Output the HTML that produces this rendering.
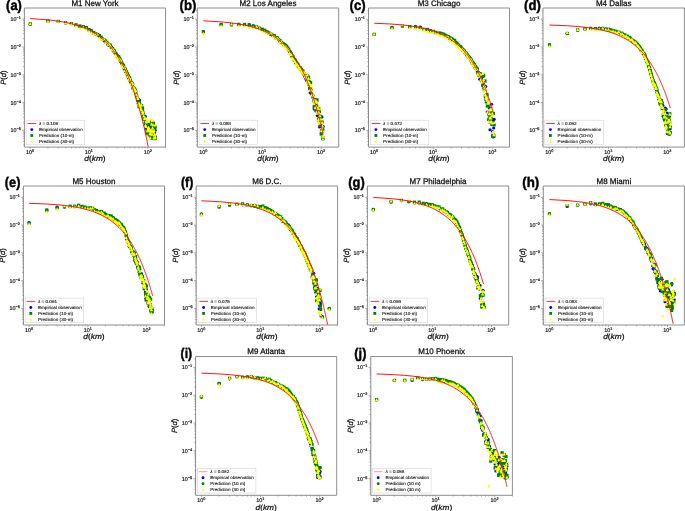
<!DOCTYPE html><html><head><meta charset="utf-8"><style>html,body{margin:0;padding:0;background:#fff}svg{display:block}text{text-rendering:geometricPrecision}</style></head><body>
<svg width="685" height="511" viewBox="0 0 685 511" font-family="&quot;Liberation Sans&quot;, sans-serif">
<rect x="0" y="0" width="685" height="511" fill="#fff"/>
<defs>
<filter id="gs" x="0" y="0" width="100%" height="100%"><feComponentTransfer><feFuncA type="linear" slope="1"/></feComponentTransfer></filter>
<path id="tri" d="M0,-1.6 L1.65,1.6 L-1.65,1.6 Z"/>
</defs>
<clipPath id="ca"><rect x="24.4" y="8" width="141.15" height="139.1"/></clipPath>
<g clip-path="url(#ca)">
<circle cx="30.2" cy="24.52" r="1.6" fill="#0000ff"/>
<circle cx="47.92" cy="21.1" r="1.6" fill="#0000ff"/>
<circle cx="58.28" cy="21.49" r="1.6" fill="#0000ff"/>
<circle cx="65.63" cy="22.79" r="1.6" fill="#0000ff"/>
<circle cx="71.33" cy="23.52" r="1.6" fill="#0000ff"/>
<circle cx="75.99" cy="25.27" r="1.6" fill="#0000ff"/>
<circle cx="79.93" cy="26.69" r="1.6" fill="#0000ff"/>
<circle cx="83.35" cy="26.73" r="1.6" fill="#0000ff"/>
<circle cx="86.36" cy="28.24" r="1.6" fill="#0000ff"/>
<circle cx="89.05" cy="29.45" r="1.6" fill="#0000ff"/>
<circle cx="91.49" cy="30.94" r="1.6" fill="#0000ff"/>
<circle cx="93.71" cy="33.44" r="1.6" fill="#0000ff"/>
<circle cx="95.76" cy="34.01" r="1.6" fill="#0000ff"/>
<circle cx="97.65" cy="34.99" r="1.6" fill="#0000ff"/>
<circle cx="99.41" cy="35.96" r="1.6" fill="#0000ff"/>
<circle cx="101.06" cy="37.62" r="1.6" fill="#0000ff"/>
<circle cx="102.61" cy="39.23" r="1.6" fill="#0000ff"/>
<circle cx="104.07" cy="40.56" r="1.6" fill="#0000ff"/>
<circle cx="105.45" cy="42.15" r="1.6" fill="#0000ff"/>
<circle cx="106.77" cy="42.71" r="1.6" fill="#0000ff"/>
<circle cx="108.01" cy="44.67" r="1.6" fill="#0000ff"/>
<circle cx="109.2" cy="45.14" r="1.6" fill="#0000ff"/>
<circle cx="110.34" cy="46.07" r="1.6" fill="#0000ff"/>
<circle cx="111.43" cy="47.58" r="1.6" fill="#0000ff"/>
<circle cx="112.47" cy="48.88" r="1.6" fill="#0000ff"/>
<circle cx="113.47" cy="51.07" r="1.6" fill="#0000ff"/>
<circle cx="114.44" cy="51.64" r="1.6" fill="#0000ff"/>
<circle cx="115.37" cy="53.39" r="1.6" fill="#0000ff"/>
<circle cx="116.26" cy="54.2" r="1.6" fill="#0000ff"/>
<circle cx="117.13" cy="55.9" r="1.6" fill="#0000ff"/>
<circle cx="117.97" cy="57.13" r="1.6" fill="#0000ff"/>
<circle cx="118.78" cy="57.41" r="1.6" fill="#0000ff"/>
<circle cx="119.56" cy="59.48" r="1.6" fill="#0000ff"/>
<circle cx="120.33" cy="60.3" r="1.6" fill="#0000ff"/>
<circle cx="121.07" cy="62.16" r="1.6" fill="#0000ff"/>
<circle cx="121.79" cy="63.39" r="1.6" fill="#0000ff"/>
<circle cx="122.49" cy="64.88" r="1.6" fill="#0000ff"/>
<circle cx="123.17" cy="64.79" r="1.6" fill="#0000ff"/>
<circle cx="123.83" cy="67.99" r="1.6" fill="#0000ff"/>
<circle cx="124.48" cy="68.37" r="1.6" fill="#0000ff"/>
<circle cx="125.11" cy="69.61" r="1.6" fill="#0000ff"/>
<circle cx="125.73" cy="70.77" r="1.6" fill="#0000ff"/>
<circle cx="126.33" cy="72.56" r="1.6" fill="#0000ff"/>
<circle cx="126.92" cy="72.97" r="1.6" fill="#0000ff"/>
<circle cx="127.49" cy="75.57" r="1.6" fill="#0000ff"/>
<circle cx="128.05" cy="75.42" r="1.6" fill="#0000ff"/>
<circle cx="128.6" cy="77.64" r="1.6" fill="#0000ff"/>
<circle cx="129.14" cy="78.4" r="1.6" fill="#0000ff"/>
<circle cx="129.67" cy="78.72" r="1.6" fill="#0000ff"/>
<circle cx="130.18" cy="80.42" r="1.6" fill="#0000ff"/>
<circle cx="130.69" cy="81.7" r="1.6" fill="#0000ff"/>
<circle cx="131.19" cy="82.73" r="1.6" fill="#0000ff"/>
<circle cx="131.67" cy="83.42" r="1.6" fill="#0000ff"/>
<circle cx="132.15" cy="84.51" r="1.6" fill="#0000ff"/>
<circle cx="132.62" cy="83.98" r="1.6" fill="#0000ff"/>
<circle cx="133.08" cy="88.41" r="1.6" fill="#0000ff"/>
<circle cx="134.41" cy="90.73" r="1.6" fill="#0000ff"/>
<circle cx="134.84" cy="89.47" r="1.6" fill="#0000ff"/>
<circle cx="135.27" cy="90.41" r="1.6" fill="#0000ff"/>
<circle cx="135.68" cy="91.65" r="1.6" fill="#0000ff"/>
<circle cx="136.49" cy="96.69" r="1.6" fill="#0000ff"/>
<circle cx="136.89" cy="98.31" r="1.6" fill="#0000ff"/>
<circle cx="137.66" cy="100.5" r="1.6" fill="#0000ff"/>
<circle cx="138.04" cy="99.01" r="1.6" fill="#0000ff"/>
<circle cx="138.42" cy="103.37" r="1.6" fill="#0000ff"/>
<circle cx="138.78" cy="103.92" r="1.6" fill="#0000ff"/>
<circle cx="139.15" cy="100.99" r="1.6" fill="#0000ff"/>
<circle cx="139.5" cy="100.08" r="1.6" fill="#0000ff"/>
<circle cx="139.86" cy="104.52" r="1.6" fill="#0000ff"/>
<circle cx="140.2" cy="105.24" r="1.6" fill="#0000ff"/>
<circle cx="141.22" cy="108.61" r="1.6" fill="#0000ff"/>
<circle cx="142.2" cy="108.55" r="1.6" fill="#0000ff"/>
<circle cx="142.51" cy="107.89" r="1.6" fill="#0000ff"/>
<circle cx="143.14" cy="116.22" r="1.6" fill="#0000ff"/>
<circle cx="143.44" cy="113.88" r="1.6" fill="#0000ff"/>
<circle cx="143.75" cy="118.23" r="1.6" fill="#0000ff"/>
<circle cx="144.05" cy="117.28" r="1.6" fill="#0000ff"/>
<circle cx="144.34" cy="117.47" r="1.6" fill="#0000ff"/>
<circle cx="144.63" cy="116.29" r="1.6" fill="#0000ff"/>
<circle cx="145.21" cy="116.43" r="1.6" fill="#0000ff"/>
<circle cx="145.77" cy="127.8" r="1.6" fill="#0000ff"/>
<circle cx="146.05" cy="123.45" r="1.6" fill="#0000ff"/>
<circle cx="146.32" cy="124.33" r="1.6" fill="#0000ff"/>
<circle cx="146.86" cy="132.92" r="1.6" fill="#0000ff"/>
<circle cx="147.38" cy="132.1" r="1.6" fill="#0000ff"/>
<circle cx="147.64" cy="126.65" r="1.6" fill="#0000ff"/>
<circle cx="147.9" cy="131.54" r="1.6" fill="#0000ff"/>
<circle cx="148.15" cy="129.14" r="1.6" fill="#0000ff"/>
<circle cx="148.66" cy="123.15" r="1.6" fill="#0000ff"/>
<circle cx="148.9" cy="134.96" r="1.6" fill="#0000ff"/>
<circle cx="149.15" cy="131.82" r="1.6" fill="#0000ff"/>
<circle cx="149.39" cy="128.62" r="1.6" fill="#0000ff"/>
<circle cx="149.63" cy="130.85" r="1.6" fill="#0000ff"/>
<circle cx="149.87" cy="125.6" r="1.6" fill="#0000ff"/>
<circle cx="150.34" cy="128.48" r="1.6" fill="#0000ff"/>
<circle cx="150.8" cy="124.57" r="1.6" fill="#0000ff"/>
<circle cx="151.02" cy="133.85" r="1.6" fill="#0000ff"/>
<circle cx="151.25" cy="136.84" r="1.6" fill="#0000ff"/>
<circle cx="151.47" cy="125.23" r="1.6" fill="#0000ff"/>
<circle cx="151.69" cy="122.6" r="1.6" fill="#0000ff"/>
<circle cx="151.91" cy="134.36" r="1.6" fill="#0000ff"/>
<circle cx="152.13" cy="134.93" r="1.6" fill="#0000ff"/>
<circle cx="152.35" cy="126.04" r="1.6" fill="#0000ff"/>
<circle cx="152.56" cy="126.61" r="1.6" fill="#0000ff"/>
<circle cx="152.77" cy="138.39" r="1.6" fill="#0000ff"/>
<circle cx="152.98" cy="127.72" r="1.6" fill="#0000ff"/>
<circle cx="153.19" cy="125.4" r="1.6" fill="#0000ff"/>
<circle cx="153.4" cy="123.31" r="1.6" fill="#0000ff"/>
<circle cx="153.6" cy="137.51" r="1.6" fill="#0000ff"/>
<circle cx="153.81" cy="131.75" r="1.6" fill="#0000ff"/>
<circle cx="154.01" cy="126.6" r="1.6" fill="#0000ff"/>
<circle cx="154.21" cy="138.37" r="1.6" fill="#0000ff"/>
<circle cx="154.61" cy="132.61" r="1.6" fill="#0000ff"/>
<circle cx="155" cy="137.26" r="1.6" fill="#0000ff"/>
<circle cx="155.19" cy="130.24" r="1.6" fill="#0000ff"/>
<circle cx="155.38" cy="136.64" r="1.6" fill="#0000ff"/>
<rect x="28.6" y="22.2" width="3.2" height="3.2" fill="#008000"/>
<rect x="46.32" y="19.43" width="3.2" height="3.2" fill="#008000"/>
<rect x="56.68" y="19.81" width="3.2" height="3.2" fill="#008000"/>
<rect x="64.03" y="21.07" width="3.2" height="3.2" fill="#008000"/>
<rect x="69.73" y="22.04" width="3.2" height="3.2" fill="#008000"/>
<rect x="74.39" y="23.18" width="3.2" height="3.2" fill="#008000"/>
<rect x="78.33" y="24.33" width="3.2" height="3.2" fill="#008000"/>
<rect x="81.75" y="25.18" width="3.2" height="3.2" fill="#008000"/>
<rect x="84.76" y="25.93" width="3.2" height="3.2" fill="#008000"/>
<rect x="87.45" y="28.32" width="3.2" height="3.2" fill="#008000"/>
<rect x="89.89" y="29.46" width="3.2" height="3.2" fill="#008000"/>
<rect x="92.11" y="30.91" width="3.2" height="3.2" fill="#008000"/>
<rect x="94.16" y="32.28" width="3.2" height="3.2" fill="#008000"/>
<rect x="96.05" y="32.84" width="3.2" height="3.2" fill="#008000"/>
<rect x="97.81" y="34.03" width="3.2" height="3.2" fill="#008000"/>
<rect x="99.46" y="35.6" width="3.2" height="3.2" fill="#008000"/>
<rect x="101.01" y="37.49" width="3.2" height="3.2" fill="#008000"/>
<rect x="102.47" y="38.12" width="3.2" height="3.2" fill="#008000"/>
<rect x="103.85" y="39.4" width="3.2" height="3.2" fill="#008000"/>
<rect x="105.17" y="40.71" width="3.2" height="3.2" fill="#008000"/>
<rect x="106.41" y="42.45" width="3.2" height="3.2" fill="#008000"/>
<rect x="107.6" y="43.68" width="3.2" height="3.2" fill="#008000"/>
<rect x="108.74" y="43.56" width="3.2" height="3.2" fill="#008000"/>
<rect x="109.83" y="45.89" width="3.2" height="3.2" fill="#008000"/>
<rect x="110.87" y="47.13" width="3.2" height="3.2" fill="#008000"/>
<rect x="111.87" y="48.45" width="3.2" height="3.2" fill="#008000"/>
<rect x="112.84" y="49.38" width="3.2" height="3.2" fill="#008000"/>
<rect x="113.77" y="51.6" width="3.2" height="3.2" fill="#008000"/>
<rect x="114.66" y="52.46" width="3.2" height="3.2" fill="#008000"/>
<rect x="115.53" y="54.04" width="3.2" height="3.2" fill="#008000"/>
<rect x="116.37" y="54.97" width="3.2" height="3.2" fill="#008000"/>
<rect x="117.18" y="55.31" width="3.2" height="3.2" fill="#008000"/>
<rect x="117.96" y="56.86" width="3.2" height="3.2" fill="#008000"/>
<rect x="118.73" y="58.36" width="3.2" height="3.2" fill="#008000"/>
<rect x="119.47" y="59.72" width="3.2" height="3.2" fill="#008000"/>
<rect x="120.19" y="61.19" width="3.2" height="3.2" fill="#008000"/>
<rect x="120.89" y="63.42" width="3.2" height="3.2" fill="#008000"/>
<rect x="121.57" y="63.93" width="3.2" height="3.2" fill="#008000"/>
<rect x="122.23" y="65.45" width="3.2" height="3.2" fill="#008000"/>
<rect x="122.88" y="66.91" width="3.2" height="3.2" fill="#008000"/>
<rect x="123.51" y="67.73" width="3.2" height="3.2" fill="#008000"/>
<rect x="124.13" y="69.47" width="3.2" height="3.2" fill="#008000"/>
<rect x="124.73" y="70.51" width="3.2" height="3.2" fill="#008000"/>
<rect x="125.32" y="71.72" width="3.2" height="3.2" fill="#008000"/>
<rect x="125.89" y="72.77" width="3.2" height="3.2" fill="#008000"/>
<rect x="126.45" y="74.18" width="3.2" height="3.2" fill="#008000"/>
<rect x="127" y="75.47" width="3.2" height="3.2" fill="#008000"/>
<rect x="127.54" y="76.49" width="3.2" height="3.2" fill="#008000"/>
<rect x="128.07" y="76.36" width="3.2" height="3.2" fill="#008000"/>
<rect x="128.58" y="78.88" width="3.2" height="3.2" fill="#008000"/>
<rect x="129.09" y="79.69" width="3.2" height="3.2" fill="#008000"/>
<rect x="129.59" y="81.27" width="3.2" height="3.2" fill="#008000"/>
<rect x="130.07" y="81.25" width="3.2" height="3.2" fill="#008000"/>
<rect x="130.55" y="82.57" width="3.2" height="3.2" fill="#008000"/>
<rect x="131.02" y="82.4" width="3.2" height="3.2" fill="#008000"/>
<rect x="131.48" y="86.89" width="3.2" height="3.2" fill="#008000"/>
<rect x="131.93" y="86.7" width="3.2" height="3.2" fill="#008000"/>
<rect x="132.38" y="86.59" width="3.2" height="3.2" fill="#008000"/>
<rect x="132.81" y="88.13" width="3.2" height="3.2" fill="#008000"/>
<rect x="133.24" y="87.75" width="3.2" height="3.2" fill="#008000"/>
<rect x="134.08" y="90.22" width="3.2" height="3.2" fill="#008000"/>
<rect x="134.49" y="93.16" width="3.2" height="3.2" fill="#008000"/>
<rect x="134.89" y="94.34" width="3.2" height="3.2" fill="#008000"/>
<rect x="135.29" y="95.42" width="3.2" height="3.2" fill="#008000"/>
<rect x="135.68" y="97.19" width="3.2" height="3.2" fill="#008000"/>
<rect x="136.06" y="98.11" width="3.2" height="3.2" fill="#008000"/>
<rect x="136.44" y="98.16" width="3.2" height="3.2" fill="#008000"/>
<rect x="136.82" y="101.47" width="3.2" height="3.2" fill="#008000"/>
<rect x="137.18" y="104.87" width="3.2" height="3.2" fill="#008000"/>
<rect x="137.55" y="101.75" width="3.2" height="3.2" fill="#008000"/>
<rect x="137.9" y="101.76" width="3.2" height="3.2" fill="#008000"/>
<rect x="138.26" y="103.59" width="3.2" height="3.2" fill="#008000"/>
<rect x="138.6" y="105.15" width="3.2" height="3.2" fill="#008000"/>
<rect x="139.95" y="103.89" width="3.2" height="3.2" fill="#008000"/>
<rect x="140.28" y="106.13" width="3.2" height="3.2" fill="#008000"/>
<rect x="140.6" y="110.54" width="3.2" height="3.2" fill="#008000"/>
<rect x="140.91" y="107.64" width="3.2" height="3.2" fill="#008000"/>
<rect x="141.23" y="110.84" width="3.2" height="3.2" fill="#008000"/>
<rect x="141.54" y="113.51" width="3.2" height="3.2" fill="#008000"/>
<rect x="141.84" y="115.04" width="3.2" height="3.2" fill="#008000"/>
<rect x="142.15" y="117.36" width="3.2" height="3.2" fill="#008000"/>
<rect x="142.45" y="115.75" width="3.2" height="3.2" fill="#008000"/>
<rect x="142.74" y="117.31" width="3.2" height="3.2" fill="#008000"/>
<rect x="143.61" y="122.04" width="3.2" height="3.2" fill="#008000"/>
<rect x="143.89" y="121.29" width="3.2" height="3.2" fill="#008000"/>
<rect x="144.45" y="122.85" width="3.2" height="3.2" fill="#008000"/>
<rect x="144.72" y="119.8" width="3.2" height="3.2" fill="#008000"/>
<rect x="144.99" y="122.68" width="3.2" height="3.2" fill="#008000"/>
<rect x="145.26" y="128.71" width="3.2" height="3.2" fill="#008000"/>
<rect x="145.52" y="120.72" width="3.2" height="3.2" fill="#008000"/>
<rect x="145.78" y="131.04" width="3.2" height="3.2" fill="#008000"/>
<rect x="146.3" y="128.78" width="3.2" height="3.2" fill="#008000"/>
<rect x="146.55" y="127.16" width="3.2" height="3.2" fill="#008000"/>
<rect x="146.81" y="126.25" width="3.2" height="3.2" fill="#008000"/>
<rect x="147.06" y="126.34" width="3.2" height="3.2" fill="#008000"/>
<rect x="147.3" y="131.32" width="3.2" height="3.2" fill="#008000"/>
<rect x="147.55" y="127.22" width="3.2" height="3.2" fill="#008000"/>
<rect x="147.79" y="129.51" width="3.2" height="3.2" fill="#008000"/>
<rect x="148.27" y="127.76" width="3.2" height="3.2" fill="#008000"/>
<rect x="148.5" y="133.01" width="3.2" height="3.2" fill="#008000"/>
<rect x="148.74" y="122.41" width="3.2" height="3.2" fill="#008000"/>
<rect x="148.97" y="134.85" width="3.2" height="3.2" fill="#008000"/>
<rect x="149.2" y="131.71" width="3.2" height="3.2" fill="#008000"/>
<rect x="149.42" y="127.31" width="3.2" height="3.2" fill="#008000"/>
<rect x="149.65" y="136.31" width="3.2" height="3.2" fill="#008000"/>
<rect x="149.87" y="121.37" width="3.2" height="3.2" fill="#008000"/>
<rect x="150.09" y="119.9" width="3.2" height="3.2" fill="#008000"/>
<rect x="150.31" y="132.46" width="3.2" height="3.2" fill="#008000"/>
<rect x="150.75" y="124.13" width="3.2" height="3.2" fill="#008000"/>
<rect x="150.96" y="126.3" width="3.2" height="3.2" fill="#008000"/>
<rect x="151.38" y="123.56" width="3.2" height="3.2" fill="#008000"/>
<rect x="151.59" y="121.41" width="3.2" height="3.2" fill="#008000"/>
<rect x="151.8" y="131.84" width="3.2" height="3.2" fill="#008000"/>
<rect x="152" y="136.53" width="3.2" height="3.2" fill="#008000"/>
<rect x="152.21" y="131.92" width="3.2" height="3.2" fill="#008000"/>
<rect x="152.61" y="135.78" width="3.2" height="3.2" fill="#008000"/>
<rect x="152.81" y="136.61" width="3.2" height="3.2" fill="#008000"/>
<rect x="153.01" y="127.8" width="3.2" height="3.2" fill="#008000"/>
<rect x="153.2" y="135.12" width="3.2" height="3.2" fill="#008000"/>
<rect x="153.4" y="137.02" width="3.2" height="3.2" fill="#008000"/>
<rect x="153.59" y="125.36" width="3.2" height="3.2" fill="#008000"/>
<rect x="153.78" y="136.71" width="3.2" height="3.2" fill="#008000"/>
<use href="#tri" x="30.2" y="23.59" fill="#ffff00"/>
<use href="#tri" x="47.92" y="21.24" fill="#ffff00"/>
<use href="#tri" x="58.28" y="21.17" fill="#ffff00"/>
<use href="#tri" x="65.63" y="22.52" fill="#ffff00"/>
<use href="#tri" x="71.33" y="23.57" fill="#ffff00"/>
<use href="#tri" x="75.99" y="25.82" fill="#ffff00"/>
<use href="#tri" x="79.93" y="28" fill="#ffff00"/>
<use href="#tri" x="83.35" y="27.31" fill="#ffff00"/>
<use href="#tri" x="86.36" y="28.65" fill="#ffff00"/>
<use href="#tri" x="89.05" y="30.58" fill="#ffff00"/>
<use href="#tri" x="91.49" y="32.12" fill="#ffff00"/>
<use href="#tri" x="93.71" y="33.87" fill="#ffff00"/>
<use href="#tri" x="95.76" y="33.83" fill="#ffff00"/>
<use href="#tri" x="97.65" y="34.49" fill="#ffff00"/>
<use href="#tri" x="99.41" y="38.1" fill="#ffff00"/>
<use href="#tri" x="101.06" y="38.98" fill="#ffff00"/>
<use href="#tri" x="102.61" y="39.09" fill="#ffff00"/>
<use href="#tri" x="104.07" y="39.05" fill="#ffff00"/>
<use href="#tri" x="105.45" y="42.15" fill="#ffff00"/>
<use href="#tri" x="106.77" y="42.41" fill="#ffff00"/>
<use href="#tri" x="108.01" y="44.12" fill="#ffff00"/>
<use href="#tri" x="109.2" y="44.36" fill="#ffff00"/>
<use href="#tri" x="110.34" y="45.95" fill="#ffff00"/>
<use href="#tri" x="111.43" y="48.53" fill="#ffff00"/>
<use href="#tri" x="112.47" y="48.78" fill="#ffff00"/>
<use href="#tri" x="113.47" y="49.88" fill="#ffff00"/>
<use href="#tri" x="114.44" y="51.04" fill="#ffff00"/>
<use href="#tri" x="115.37" y="54.3" fill="#ffff00"/>
<use href="#tri" x="116.26" y="55.78" fill="#ffff00"/>
<use href="#tri" x="117.13" y="57.95" fill="#ffff00"/>
<use href="#tri" x="117.97" y="57.84" fill="#ffff00"/>
<use href="#tri" x="118.78" y="58.04" fill="#ffff00"/>
<use href="#tri" x="119.56" y="59.06" fill="#ffff00"/>
<use href="#tri" x="120.33" y="59.9" fill="#ffff00"/>
<use href="#tri" x="121.07" y="60.69" fill="#ffff00"/>
<use href="#tri" x="121.79" y="64.27" fill="#ffff00"/>
<use href="#tri" x="122.49" y="65.62" fill="#ffff00"/>
<use href="#tri" x="123.17" y="66.75" fill="#ffff00"/>
<use href="#tri" x="123.83" y="66.85" fill="#ffff00"/>
<use href="#tri" x="124.48" y="67.35" fill="#ffff00"/>
<use href="#tri" x="125.11" y="70.23" fill="#ffff00"/>
<use href="#tri" x="125.73" y="70.32" fill="#ffff00"/>
<use href="#tri" x="126.33" y="72.38" fill="#ffff00"/>
<use href="#tri" x="126.92" y="73.69" fill="#ffff00"/>
<use href="#tri" x="127.49" y="76.44" fill="#ffff00"/>
<use href="#tri" x="128.05" y="75.78" fill="#ffff00"/>
<use href="#tri" x="128.6" y="79.17" fill="#ffff00"/>
<use href="#tri" x="129.14" y="77.59" fill="#ffff00"/>
<use href="#tri" x="129.67" y="78.41" fill="#ffff00"/>
<use href="#tri" x="130.18" y="79.82" fill="#ffff00"/>
<use href="#tri" x="130.69" y="83.06" fill="#ffff00"/>
<use href="#tri" x="131.19" y="83.22" fill="#ffff00"/>
<use href="#tri" x="131.67" y="84.82" fill="#ffff00"/>
<use href="#tri" x="132.15" y="83.47" fill="#ffff00"/>
<use href="#tri" x="132.62" y="83.04" fill="#ffff00"/>
<use href="#tri" x="133.08" y="88.18" fill="#ffff00"/>
<use href="#tri" x="133.53" y="89.11" fill="#ffff00"/>
<use href="#tri" x="133.98" y="87.69" fill="#ffff00"/>
<use href="#tri" x="134.41" y="91.44" fill="#ffff00"/>
<use href="#tri" x="134.84" y="89.59" fill="#ffff00"/>
<use href="#tri" x="135.27" y="90.41" fill="#ffff00"/>
<use href="#tri" x="135.68" y="90.34" fill="#ffff00"/>
<use href="#tri" x="136.09" y="94.41" fill="#ffff00"/>
<use href="#tri" x="136.49" y="98.17" fill="#ffff00"/>
<use href="#tri" x="137.28" y="96.8" fill="#ffff00"/>
<use href="#tri" x="138.04" y="98.49" fill="#ffff00"/>
<use href="#tri" x="138.42" y="103.89" fill="#ffff00"/>
<use href="#tri" x="138.78" y="105.57" fill="#ffff00"/>
<use href="#tri" x="139.15" y="103.16" fill="#ffff00"/>
<use href="#tri" x="139.5" y="104.41" fill="#ffff00"/>
<use href="#tri" x="140.2" y="106.4" fill="#ffff00"/>
<use href="#tri" x="140.55" y="109.19" fill="#ffff00"/>
<use href="#tri" x="140.89" y="109.54" fill="#ffff00"/>
<use href="#tri" x="141.22" y="108.94" fill="#ffff00"/>
<use href="#tri" x="141.55" y="105.02" fill="#ffff00"/>
<use href="#tri" x="142.51" y="111.53" fill="#ffff00"/>
<use href="#tri" x="142.83" y="111.92" fill="#ffff00"/>
<use href="#tri" x="143.14" y="113.21" fill="#ffff00"/>
<use href="#tri" x="143.75" y="115.93" fill="#ffff00"/>
<use href="#tri" x="144.63" y="118.44" fill="#ffff00"/>
<use href="#tri" x="144.92" y="117.54" fill="#ffff00"/>
<use href="#tri" x="145.49" y="125.29" fill="#ffff00"/>
<use href="#tri" x="146.05" y="126.28" fill="#ffff00"/>
<use href="#tri" x="146.32" y="121.86" fill="#ffff00"/>
<use href="#tri" x="146.59" y="120.87" fill="#ffff00"/>
<use href="#tri" x="147.12" y="119.77" fill="#ffff00"/>
<use href="#tri" x="147.38" y="136.57" fill="#ffff00"/>
<use href="#tri" x="147.64" y="130.53" fill="#ffff00"/>
<use href="#tri" x="147.9" y="129.56" fill="#ffff00"/>
<use href="#tri" x="148.15" y="130.22" fill="#ffff00"/>
<use href="#tri" x="148.41" y="127.32" fill="#ffff00"/>
<use href="#tri" x="148.66" y="121.51" fill="#ffff00"/>
<use href="#tri" x="148.9" y="130.63" fill="#ffff00"/>
<use href="#tri" x="149.15" y="128.44" fill="#ffff00"/>
<use href="#tri" x="149.39" y="129.33" fill="#ffff00"/>
<use href="#tri" x="149.63" y="130.01" fill="#ffff00"/>
<use href="#tri" x="149.87" y="133.53" fill="#ffff00"/>
<use href="#tri" x="150.1" y="137.66" fill="#ffff00"/>
<use href="#tri" x="150.34" y="133.64" fill="#ffff00"/>
<use href="#tri" x="151.02" y="130.1" fill="#ffff00"/>
<use href="#tri" x="151.25" y="131.14" fill="#ffff00"/>
<use href="#tri" x="151.47" y="123.82" fill="#ffff00"/>
<use href="#tri" x="151.69" y="119.46" fill="#ffff00"/>
<use href="#tri" x="151.91" y="134.19" fill="#ffff00"/>
<use href="#tri" x="152.13" y="130.82" fill="#ffff00"/>
<use href="#tri" x="152.35" y="120.28" fill="#ffff00"/>
<use href="#tri" x="152.56" y="127.89" fill="#ffff00"/>
<use href="#tri" x="152.98" y="124.69" fill="#ffff00"/>
<use href="#tri" x="153.6" y="131.97" fill="#ffff00"/>
<use href="#tri" x="153.81" y="137.95" fill="#ffff00"/>
<use href="#tri" x="154.01" y="130.33" fill="#ffff00"/>
<use href="#tri" x="154.41" y="134.94" fill="#ffff00"/>
<use href="#tri" x="154.8" y="134.37" fill="#ffff00"/>
<use href="#tri" x="155" y="137.74" fill="#ffff00"/>
<use href="#tri" x="155.19" y="124.78" fill="#ffff00"/>
<use href="#tri" x="155.38" y="136.95" fill="#ffff00"/>
<polyline points="30.2,18.55 47.92,19.83 58.28,21.11 65.63,22.39 71.33,23.67 75.99,24.95 79.93,26.23 83.35,27.5 86.36,28.78 89.05,30.06 91.49,31.34 93.71,32.62 95.76,33.9 97.65,35.18 99.41,36.46 101.06,37.74 102.61,39.02 104.07,40.3 105.45,41.58 106.77,42.86 108.01,44.14 109.2,45.42 110.34,46.7 111.43,47.98 112.47,49.26 113.47,50.54 114.44,51.82 115.37,53.1 116.26,54.38 117.13,55.66 117.97,56.94 118.78,58.22 119.56,59.5 120.33,60.78 121.07,62.06 121.79,63.34 122.49,64.62 123.17,65.9 123.83,67.18 124.48,68.46 125.11,69.74 125.73,71.02 126.33,72.3 126.92,73.58 127.49,74.86 128.05,76.14 128.6,77.42 129.14,78.7 129.67,79.98 130.18,81.26 130.69,82.54 131.19,83.82 131.67,85.1 132.15,86.37 132.62,87.65 133.08,88.93 133.53,90.21 133.98,91.49 134.41,92.77 134.84,94.05 135.27,95.33 135.68,96.61 136.09,97.89 136.49,99.17 136.89,100.45 137.28,101.73 137.66,103.01 138.04,104.29 138.42,105.57 138.78,106.85 139.15,108.13 139.5,109.41 139.86,110.69 140.2,111.97 140.55,113.25 140.89,114.53 141.22,115.81 141.55,117.09 141.88,118.37 142.2,119.65 142.51,120.93 142.83,122.21 143.14,123.49 143.44,124.77 143.75,126.05 144.05,127.33 144.34,128.61 144.63,129.89 144.92,131.17 145.21,132.45 145.49,133.73 145.77,135.01 146.05,136.29 146.32,137.57 146.59,138.85 146.86,140.13 147.12,141.41 147.38,142.69 147.64,143.96 147.9,145.24 148.15,146.52 148.41,147.8" fill="none" stroke="#ff1414" stroke-width="1.0" stroke-linejoin="round"/>
</g>
<rect x="26.15" y="120.2" width="58.55" height="24.6" fill="#fff" fill-opacity="0.85" stroke="#d4d4d4" stroke-width="0.6"/>
<line x1="27.6" y1="123.5" x2="36.2" y2="123.5" stroke="#ff2020" stroke-width="0.9"/>
<circle cx="31.8" cy="129.6" r="1.45" fill="#0000ff"/>
<rect x="30.4" y="134.1" width="2.8" height="2.8" fill="#008000"/>
<path d="M31.8,139.85 L33.25,142.65 L30.35,142.65 Z" fill="#ffff00"/>
<path d="M24.4,8H165.55V147.1H24.4Z" fill="none" stroke="#8e8e8e" stroke-width="1"/>
<path d="M30.2,147.1v2.2M47.92,147.1v1.3M58.28,147.1v1.3M65.63,147.1v1.3M71.33,147.1v1.3M75.99,147.1v1.3M79.93,147.1v1.3M83.35,147.1v1.3M86.36,147.1v1.3M89.05,147.1v2.2M106.77,147.1v1.3M117.13,147.1v1.3M124.48,147.1v1.3M130.18,147.1v1.3M134.84,147.1v1.3M138.78,147.1v1.3M142.2,147.1v1.3M145.21,147.1v1.3M147.9,147.1v2.2M165.62,147.1v1.3M24.4,144.99h-1.3M24.4,141.51h-1.3M24.4,138.82h-1.3M24.4,136.62h-1.3M24.4,134.76h-1.3M24.4,133.14h-1.3M24.4,131.72h-1.3M24.4,130.45h-2.2M24.4,122.08h-1.3M24.4,117.19h-1.3M24.4,113.71h-1.3M24.4,111.02h-1.3M24.4,108.82h-1.3M24.4,106.96h-1.3M24.4,105.34h-1.3M24.4,103.92h-1.3M24.4,102.65h-2.2M24.4,94.28h-1.3M24.4,89.39h-1.3M24.4,85.91h-1.3M24.4,83.22h-1.3M24.4,81.02h-1.3M24.4,79.16h-1.3M24.4,77.54h-1.3M24.4,76.12h-1.3M24.4,74.85h-2.2M24.4,66.48h-1.3M24.4,61.59h-1.3M24.4,58.11h-1.3M24.4,55.42h-1.3M24.4,53.22h-1.3M24.4,51.36h-1.3M24.4,49.74h-1.3M24.4,48.32h-1.3M24.4,47.05h-2.2M24.4,38.68h-1.3M24.4,33.79h-1.3M24.4,30.31h-1.3M24.4,27.62h-1.3M24.4,25.42h-1.3M24.4,23.56h-1.3M24.4,21.94h-1.3M24.4,20.52h-1.3M24.4,19.25h-2.2M24.4,10.88h-1.3" stroke="#707070" stroke-width="0.55" fill="none"/>
<clipPath id="cb"><rect x="197.3" y="8" width="141.4" height="139.1"/></clipPath>
<g clip-path="url(#cb)">
<circle cx="203.4" cy="31.87" r="1.6" fill="#0000ff"/>
<circle cx="221.13" cy="24.4" r="1.6" fill="#0000ff"/>
<circle cx="231.5" cy="24.28" r="1.6" fill="#0000ff"/>
<circle cx="238.86" cy="24.43" r="1.6" fill="#0000ff"/>
<circle cx="244.57" cy="24.72" r="1.6" fill="#0000ff"/>
<circle cx="249.23" cy="25.16" r="1.6" fill="#0000ff"/>
<circle cx="253.18" cy="25.96" r="1.6" fill="#0000ff"/>
<circle cx="256.59" cy="26.81" r="1.6" fill="#0000ff"/>
<circle cx="259.6" cy="28.22" r="1.6" fill="#0000ff"/>
<circle cx="262.3" cy="29.72" r="1.6" fill="#0000ff"/>
<circle cx="264.74" cy="30.52" r="1.6" fill="#0000ff"/>
<circle cx="266.96" cy="31.79" r="1.6" fill="#0000ff"/>
<circle cx="269.01" cy="33.1" r="1.6" fill="#0000ff"/>
<circle cx="270.91" cy="34.22" r="1.6" fill="#0000ff"/>
<circle cx="272.67" cy="35.26" r="1.6" fill="#0000ff"/>
<circle cx="274.32" cy="35.98" r="1.6" fill="#0000ff"/>
<circle cx="275.87" cy="37.41" r="1.6" fill="#0000ff"/>
<circle cx="277.34" cy="38.18" r="1.6" fill="#0000ff"/>
<circle cx="278.72" cy="39.66" r="1.6" fill="#0000ff"/>
<circle cx="280.03" cy="40.92" r="1.6" fill="#0000ff"/>
<circle cx="281.28" cy="42.53" r="1.6" fill="#0000ff"/>
<circle cx="282.47" cy="43" r="1.6" fill="#0000ff"/>
<circle cx="283.61" cy="44.99" r="1.6" fill="#0000ff"/>
<circle cx="284.69" cy="44.57" r="1.6" fill="#0000ff"/>
<circle cx="285.74" cy="46.36" r="1.6" fill="#0000ff"/>
<circle cx="286.74" cy="46.57" r="1.6" fill="#0000ff"/>
<circle cx="287.71" cy="48.56" r="1.6" fill="#0000ff"/>
<circle cx="288.64" cy="50.12" r="1.6" fill="#0000ff"/>
<circle cx="289.54" cy="51.63" r="1.6" fill="#0000ff"/>
<circle cx="290.4" cy="52.42" r="1.6" fill="#0000ff"/>
<circle cx="291.24" cy="54.26" r="1.6" fill="#0000ff"/>
<circle cx="292.05" cy="56.07" r="1.6" fill="#0000ff"/>
<circle cx="292.84" cy="57.17" r="1.6" fill="#0000ff"/>
<circle cx="293.6" cy="58.84" r="1.6" fill="#0000ff"/>
<circle cx="294.35" cy="60.47" r="1.6" fill="#0000ff"/>
<circle cx="295.07" cy="59.89" r="1.6" fill="#0000ff"/>
<circle cx="295.77" cy="63.2" r="1.6" fill="#0000ff"/>
<circle cx="296.45" cy="63.36" r="1.6" fill="#0000ff"/>
<circle cx="297.11" cy="64.28" r="1.6" fill="#0000ff"/>
<circle cx="297.76" cy="64.15" r="1.6" fill="#0000ff"/>
<circle cx="298.39" cy="66.3" r="1.6" fill="#0000ff"/>
<circle cx="299.01" cy="67.14" r="1.6" fill="#0000ff"/>
<circle cx="299.61" cy="67.69" r="1.6" fill="#0000ff"/>
<circle cx="300.2" cy="68.47" r="1.6" fill="#0000ff"/>
<circle cx="300.77" cy="69" r="1.6" fill="#0000ff"/>
<circle cx="301.34" cy="69.87" r="1.6" fill="#0000ff"/>
<circle cx="301.89" cy="71.45" r="1.6" fill="#0000ff"/>
<circle cx="302.43" cy="71.72" r="1.6" fill="#0000ff"/>
<circle cx="302.95" cy="71.88" r="1.6" fill="#0000ff"/>
<circle cx="303.47" cy="72.93" r="1.6" fill="#0000ff"/>
<circle cx="304.96" cy="76.61" r="1.6" fill="#0000ff"/>
<circle cx="305.44" cy="75.73" r="1.6" fill="#0000ff"/>
<circle cx="305.91" cy="78.95" r="1.6" fill="#0000ff"/>
<circle cx="306.37" cy="77.07" r="1.6" fill="#0000ff"/>
<circle cx="306.82" cy="81.12" r="1.6" fill="#0000ff"/>
<circle cx="307.27" cy="75.45" r="1.6" fill="#0000ff"/>
<circle cx="307.7" cy="81.38" r="1.6" fill="#0000ff"/>
<circle cx="308.13" cy="82.5" r="1.6" fill="#0000ff"/>
<circle cx="308.56" cy="78.14" r="1.6" fill="#0000ff"/>
<circle cx="309.38" cy="82.52" r="1.6" fill="#0000ff"/>
<circle cx="309.78" cy="88.21" r="1.6" fill="#0000ff"/>
<circle cx="310.18" cy="92.82" r="1.6" fill="#0000ff"/>
<circle cx="310.96" cy="89.56" r="1.6" fill="#0000ff"/>
<circle cx="311.33" cy="90.67" r="1.6" fill="#0000ff"/>
<circle cx="311.71" cy="94.77" r="1.6" fill="#0000ff"/>
<circle cx="313.15" cy="95.82" r="1.6" fill="#0000ff"/>
<circle cx="314.18" cy="109.05" r="1.6" fill="#0000ff"/>
<circle cx="314.51" cy="99.85" r="1.6" fill="#0000ff"/>
<circle cx="314.84" cy="106.16" r="1.6" fill="#0000ff"/>
<circle cx="315.17" cy="104.27" r="1.6" fill="#0000ff"/>
<circle cx="315.49" cy="99.8" r="1.6" fill="#0000ff"/>
<circle cx="315.81" cy="101.63" r="1.6" fill="#0000ff"/>
<circle cx="316.12" cy="111.49" r="1.6" fill="#0000ff"/>
<circle cx="316.43" cy="110.61" r="1.6" fill="#0000ff"/>
<circle cx="316.74" cy="102.06" r="1.6" fill="#0000ff"/>
<circle cx="317.34" cy="115.39" r="1.6" fill="#0000ff"/>
<circle cx="317.64" cy="111.68" r="1.6" fill="#0000ff"/>
<circle cx="318.22" cy="114.34" r="1.6" fill="#0000ff"/>
<circle cx="318.5" cy="121.64" r="1.6" fill="#0000ff"/>
<circle cx="319.07" cy="120.85" r="1.6" fill="#0000ff"/>
<circle cx="319.34" cy="108.68" r="1.6" fill="#0000ff"/>
<circle cx="319.62" cy="126.98" r="1.6" fill="#0000ff"/>
<circle cx="320.16" cy="117.93" r="1.6" fill="#0000ff"/>
<circle cx="320.42" cy="117.97" r="1.6" fill="#0000ff"/>
<circle cx="320.94" cy="124.97" r="1.6" fill="#0000ff"/>
<circle cx="321.71" cy="129.9" r="1.6" fill="#0000ff"/>
<circle cx="321.96" cy="117" r="1.6" fill="#0000ff"/>
<circle cx="322.2" cy="130.48" r="1.6" fill="#0000ff"/>
<circle cx="322.45" cy="131.44" r="1.6" fill="#0000ff"/>
<circle cx="322.69" cy="129.65" r="1.6" fill="#0000ff"/>
<circle cx="322.93" cy="139.17" r="1.6" fill="#0000ff"/>
<circle cx="323.17" cy="126.6" r="1.6" fill="#0000ff"/>
<rect x="201.8" y="30.12" width="3.2" height="3.2" fill="#008000"/>
<rect x="219.53" y="23.12" width="3.2" height="3.2" fill="#008000"/>
<rect x="229.9" y="23.34" width="3.2" height="3.2" fill="#008000"/>
<rect x="237.26" y="22.8" width="3.2" height="3.2" fill="#008000"/>
<rect x="242.97" y="22.87" width="3.2" height="3.2" fill="#008000"/>
<rect x="247.63" y="23.1" width="3.2" height="3.2" fill="#008000"/>
<rect x="251.58" y="24.37" width="3.2" height="3.2" fill="#008000"/>
<rect x="254.99" y="25.43" width="3.2" height="3.2" fill="#008000"/>
<rect x="258" y="26.74" width="3.2" height="3.2" fill="#008000"/>
<rect x="260.7" y="27.63" width="3.2" height="3.2" fill="#008000"/>
<rect x="263.14" y="28.63" width="3.2" height="3.2" fill="#008000"/>
<rect x="265.36" y="30.24" width="3.2" height="3.2" fill="#008000"/>
<rect x="267.41" y="31.44" width="3.2" height="3.2" fill="#008000"/>
<rect x="269.31" y="32.65" width="3.2" height="3.2" fill="#008000"/>
<rect x="271.07" y="33.7" width="3.2" height="3.2" fill="#008000"/>
<rect x="272.72" y="34.12" width="3.2" height="3.2" fill="#008000"/>
<rect x="274.27" y="36.08" width="3.2" height="3.2" fill="#008000"/>
<rect x="275.74" y="36.4" width="3.2" height="3.2" fill="#008000"/>
<rect x="277.12" y="37.83" width="3.2" height="3.2" fill="#008000"/>
<rect x="278.43" y="39.22" width="3.2" height="3.2" fill="#008000"/>
<rect x="279.68" y="40.75" width="3.2" height="3.2" fill="#008000"/>
<rect x="280.87" y="41.79" width="3.2" height="3.2" fill="#008000"/>
<rect x="282.01" y="42.39" width="3.2" height="3.2" fill="#008000"/>
<rect x="283.09" y="43.16" width="3.2" height="3.2" fill="#008000"/>
<rect x="284.14" y="43.9" width="3.2" height="3.2" fill="#008000"/>
<rect x="285.14" y="44.92" width="3.2" height="3.2" fill="#008000"/>
<rect x="286.11" y="46.9" width="3.2" height="3.2" fill="#008000"/>
<rect x="287.04" y="47.58" width="3.2" height="3.2" fill="#008000"/>
<rect x="287.94" y="49.65" width="3.2" height="3.2" fill="#008000"/>
<rect x="288.8" y="50.73" width="3.2" height="3.2" fill="#008000"/>
<rect x="289.64" y="52.22" width="3.2" height="3.2" fill="#008000"/>
<rect x="290.45" y="54.41" width="3.2" height="3.2" fill="#008000"/>
<rect x="291.24" y="54.72" width="3.2" height="3.2" fill="#008000"/>
<rect x="292" y="57.25" width="3.2" height="3.2" fill="#008000"/>
<rect x="292.75" y="58.56" width="3.2" height="3.2" fill="#008000"/>
<rect x="293.47" y="58.75" width="3.2" height="3.2" fill="#008000"/>
<rect x="294.17" y="60.6" width="3.2" height="3.2" fill="#008000"/>
<rect x="294.85" y="61.88" width="3.2" height="3.2" fill="#008000"/>
<rect x="295.51" y="62.2" width="3.2" height="3.2" fill="#008000"/>
<rect x="296.16" y="62.97" width="3.2" height="3.2" fill="#008000"/>
<rect x="296.79" y="64.81" width="3.2" height="3.2" fill="#008000"/>
<rect x="297.41" y="65.54" width="3.2" height="3.2" fill="#008000"/>
<rect x="298.01" y="66.28" width="3.2" height="3.2" fill="#008000"/>
<rect x="298.6" y="66.21" width="3.2" height="3.2" fill="#008000"/>
<rect x="299.17" y="67.41" width="3.2" height="3.2" fill="#008000"/>
<rect x="299.74" y="67.98" width="3.2" height="3.2" fill="#008000"/>
<rect x="300.29" y="69" width="3.2" height="3.2" fill="#008000"/>
<rect x="300.83" y="70.47" width="3.2" height="3.2" fill="#008000"/>
<rect x="301.35" y="69.59" width="3.2" height="3.2" fill="#008000"/>
<rect x="301.87" y="72.45" width="3.2" height="3.2" fill="#008000"/>
<rect x="302.87" y="72.39" width="3.2" height="3.2" fill="#008000"/>
<rect x="303.36" y="73.86" width="3.2" height="3.2" fill="#008000"/>
<rect x="303.84" y="74.64" width="3.2" height="3.2" fill="#008000"/>
<rect x="305.67" y="75.02" width="3.2" height="3.2" fill="#008000"/>
<rect x="306.1" y="79.93" width="3.2" height="3.2" fill="#008000"/>
<rect x="306.53" y="79.8" width="3.2" height="3.2" fill="#008000"/>
<rect x="306.96" y="75.57" width="3.2" height="3.2" fill="#008000"/>
<rect x="307.37" y="82.6" width="3.2" height="3.2" fill="#008000"/>
<rect x="307.78" y="80.25" width="3.2" height="3.2" fill="#008000"/>
<rect x="308.18" y="87.01" width="3.2" height="3.2" fill="#008000"/>
<rect x="308.58" y="86.58" width="3.2" height="3.2" fill="#008000"/>
<rect x="308.97" y="81.08" width="3.2" height="3.2" fill="#008000"/>
<rect x="309.73" y="89.96" width="3.2" height="3.2" fill="#008000"/>
<rect x="310.84" y="93.59" width="3.2" height="3.2" fill="#008000"/>
<rect x="311.2" y="95.19" width="3.2" height="3.2" fill="#008000"/>
<rect x="312.24" y="99.09" width="3.2" height="3.2" fill="#008000"/>
<rect x="312.58" y="105.25" width="3.2" height="3.2" fill="#008000"/>
<rect x="313.24" y="99.44" width="3.2" height="3.2" fill="#008000"/>
<rect x="313.57" y="103.54" width="3.2" height="3.2" fill="#008000"/>
<rect x="313.89" y="99.44" width="3.2" height="3.2" fill="#008000"/>
<rect x="314.21" y="100.39" width="3.2" height="3.2" fill="#008000"/>
<rect x="314.52" y="103.91" width="3.2" height="3.2" fill="#008000"/>
<rect x="314.83" y="109.26" width="3.2" height="3.2" fill="#008000"/>
<rect x="315.14" y="105.21" width="3.2" height="3.2" fill="#008000"/>
<rect x="315.44" y="98.33" width="3.2" height="3.2" fill="#008000"/>
<rect x="315.74" y="106.57" width="3.2" height="3.2" fill="#008000"/>
<rect x="316.04" y="109.68" width="3.2" height="3.2" fill="#008000"/>
<rect x="316.33" y="110.92" width="3.2" height="3.2" fill="#008000"/>
<rect x="316.62" y="109.83" width="3.2" height="3.2" fill="#008000"/>
<rect x="316.9" y="118.21" width="3.2" height="3.2" fill="#008000"/>
<rect x="317.19" y="110.37" width="3.2" height="3.2" fill="#008000"/>
<rect x="317.47" y="116.52" width="3.2" height="3.2" fill="#008000"/>
<rect x="317.74" y="109.69" width="3.2" height="3.2" fill="#008000"/>
<rect x="318.02" y="118.56" width="3.2" height="3.2" fill="#008000"/>
<rect x="318.29" y="123.74" width="3.2" height="3.2" fill="#008000"/>
<rect x="318.56" y="114.6" width="3.2" height="3.2" fill="#008000"/>
<rect x="318.82" y="117.77" width="3.2" height="3.2" fill="#008000"/>
<rect x="319.08" y="120.78" width="3.2" height="3.2" fill="#008000"/>
<rect x="319.34" y="115.05" width="3.2" height="3.2" fill="#008000"/>
<rect x="319.6" y="132.44" width="3.2" height="3.2" fill="#008000"/>
<rect x="319.85" y="129.71" width="3.2" height="3.2" fill="#008000"/>
<rect x="320.6" y="120.46" width="3.2" height="3.2" fill="#008000"/>
<rect x="320.85" y="128.66" width="3.2" height="3.2" fill="#008000"/>
<rect x="321.09" y="127.63" width="3.2" height="3.2" fill="#008000"/>
<rect x="321.33" y="136.14" width="3.2" height="3.2" fill="#008000"/>
<use href="#tri" x="203.4" y="33.35" fill="#ffff00"/>
<use href="#tri" x="221.13" y="25.59" fill="#ffff00"/>
<use href="#tri" x="231.5" y="24.01" fill="#ffff00"/>
<use href="#tri" x="238.86" y="25.62" fill="#ffff00"/>
<use href="#tri" x="244.57" y="25.98" fill="#ffff00"/>
<use href="#tri" x="249.23" y="27.06" fill="#ffff00"/>
<use href="#tri" x="253.18" y="27.08" fill="#ffff00"/>
<use href="#tri" x="256.59" y="26.64" fill="#ffff00"/>
<use href="#tri" x="259.6" y="28.4" fill="#ffff00"/>
<use href="#tri" x="262.3" y="31" fill="#ffff00"/>
<use href="#tri" x="264.74" y="31.48" fill="#ffff00"/>
<use href="#tri" x="266.96" y="32.51" fill="#ffff00"/>
<use href="#tri" x="269.01" y="33.24" fill="#ffff00"/>
<use href="#tri" x="270.91" y="33.31" fill="#ffff00"/>
<use href="#tri" x="272.67" y="35.8" fill="#ffff00"/>
<use href="#tri" x="274.32" y="36.69" fill="#ffff00"/>
<use href="#tri" x="275.87" y="37.76" fill="#ffff00"/>
<use href="#tri" x="277.34" y="38.24" fill="#ffff00"/>
<use href="#tri" x="278.72" y="39.26" fill="#ffff00"/>
<use href="#tri" x="280.03" y="41.87" fill="#ffff00"/>
<use href="#tri" x="281.28" y="41.43" fill="#ffff00"/>
<use href="#tri" x="282.47" y="43.73" fill="#ffff00"/>
<use href="#tri" x="283.61" y="45.04" fill="#ffff00"/>
<use href="#tri" x="284.69" y="46.11" fill="#ffff00"/>
<use href="#tri" x="285.74" y="46.18" fill="#ffff00"/>
<use href="#tri" x="286.74" y="47.81" fill="#ffff00"/>
<use href="#tri" x="287.71" y="48.63" fill="#ffff00"/>
<use href="#tri" x="288.64" y="49.84" fill="#ffff00"/>
<use href="#tri" x="289.54" y="52.88" fill="#ffff00"/>
<use href="#tri" x="290.4" y="54.07" fill="#ffff00"/>
<use href="#tri" x="291.24" y="54.49" fill="#ffff00"/>
<use href="#tri" x="292.05" y="57.6" fill="#ffff00"/>
<use href="#tri" x="292.84" y="58.9" fill="#ffff00"/>
<use href="#tri" x="293.6" y="59.24" fill="#ffff00"/>
<use href="#tri" x="294.35" y="61.29" fill="#ffff00"/>
<use href="#tri" x="295.07" y="61.66" fill="#ffff00"/>
<use href="#tri" x="295.77" y="63.86" fill="#ffff00"/>
<use href="#tri" x="296.45" y="64.12" fill="#ffff00"/>
<use href="#tri" x="297.11" y="64.55" fill="#ffff00"/>
<use href="#tri" x="297.76" y="65.21" fill="#ffff00"/>
<use href="#tri" x="298.39" y="67.15" fill="#ffff00"/>
<use href="#tri" x="299.01" y="67.28" fill="#ffff00"/>
<use href="#tri" x="299.61" y="68.3" fill="#ffff00"/>
<use href="#tri" x="300.2" y="68.4" fill="#ffff00"/>
<use href="#tri" x="300.77" y="69.27" fill="#ffff00"/>
<use href="#tri" x="301.34" y="70.81" fill="#ffff00"/>
<use href="#tri" x="301.89" y="71.1" fill="#ffff00"/>
<use href="#tri" x="302.43" y="72.16" fill="#ffff00"/>
<use href="#tri" x="302.95" y="71.94" fill="#ffff00"/>
<use href="#tri" x="303.47" y="74.03" fill="#ffff00"/>
<use href="#tri" x="303.98" y="72.49" fill="#ffff00"/>
<use href="#tri" x="304.47" y="72.46" fill="#ffff00"/>
<use href="#tri" x="304.96" y="76.31" fill="#ffff00"/>
<use href="#tri" x="305.44" y="75.92" fill="#ffff00"/>
<use href="#tri" x="306.37" y="77.88" fill="#ffff00"/>
<use href="#tri" x="306.82" y="81.29" fill="#ffff00"/>
<use href="#tri" x="307.27" y="74.77" fill="#ffff00"/>
<use href="#tri" x="307.7" y="82.14" fill="#ffff00"/>
<use href="#tri" x="308.13" y="81.45" fill="#ffff00"/>
<use href="#tri" x="308.56" y="78.04" fill="#ffff00"/>
<use href="#tri" x="308.97" y="83.3" fill="#ffff00"/>
<use href="#tri" x="309.38" y="82.79" fill="#ffff00"/>
<use href="#tri" x="310.18" y="89.6" fill="#ffff00"/>
<use href="#tri" x="310.57" y="84.83" fill="#ffff00"/>
<use href="#tri" x="310.96" y="89.76" fill="#ffff00"/>
<use href="#tri" x="311.33" y="85.95" fill="#ffff00"/>
<use href="#tri" x="311.71" y="94.41" fill="#ffff00"/>
<use href="#tri" x="312.08" y="90.7" fill="#ffff00"/>
<use href="#tri" x="312.8" y="95.27" fill="#ffff00"/>
<use href="#tri" x="313.15" y="95.07" fill="#ffff00"/>
<use href="#tri" x="313.5" y="95.54" fill="#ffff00"/>
<use href="#tri" x="313.84" y="99.9" fill="#ffff00"/>
<use href="#tri" x="314.18" y="103.48" fill="#ffff00"/>
<use href="#tri" x="314.51" y="100.32" fill="#ffff00"/>
<use href="#tri" x="314.84" y="101.68" fill="#ffff00"/>
<use href="#tri" x="315.17" y="107.59" fill="#ffff00"/>
<use href="#tri" x="315.49" y="102.03" fill="#ffff00"/>
<use href="#tri" x="315.81" y="100.42" fill="#ffff00"/>
<use href="#tri" x="316.12" y="106.72" fill="#ffff00"/>
<use href="#tri" x="316.43" y="111.91" fill="#ffff00"/>
<use href="#tri" x="316.74" y="106.87" fill="#ffff00"/>
<use href="#tri" x="317.04" y="102.02" fill="#ffff00"/>
<use href="#tri" x="317.34" y="113.05" fill="#ffff00"/>
<use href="#tri" x="317.64" y="112.98" fill="#ffff00"/>
<use href="#tri" x="317.93" y="108.38" fill="#ffff00"/>
<use href="#tri" x="318.22" y="121.46" fill="#ffff00"/>
<use href="#tri" x="318.5" y="119.38" fill="#ffff00"/>
<use href="#tri" x="318.79" y="112.16" fill="#ffff00"/>
<use href="#tri" x="319.07" y="119.5" fill="#ffff00"/>
<use href="#tri" x="319.34" y="105.87" fill="#ffff00"/>
<use href="#tri" x="319.62" y="123.07" fill="#ffff00"/>
<use href="#tri" x="319.89" y="115.59" fill="#ffff00"/>
<use href="#tri" x="320.16" y="108.75" fill="#ffff00"/>
<use href="#tri" x="320.42" y="122.18" fill="#ffff00"/>
<use href="#tri" x="320.94" y="118.98" fill="#ffff00"/>
<use href="#tri" x="321.45" y="130.38" fill="#ffff00"/>
<use href="#tri" x="321.71" y="127.56" fill="#ffff00"/>
<use href="#tri" x="322.2" y="122.51" fill="#ffff00"/>
<use href="#tri" x="322.45" y="125.93" fill="#ffff00"/>
<use href="#tri" x="322.69" y="130.97" fill="#ffff00"/>
<use href="#tri" x="322.93" y="139.13" fill="#ffff00"/>
<use href="#tri" x="323.17" y="136.2" fill="#ffff00"/>
<polyline points="203.4,20.79 221.13,21.86 231.5,22.92 238.86,23.98 244.57,25.04 249.23,26.11 253.18,27.17 256.59,28.23 259.6,29.29 262.3,30.36 264.74,31.42 266.96,32.48 269.01,33.54 270.91,34.61 272.67,35.67 274.32,36.73 275.87,37.79 277.34,38.86 278.72,39.92 280.03,40.98 281.28,42.04 282.47,43.11 283.61,44.17 284.69,45.23 285.74,46.29 286.74,47.35 287.71,48.42 288.64,49.48 289.54,50.54 290.4,51.6 291.24,52.67 292.05,53.73 292.84,54.79 293.6,55.85 294.35,56.92 295.07,57.98 295.77,59.04 296.45,60.1 297.11,61.17 297.76,62.23 298.39,63.29 299.01,64.35 299.61,65.42 300.2,66.48 300.77,67.54 301.34,68.6 301.89,69.67 302.43,70.73 302.95,71.79 303.47,72.85 303.98,73.92 304.47,74.98 304.96,76.04 305.44,77.1 305.91,78.17 306.37,79.23 306.82,80.29 307.27,81.35 307.7,82.42 308.13,83.48 308.56,84.54 308.97,85.6 309.38,86.67 309.78,87.73 310.18,88.79 310.57,89.85 310.96,90.92 311.33,91.98 311.71,93.04 312.08,94.1 312.44,95.17 312.8,96.23 313.15,97.29 313.5,98.35 313.84,99.42 314.18,100.48 314.51,101.54 314.84,102.6 315.17,103.67 315.49,104.73 315.81,105.79 316.12,106.85 316.43,107.91 316.74,108.98 317.04,110.04 317.34,111.1 317.64,112.16 317.93,113.23 318.22,114.29 318.5,115.35 318.79,116.41 319.07,117.48 319.34,118.54 319.62,119.6 319.89,120.66 320.16,121.73 320.42,122.79 320.68,123.85 320.94,124.91 321.2,125.98 321.45,127.04 321.71,128.1 321.96,129.16 322.2,130.23 322.45,131.29 322.69,132.35 322.93,133.41 323.17,134.48" fill="none" stroke="#ff1414" stroke-width="1.0" stroke-linejoin="round"/>
</g>
<rect x="199.05" y="120.2" width="58.55" height="24.6" fill="#fff" fill-opacity="0.85" stroke="#d4d4d4" stroke-width="0.6"/>
<line x1="200.5" y1="123.5" x2="209.1" y2="123.5" stroke="#ff2020" stroke-width="0.9"/>
<circle cx="204.7" cy="129.6" r="1.45" fill="#0000ff"/>
<rect x="203.3" y="134.1" width="2.8" height="2.8" fill="#008000"/>
<path d="M204.7,139.85 L206.15,142.65 L203.25,142.65 Z" fill="#ffff00"/>
<path d="M197.3,8H338.7V147.1H197.3Z" fill="none" stroke="#8e8e8e" stroke-width="1"/>
<path d="M203.4,147.1v2.2M221.13,147.1v1.3M231.5,147.1v1.3M238.86,147.1v1.3M244.57,147.1v1.3M249.23,147.1v1.3M253.18,147.1v1.3M256.59,147.1v1.3M259.6,147.1v1.3M262.3,147.1v2.2M280.03,147.1v1.3M290.4,147.1v1.3M297.76,147.1v1.3M303.47,147.1v1.3M308.13,147.1v1.3M312.08,147.1v1.3M315.49,147.1v1.3M318.5,147.1v1.3M321.2,147.1v2.2M197.3,144.99h-1.3M197.3,141.51h-1.3M197.3,138.82h-1.3M197.3,136.62h-1.3M197.3,134.76h-1.3M197.3,133.14h-1.3M197.3,131.72h-1.3M197.3,130.45h-2.2M197.3,122.08h-1.3M197.3,117.19h-1.3M197.3,113.71h-1.3M197.3,111.02h-1.3M197.3,108.82h-1.3M197.3,106.96h-1.3M197.3,105.34h-1.3M197.3,103.92h-1.3M197.3,102.65h-2.2M197.3,94.28h-1.3M197.3,89.39h-1.3M197.3,85.91h-1.3M197.3,83.22h-1.3M197.3,81.02h-1.3M197.3,79.16h-1.3M197.3,77.54h-1.3M197.3,76.12h-1.3M197.3,74.85h-2.2M197.3,66.48h-1.3M197.3,61.59h-1.3M197.3,58.11h-1.3M197.3,55.42h-1.3M197.3,53.22h-1.3M197.3,51.36h-1.3M197.3,49.74h-1.3M197.3,48.32h-1.3M197.3,47.05h-2.2M197.3,38.68h-1.3M197.3,33.79h-1.3M197.3,30.31h-1.3M197.3,27.62h-1.3M197.3,25.42h-1.3M197.3,23.56h-1.3M197.3,21.94h-1.3M197.3,20.52h-1.3M197.3,19.25h-2.2M197.3,10.88h-1.3" stroke="#707070" stroke-width="0.55" fill="none"/>
<clipPath id="cc"><rect x="368.5" y="8" width="141" height="139.1"/></clipPath>
<g clip-path="url(#cc)">
<circle cx="374.2" cy="34.4" r="1.6" fill="#0000ff"/>
<circle cx="391.99" cy="27.48" r="1.6" fill="#0000ff"/>
<circle cx="402.4" cy="26" r="1.6" fill="#0000ff"/>
<circle cx="409.78" cy="26.48" r="1.6" fill="#0000ff"/>
<circle cx="415.51" cy="26.27" r="1.6" fill="#0000ff"/>
<circle cx="420.19" cy="27.22" r="1.6" fill="#0000ff"/>
<circle cx="424.15" cy="29.74" r="1.6" fill="#0000ff"/>
<circle cx="427.57" cy="29.75" r="1.6" fill="#0000ff"/>
<circle cx="430.6" cy="30.7" r="1.6" fill="#0000ff"/>
<circle cx="433.3" cy="31.76" r="1.6" fill="#0000ff"/>
<circle cx="435.75" cy="32.91" r="1.6" fill="#0000ff"/>
<circle cx="437.98" cy="33.01" r="1.6" fill="#0000ff"/>
<circle cx="440.03" cy="33.25" r="1.6" fill="#0000ff"/>
<circle cx="441.94" cy="34.13" r="1.6" fill="#0000ff"/>
<circle cx="443.71" cy="35.11" r="1.6" fill="#0000ff"/>
<circle cx="445.36" cy="35.82" r="1.6" fill="#0000ff"/>
<circle cx="446.92" cy="36.35" r="1.6" fill="#0000ff"/>
<circle cx="448.39" cy="36.6" r="1.6" fill="#0000ff"/>
<circle cx="449.77" cy="37.88" r="1.6" fill="#0000ff"/>
<circle cx="451.09" cy="38.22" r="1.6" fill="#0000ff"/>
<circle cx="452.34" cy="39.99" r="1.6" fill="#0000ff"/>
<circle cx="453.54" cy="41.15" r="1.6" fill="#0000ff"/>
<circle cx="454.68" cy="41.31" r="1.6" fill="#0000ff"/>
<circle cx="455.77" cy="43.07" r="1.6" fill="#0000ff"/>
<circle cx="456.82" cy="44.5" r="1.6" fill="#0000ff"/>
<circle cx="457.82" cy="44.82" r="1.6" fill="#0000ff"/>
<circle cx="458.79" cy="46.03" r="1.6" fill="#0000ff"/>
<circle cx="459.73" cy="46.98" r="1.6" fill="#0000ff"/>
<circle cx="460.63" cy="47.38" r="1.6" fill="#0000ff"/>
<circle cx="461.5" cy="48.27" r="1.6" fill="#0000ff"/>
<circle cx="462.34" cy="49.49" r="1.6" fill="#0000ff"/>
<circle cx="463.15" cy="50.7" r="1.6" fill="#0000ff"/>
<circle cx="463.94" cy="50.85" r="1.6" fill="#0000ff"/>
<circle cx="464.71" cy="51.53" r="1.6" fill="#0000ff"/>
<circle cx="465.45" cy="52.86" r="1.6" fill="#0000ff"/>
<circle cx="466.18" cy="53.43" r="1.6" fill="#0000ff"/>
<circle cx="466.88" cy="55.33" r="1.6" fill="#0000ff"/>
<circle cx="467.57" cy="55.04" r="1.6" fill="#0000ff"/>
<circle cx="468.23" cy="56.58" r="1.6" fill="#0000ff"/>
<circle cx="468.88" cy="57.34" r="1.6" fill="#0000ff"/>
<circle cx="469.52" cy="57.66" r="1.6" fill="#0000ff"/>
<circle cx="470.13" cy="58.6" r="1.6" fill="#0000ff"/>
<circle cx="470.74" cy="59.83" r="1.6" fill="#0000ff"/>
<circle cx="471.33" cy="60.96" r="1.6" fill="#0000ff"/>
<circle cx="471.9" cy="62.21" r="1.6" fill="#0000ff"/>
<circle cx="472.47" cy="62.95" r="1.6" fill="#0000ff"/>
<circle cx="473.02" cy="63.02" r="1.6" fill="#0000ff"/>
<circle cx="473.56" cy="63.84" r="1.6" fill="#0000ff"/>
<circle cx="474.09" cy="65.62" r="1.6" fill="#0000ff"/>
<circle cx="474.61" cy="65.44" r="1.6" fill="#0000ff"/>
<circle cx="475.12" cy="66.34" r="1.6" fill="#0000ff"/>
<circle cx="475.62" cy="66.81" r="1.6" fill="#0000ff"/>
<circle cx="476.1" cy="68.98" r="1.6" fill="#0000ff"/>
<circle cx="476.58" cy="68.8" r="1.6" fill="#0000ff"/>
<circle cx="477.06" cy="68.82" r="1.6" fill="#0000ff"/>
<circle cx="477.52" cy="71.13" r="1.6" fill="#0000ff"/>
<circle cx="477.97" cy="71.81" r="1.6" fill="#0000ff"/>
<circle cx="478.42" cy="72.91" r="1.6" fill="#0000ff"/>
<circle cx="478.86" cy="73.86" r="1.6" fill="#0000ff"/>
<circle cx="479.29" cy="76.14" r="1.6" fill="#0000ff"/>
<circle cx="479.71" cy="79.23" r="1.6" fill="#0000ff"/>
<circle cx="480.13" cy="76.31" r="1.6" fill="#0000ff"/>
<circle cx="480.54" cy="73.58" r="1.6" fill="#0000ff"/>
<circle cx="480.95" cy="77.42" r="1.6" fill="#0000ff"/>
<circle cx="481.34" cy="78.63" r="1.6" fill="#0000ff"/>
<circle cx="481.74" cy="77.31" r="1.6" fill="#0000ff"/>
<circle cx="482.12" cy="80.8" r="1.6" fill="#0000ff"/>
<circle cx="482.88" cy="85.11" r="1.6" fill="#0000ff"/>
<circle cx="483.25" cy="83.31" r="1.6" fill="#0000ff"/>
<circle cx="483.61" cy="76.03" r="1.6" fill="#0000ff"/>
<circle cx="483.97" cy="88.11" r="1.6" fill="#0000ff"/>
<circle cx="484.32" cy="88.69" r="1.6" fill="#0000ff"/>
<circle cx="484.67" cy="85.77" r="1.6" fill="#0000ff"/>
<circle cx="485.36" cy="96.72" r="1.6" fill="#0000ff"/>
<circle cx="485.69" cy="86.51" r="1.6" fill="#0000ff"/>
<circle cx="486.02" cy="99.75" r="1.6" fill="#0000ff"/>
<circle cx="486.67" cy="97.97" r="1.6" fill="#0000ff"/>
<circle cx="486.99" cy="99.5" r="1.6" fill="#0000ff"/>
<circle cx="487.31" cy="112.03" r="1.6" fill="#0000ff"/>
<circle cx="487.92" cy="105.52" r="1.6" fill="#0000ff"/>
<circle cx="488.83" cy="119.8" r="1.6" fill="#0000ff"/>
<circle cx="489.12" cy="114.05" r="1.6" fill="#0000ff"/>
<circle cx="489.41" cy="108.62" r="1.6" fill="#0000ff"/>
<circle cx="489.7" cy="118.68" r="1.6" fill="#0000ff"/>
<circle cx="489.98" cy="129.74" r="1.6" fill="#0000ff"/>
<circle cx="490.26" cy="120.86" r="1.6" fill="#0000ff"/>
<circle cx="490.54" cy="109.06" r="1.6" fill="#0000ff"/>
<circle cx="490.81" cy="106.73" r="1.6" fill="#0000ff"/>
<circle cx="491.08" cy="118.08" r="1.6" fill="#0000ff"/>
<circle cx="491.62" cy="104.37" r="1.6" fill="#0000ff"/>
<circle cx="491.88" cy="123.18" r="1.6" fill="#0000ff"/>
<circle cx="492.14" cy="121.87" r="1.6" fill="#0000ff"/>
<circle cx="492.4" cy="123.51" r="1.6" fill="#0000ff"/>
<circle cx="492.66" cy="131.38" r="1.6" fill="#0000ff"/>
<circle cx="492.91" cy="136.66" r="1.6" fill="#0000ff"/>
<circle cx="493.16" cy="136.87" r="1.6" fill="#0000ff"/>
<circle cx="493.41" cy="120.82" r="1.6" fill="#0000ff"/>
<circle cx="493.65" cy="128" r="1.6" fill="#0000ff"/>
<circle cx="494.14" cy="119.26" r="1.6" fill="#0000ff"/>
<rect x="372.6" y="32.73" width="3.2" height="3.2" fill="#008000"/>
<rect x="390.39" y="26.27" width="3.2" height="3.2" fill="#008000"/>
<rect x="400.8" y="24.36" width="3.2" height="3.2" fill="#008000"/>
<rect x="408.18" y="25.31" width="3.2" height="3.2" fill="#008000"/>
<rect x="413.91" y="25.11" width="3.2" height="3.2" fill="#008000"/>
<rect x="418.59" y="25.8" width="3.2" height="3.2" fill="#008000"/>
<rect x="422.55" y="27.73" width="3.2" height="3.2" fill="#008000"/>
<rect x="425.97" y="27.81" width="3.2" height="3.2" fill="#008000"/>
<rect x="429" y="29.45" width="3.2" height="3.2" fill="#008000"/>
<rect x="431.7" y="29.83" width="3.2" height="3.2" fill="#008000"/>
<rect x="434.15" y="30.74" width="3.2" height="3.2" fill="#008000"/>
<rect x="436.38" y="31.87" width="3.2" height="3.2" fill="#008000"/>
<rect x="438.43" y="31.45" width="3.2" height="3.2" fill="#008000"/>
<rect x="440.34" y="32.19" width="3.2" height="3.2" fill="#008000"/>
<rect x="442.11" y="32.63" width="3.2" height="3.2" fill="#008000"/>
<rect x="443.76" y="33.74" width="3.2" height="3.2" fill="#008000"/>
<rect x="445.32" y="34.52" width="3.2" height="3.2" fill="#008000"/>
<rect x="446.79" y="35.43" width="3.2" height="3.2" fill="#008000"/>
<rect x="448.17" y="36.48" width="3.2" height="3.2" fill="#008000"/>
<rect x="449.49" y="36.88" width="3.2" height="3.2" fill="#008000"/>
<rect x="450.74" y="37.64" width="3.2" height="3.2" fill="#008000"/>
<rect x="451.94" y="38.73" width="3.2" height="3.2" fill="#008000"/>
<rect x="453.08" y="38.77" width="3.2" height="3.2" fill="#008000"/>
<rect x="454.17" y="40.9" width="3.2" height="3.2" fill="#008000"/>
<rect x="455.22" y="41.73" width="3.2" height="3.2" fill="#008000"/>
<rect x="456.22" y="42.95" width="3.2" height="3.2" fill="#008000"/>
<rect x="457.19" y="44.21" width="3.2" height="3.2" fill="#008000"/>
<rect x="458.13" y="44.93" width="3.2" height="3.2" fill="#008000"/>
<rect x="459.03" y="45.2" width="3.2" height="3.2" fill="#008000"/>
<rect x="459.9" y="46.52" width="3.2" height="3.2" fill="#008000"/>
<rect x="460.74" y="47.58" width="3.2" height="3.2" fill="#008000"/>
<rect x="461.55" y="48.59" width="3.2" height="3.2" fill="#008000"/>
<rect x="462.34" y="48.77" width="3.2" height="3.2" fill="#008000"/>
<rect x="463.11" y="50.6" width="3.2" height="3.2" fill="#008000"/>
<rect x="463.85" y="51.53" width="3.2" height="3.2" fill="#008000"/>
<rect x="464.58" y="51.73" width="3.2" height="3.2" fill="#008000"/>
<rect x="465.28" y="53.06" width="3.2" height="3.2" fill="#008000"/>
<rect x="465.97" y="53.78" width="3.2" height="3.2" fill="#008000"/>
<rect x="466.63" y="54.96" width="3.2" height="3.2" fill="#008000"/>
<rect x="467.28" y="55.56" width="3.2" height="3.2" fill="#008000"/>
<rect x="467.92" y="56.16" width="3.2" height="3.2" fill="#008000"/>
<rect x="468.53" y="57.07" width="3.2" height="3.2" fill="#008000"/>
<rect x="469.14" y="57.9" width="3.2" height="3.2" fill="#008000"/>
<rect x="469.73" y="58.71" width="3.2" height="3.2" fill="#008000"/>
<rect x="470.3" y="60.07" width="3.2" height="3.2" fill="#008000"/>
<rect x="470.87" y="60.95" width="3.2" height="3.2" fill="#008000"/>
<rect x="471.42" y="61.25" width="3.2" height="3.2" fill="#008000"/>
<rect x="471.96" y="62.14" width="3.2" height="3.2" fill="#008000"/>
<rect x="472.49" y="63.52" width="3.2" height="3.2" fill="#008000"/>
<rect x="473.01" y="63.13" width="3.2" height="3.2" fill="#008000"/>
<rect x="473.52" y="65.63" width="3.2" height="3.2" fill="#008000"/>
<rect x="474.02" y="65.47" width="3.2" height="3.2" fill="#008000"/>
<rect x="474.5" y="67" width="3.2" height="3.2" fill="#008000"/>
<rect x="474.98" y="66.81" width="3.2" height="3.2" fill="#008000"/>
<rect x="475.46" y="67.55" width="3.2" height="3.2" fill="#008000"/>
<rect x="476.37" y="71.41" width="3.2" height="3.2" fill="#008000"/>
<rect x="476.82" y="71.89" width="3.2" height="3.2" fill="#008000"/>
<rect x="477.26" y="72.38" width="3.2" height="3.2" fill="#008000"/>
<rect x="477.69" y="72.62" width="3.2" height="3.2" fill="#008000"/>
<rect x="478.53" y="74.47" width="3.2" height="3.2" fill="#008000"/>
<rect x="479.35" y="75.24" width="3.2" height="3.2" fill="#008000"/>
<rect x="479.74" y="78.9" width="3.2" height="3.2" fill="#008000"/>
<rect x="480.52" y="79.29" width="3.2" height="3.2" fill="#008000"/>
<rect x="480.9" y="74.64" width="3.2" height="3.2" fill="#008000"/>
<rect x="481.28" y="84.08" width="3.2" height="3.2" fill="#008000"/>
<rect x="482.01" y="73.75" width="3.2" height="3.2" fill="#008000"/>
<rect x="482.72" y="88.02" width="3.2" height="3.2" fill="#008000"/>
<rect x="483.42" y="79.44" width="3.2" height="3.2" fill="#008000"/>
<rect x="483.76" y="94.47" width="3.2" height="3.2" fill="#008000"/>
<rect x="484.42" y="97.54" width="3.2" height="3.2" fill="#008000"/>
<rect x="484.75" y="100.3" width="3.2" height="3.2" fill="#008000"/>
<rect x="485.07" y="98.93" width="3.2" height="3.2" fill="#008000"/>
<rect x="485.39" y="92.98" width="3.2" height="3.2" fill="#008000"/>
<rect x="485.71" y="104.49" width="3.2" height="3.2" fill="#008000"/>
<rect x="486.32" y="103.6" width="3.2" height="3.2" fill="#008000"/>
<rect x="487.23" y="117.79" width="3.2" height="3.2" fill="#008000"/>
<rect x="487.52" y="113" width="3.2" height="3.2" fill="#008000"/>
<rect x="487.81" y="113.46" width="3.2" height="3.2" fill="#008000"/>
<rect x="488.38" y="120.52" width="3.2" height="3.2" fill="#008000"/>
<rect x="488.66" y="115.29" width="3.2" height="3.2" fill="#008000"/>
<rect x="488.94" y="118.14" width="3.2" height="3.2" fill="#008000"/>
<rect x="489.21" y="111.21" width="3.2" height="3.2" fill="#008000"/>
<rect x="489.48" y="112.06" width="3.2" height="3.2" fill="#008000"/>
<rect x="489.75" y="116.66" width="3.2" height="3.2" fill="#008000"/>
<rect x="490.02" y="111.23" width="3.2" height="3.2" fill="#008000"/>
<rect x="490.28" y="122.74" width="3.2" height="3.2" fill="#008000"/>
<rect x="490.54" y="121.02" width="3.2" height="3.2" fill="#008000"/>
<rect x="491.06" y="133.54" width="3.2" height="3.2" fill="#008000"/>
<rect x="491.56" y="133.43" width="3.2" height="3.2" fill="#008000"/>
<rect x="491.81" y="111.97" width="3.2" height="3.2" fill="#008000"/>
<rect x="492.05" y="134.49" width="3.2" height="3.2" fill="#008000"/>
<rect x="492.3" y="134.53" width="3.2" height="3.2" fill="#008000"/>
<rect x="492.54" y="123.28" width="3.2" height="3.2" fill="#008000"/>
<use href="#tri" x="374.2" y="33.94" fill="#ffff00"/>
<use href="#tri" x="391.99" y="28.39" fill="#ffff00"/>
<use href="#tri" x="402.4" y="24.65" fill="#ffff00"/>
<use href="#tri" x="409.78" y="27.89" fill="#ffff00"/>
<use href="#tri" x="415.51" y="28.54" fill="#ffff00"/>
<use href="#tri" x="420.19" y="29.1" fill="#ffff00"/>
<use href="#tri" x="424.15" y="29.55" fill="#ffff00"/>
<use href="#tri" x="427.57" y="31.15" fill="#ffff00"/>
<use href="#tri" x="430.6" y="31.91" fill="#ffff00"/>
<use href="#tri" x="433.3" y="31.85" fill="#ffff00"/>
<use href="#tri" x="435.75" y="33.31" fill="#ffff00"/>
<use href="#tri" x="437.98" y="33.53" fill="#ffff00"/>
<use href="#tri" x="440.03" y="35.23" fill="#ffff00"/>
<use href="#tri" x="441.94" y="34.61" fill="#ffff00"/>
<use href="#tri" x="443.71" y="35.85" fill="#ffff00"/>
<use href="#tri" x="445.36" y="36.78" fill="#ffff00"/>
<use href="#tri" x="446.92" y="36.64" fill="#ffff00"/>
<use href="#tri" x="448.39" y="37.47" fill="#ffff00"/>
<use href="#tri" x="449.77" y="40.12" fill="#ffff00"/>
<use href="#tri" x="451.09" y="38.51" fill="#ffff00"/>
<use href="#tri" x="452.34" y="41.43" fill="#ffff00"/>
<use href="#tri" x="453.54" y="41.21" fill="#ffff00"/>
<use href="#tri" x="454.68" y="43.09" fill="#ffff00"/>
<use href="#tri" x="455.77" y="44.52" fill="#ffff00"/>
<use href="#tri" x="456.82" y="45.91" fill="#ffff00"/>
<use href="#tri" x="457.82" y="45.01" fill="#ffff00"/>
<use href="#tri" x="458.79" y="46.4" fill="#ffff00"/>
<use href="#tri" x="459.73" y="48.21" fill="#ffff00"/>
<use href="#tri" x="460.63" y="48.9" fill="#ffff00"/>
<use href="#tri" x="461.5" y="49.35" fill="#ffff00"/>
<use href="#tri" x="462.34" y="49.11" fill="#ffff00"/>
<use href="#tri" x="463.15" y="51.35" fill="#ffff00"/>
<use href="#tri" x="463.94" y="50.49" fill="#ffff00"/>
<use href="#tri" x="464.71" y="51.95" fill="#ffff00"/>
<use href="#tri" x="465.45" y="53.16" fill="#ffff00"/>
<use href="#tri" x="466.18" y="52.75" fill="#ffff00"/>
<use href="#tri" x="466.88" y="54.98" fill="#ffff00"/>
<use href="#tri" x="467.57" y="55.39" fill="#ffff00"/>
<use href="#tri" x="468.23" y="56.96" fill="#ffff00"/>
<use href="#tri" x="468.88" y="57.12" fill="#ffff00"/>
<use href="#tri" x="469.52" y="58.4" fill="#ffff00"/>
<use href="#tri" x="470.13" y="59.13" fill="#ffff00"/>
<use href="#tri" x="470.74" y="60.98" fill="#ffff00"/>
<use href="#tri" x="471.33" y="59.7" fill="#ffff00"/>
<use href="#tri" x="471.9" y="62.85" fill="#ffff00"/>
<use href="#tri" x="472.47" y="62.4" fill="#ffff00"/>
<use href="#tri" x="473.02" y="64.77" fill="#ffff00"/>
<use href="#tri" x="473.56" y="64.77" fill="#ffff00"/>
<use href="#tri" x="474.09" y="65.48" fill="#ffff00"/>
<use href="#tri" x="474.61" y="65.1" fill="#ffff00"/>
<use href="#tri" x="475.12" y="67.59" fill="#ffff00"/>
<use href="#tri" x="475.62" y="69.48" fill="#ffff00"/>
<use href="#tri" x="476.1" y="69.14" fill="#ffff00"/>
<use href="#tri" x="476.58" y="69.26" fill="#ffff00"/>
<use href="#tri" x="477.06" y="69.49" fill="#ffff00"/>
<use href="#tri" x="477.97" y="73.54" fill="#ffff00"/>
<use href="#tri" x="478.42" y="73.83" fill="#ffff00"/>
<use href="#tri" x="478.86" y="73.08" fill="#ffff00"/>
<use href="#tri" x="479.29" y="76.25" fill="#ffff00"/>
<use href="#tri" x="480.54" y="74.27" fill="#ffff00"/>
<use href="#tri" x="480.95" y="79.07" fill="#ffff00"/>
<use href="#tri" x="481.34" y="79.25" fill="#ffff00"/>
<use href="#tri" x="481.74" y="80.66" fill="#ffff00"/>
<use href="#tri" x="482.12" y="81.94" fill="#ffff00"/>
<use href="#tri" x="482.5" y="73.52" fill="#ffff00"/>
<use href="#tri" x="483.25" y="81.76" fill="#ffff00"/>
<use href="#tri" x="483.61" y="79.63" fill="#ffff00"/>
<use href="#tri" x="483.97" y="90.92" fill="#ffff00"/>
<use href="#tri" x="484.32" y="85.49" fill="#ffff00"/>
<use href="#tri" x="484.67" y="86.88" fill="#ffff00"/>
<use href="#tri" x="485.02" y="87.95" fill="#ffff00"/>
<use href="#tri" x="485.36" y="94.94" fill="#ffff00"/>
<use href="#tri" x="485.69" y="89.16" fill="#ffff00"/>
<use href="#tri" x="486.02" y="98.73" fill="#ffff00"/>
<use href="#tri" x="486.35" y="96.58" fill="#ffff00"/>
<use href="#tri" x="486.67" y="97.54" fill="#ffff00"/>
<use href="#tri" x="486.99" y="100.2" fill="#ffff00"/>
<use href="#tri" x="487.31" y="112.04" fill="#ffff00"/>
<use href="#tri" x="487.92" y="103.09" fill="#ffff00"/>
<use href="#tri" x="488.53" y="101.8" fill="#ffff00"/>
<use href="#tri" x="488.83" y="121.41" fill="#ffff00"/>
<use href="#tri" x="489.12" y="109.64" fill="#ffff00"/>
<use href="#tri" x="489.41" y="113.74" fill="#ffff00"/>
<use href="#tri" x="489.7" y="113.5" fill="#ffff00"/>
<use href="#tri" x="489.98" y="117.68" fill="#ffff00"/>
<use href="#tri" x="490.26" y="121.78" fill="#ffff00"/>
<use href="#tri" x="490.54" y="117.87" fill="#ffff00"/>
<use href="#tri" x="490.81" y="109.69" fill="#ffff00"/>
<use href="#tri" x="491.08" y="108.71" fill="#ffff00"/>
<use href="#tri" x="491.35" y="121.6" fill="#ffff00"/>
<use href="#tri" x="491.62" y="105.74" fill="#ffff00"/>
<use href="#tri" x="491.88" y="115.97" fill="#ffff00"/>
<use href="#tri" x="492.14" y="122.79" fill="#ffff00"/>
<use href="#tri" x="492.4" y="113.03" fill="#ffff00"/>
<use href="#tri" x="492.66" y="132.57" fill="#ffff00"/>
<use href="#tri" x="493.16" y="131.39" fill="#ffff00"/>
<use href="#tri" x="493.9" y="134.6" fill="#ffff00"/>
<use href="#tri" x="494.14" y="122.38" fill="#ffff00"/>
<polyline points="374.2,23.22 391.99,24.09 402.4,24.95 409.78,25.82 415.51,26.69 420.19,27.56 424.15,28.43 427.57,29.3 430.6,30.17 433.3,31.04 435.75,31.91 437.98,32.78 440.03,33.65 441.94,34.52 443.71,35.39 445.36,36.26 446.92,37.12 448.39,37.99 449.77,38.86 451.09,39.73 452.34,40.6 453.54,41.47 454.68,42.34 455.77,43.21 456.82,44.08 457.82,44.95 458.79,45.82 459.73,46.69 460.63,47.56 461.5,48.43 462.34,49.29 463.15,50.16 463.94,51.03 464.71,51.9 465.45,52.77 466.18,53.64 466.88,54.51 467.57,55.38 468.23,56.25 468.88,57.12 469.52,57.99 470.13,58.86 470.74,59.73 471.33,60.6 471.9,61.46 472.47,62.33 473.02,63.2 473.56,64.07 474.09,64.94 474.61,65.81 475.12,66.68 475.62,67.55 476.1,68.42 476.58,69.29 477.06,70.16 477.52,71.03 477.97,71.9 478.42,72.77 478.86,73.63 479.29,74.5 479.71,75.37 480.13,76.24 480.54,77.11 480.95,77.98 481.34,78.85 481.74,79.72 482.12,80.59 482.5,81.46 482.88,82.33 483.25,83.2 483.61,84.07 483.97,84.94 484.32,85.8 484.67,86.67 485.02,87.54 485.36,88.41 485.69,89.28 486.02,90.15 486.35,91.02 486.67,91.89 486.99,92.76 487.31,93.63 487.62,94.5 487.92,95.37 488.23,96.24 488.53,97.11 488.83,97.97 489.12,98.84 489.41,99.71 489.7,100.58 489.98,101.45 490.26,102.32 490.54,103.19 490.81,104.06 491.08,104.93 491.35,105.8 491.62,106.67 491.88,107.54 492.14,108.41 492.4,109.28 492.66,110.14 492.91,111.01 493.16,111.88 493.41,112.75 493.53,113.19" fill="none" stroke="#ff1414" stroke-width="1.0" stroke-linejoin="round"/>
</g>
<rect x="370.25" y="120.2" width="58.55" height="24.6" fill="#fff" fill-opacity="0.85" stroke="#d4d4d4" stroke-width="0.6"/>
<line x1="371.7" y1="123.5" x2="380.3" y2="123.5" stroke="#ff2020" stroke-width="0.9"/>
<circle cx="375.9" cy="129.6" r="1.45" fill="#0000ff"/>
<rect x="374.5" y="134.1" width="2.8" height="2.8" fill="#008000"/>
<path d="M375.9,139.85 L377.35,142.65 L374.45,142.65 Z" fill="#ffff00"/>
<path d="M368.5,8H509.5V147.1H368.5Z" fill="none" stroke="#8e8e8e" stroke-width="1"/>
<path d="M374.2,147.1v2.2M391.99,147.1v1.3M402.4,147.1v1.3M409.78,147.1v1.3M415.51,147.1v1.3M420.19,147.1v1.3M424.15,147.1v1.3M427.57,147.1v1.3M430.6,147.1v1.3M433.3,147.1v2.2M451.09,147.1v1.3M461.5,147.1v1.3M468.88,147.1v1.3M474.61,147.1v1.3M479.29,147.1v1.3M483.25,147.1v1.3M486.67,147.1v1.3M489.7,147.1v1.3M492.4,147.1v2.2M368.5,144.99h-1.3M368.5,141.51h-1.3M368.5,138.82h-1.3M368.5,136.62h-1.3M368.5,134.76h-1.3M368.5,133.14h-1.3M368.5,131.72h-1.3M368.5,130.45h-2.2M368.5,122.08h-1.3M368.5,117.19h-1.3M368.5,113.71h-1.3M368.5,111.02h-1.3M368.5,108.82h-1.3M368.5,106.96h-1.3M368.5,105.34h-1.3M368.5,103.92h-1.3M368.5,102.65h-2.2M368.5,94.28h-1.3M368.5,89.39h-1.3M368.5,85.91h-1.3M368.5,83.22h-1.3M368.5,81.02h-1.3M368.5,79.16h-1.3M368.5,77.54h-1.3M368.5,76.12h-1.3M368.5,74.85h-2.2M368.5,66.48h-1.3M368.5,61.59h-1.3M368.5,58.11h-1.3M368.5,55.42h-1.3M368.5,53.22h-1.3M368.5,51.36h-1.3M368.5,49.74h-1.3M368.5,48.32h-1.3M368.5,47.05h-2.2M368.5,38.68h-1.3M368.5,33.79h-1.3M368.5,30.31h-1.3M368.5,27.62h-1.3M368.5,25.42h-1.3M368.5,23.56h-1.3M368.5,21.94h-1.3M368.5,20.52h-1.3M368.5,19.25h-2.2M368.5,10.88h-1.3" stroke="#707070" stroke-width="0.55" fill="none"/>
<clipPath id="cd"><rect x="543" y="8" width="141.4" height="139.1"/></clipPath>
<g clip-path="url(#cd)">
<circle cx="549.5" cy="44.89" r="1.6" fill="#0000ff"/>
<circle cx="567.25" cy="33.23" r="1.6" fill="#0000ff"/>
<circle cx="577.63" cy="29.94" r="1.6" fill="#0000ff"/>
<circle cx="584.99" cy="29.16" r="1.6" fill="#0000ff"/>
<circle cx="590.7" cy="28.44" r="1.6" fill="#0000ff"/>
<circle cx="595.37" cy="28.75" r="1.6" fill="#0000ff"/>
<circle cx="599.32" cy="28.2" r="1.6" fill="#0000ff"/>
<circle cx="602.74" cy="28.96" r="1.6" fill="#0000ff"/>
<circle cx="605.75" cy="28.76" r="1.6" fill="#0000ff"/>
<circle cx="608.45" cy="30.01" r="1.6" fill="#0000ff"/>
<circle cx="610.89" cy="30.41" r="1.6" fill="#0000ff"/>
<circle cx="613.12" cy="30.84" r="1.6" fill="#0000ff"/>
<circle cx="615.17" cy="31.66" r="1.6" fill="#0000ff"/>
<circle cx="617.06" cy="32.59" r="1.6" fill="#0000ff"/>
<circle cx="618.83" cy="32.36" r="1.6" fill="#0000ff"/>
<circle cx="620.48" cy="33.5" r="1.6" fill="#0000ff"/>
<circle cx="622.03" cy="34.51" r="1.6" fill="#0000ff"/>
<circle cx="623.5" cy="35.04" r="1.6" fill="#0000ff"/>
<circle cx="624.88" cy="35.79" r="1.6" fill="#0000ff"/>
<circle cx="626.2" cy="36.53" r="1.6" fill="#0000ff"/>
<circle cx="627.44" cy="36.74" r="1.6" fill="#0000ff"/>
<circle cx="628.64" cy="37.83" r="1.6" fill="#0000ff"/>
<circle cx="629.77" cy="37.57" r="1.6" fill="#0000ff"/>
<circle cx="630.86" cy="39.48" r="1.6" fill="#0000ff"/>
<circle cx="631.91" cy="40.43" r="1.6" fill="#0000ff"/>
<circle cx="632.91" cy="41.89" r="1.6" fill="#0000ff"/>
<circle cx="633.88" cy="41.13" r="1.6" fill="#0000ff"/>
<circle cx="634.81" cy="42.67" r="1.6" fill="#0000ff"/>
<circle cx="635.71" cy="42.56" r="1.6" fill="#0000ff"/>
<circle cx="636.58" cy="44.09" r="1.6" fill="#0000ff"/>
<circle cx="637.42" cy="44.34" r="1.6" fill="#0000ff"/>
<circle cx="638.23" cy="45.81" r="1.6" fill="#0000ff"/>
<circle cx="639.02" cy="46.32" r="1.6" fill="#0000ff"/>
<circle cx="639.78" cy="47.96" r="1.6" fill="#0000ff"/>
<circle cx="640.52" cy="49.34" r="1.6" fill="#0000ff"/>
<circle cx="641.24" cy="50.66" r="1.6" fill="#0000ff"/>
<circle cx="641.95" cy="51.04" r="1.6" fill="#0000ff"/>
<circle cx="642.63" cy="52.1" r="1.6" fill="#0000ff"/>
<circle cx="643.29" cy="53.56" r="1.6" fill="#0000ff"/>
<circle cx="643.94" cy="54.15" r="1.6" fill="#0000ff"/>
<circle cx="644.57" cy="55.24" r="1.6" fill="#0000ff"/>
<circle cx="645.19" cy="57.15" r="1.6" fill="#0000ff"/>
<circle cx="645.79" cy="59.03" r="1.6" fill="#0000ff"/>
<circle cx="646.38" cy="59.66" r="1.6" fill="#0000ff"/>
<circle cx="646.96" cy="61.86" r="1.6" fill="#0000ff"/>
<circle cx="647.52" cy="62.74" r="1.6" fill="#0000ff"/>
<circle cx="648.07" cy="64.02" r="1.6" fill="#0000ff"/>
<circle cx="648.61" cy="66.17" r="1.6" fill="#0000ff"/>
<circle cx="649.14" cy="67.93" r="1.6" fill="#0000ff"/>
<circle cx="649.65" cy="69.33" r="1.6" fill="#0000ff"/>
<circle cx="650.16" cy="71.36" r="1.6" fill="#0000ff"/>
<circle cx="650.66" cy="73.3" r="1.6" fill="#0000ff"/>
<circle cx="651.15" cy="75.06" r="1.6" fill="#0000ff"/>
<circle cx="651.62" cy="76.36" r="1.6" fill="#0000ff"/>
<circle cx="652.09" cy="78.37" r="1.6" fill="#0000ff"/>
<circle cx="652.56" cy="80.11" r="1.6" fill="#0000ff"/>
<circle cx="653.01" cy="80.39" r="1.6" fill="#0000ff"/>
<circle cx="653.45" cy="82.43" r="1.6" fill="#0000ff"/>
<circle cx="653.89" cy="82.44" r="1.6" fill="#0000ff"/>
<circle cx="654.32" cy="84.09" r="1.6" fill="#0000ff"/>
<circle cx="654.75" cy="84.62" r="1.6" fill="#0000ff"/>
<circle cx="655.16" cy="85.99" r="1.6" fill="#0000ff"/>
<circle cx="655.57" cy="87.02" r="1.6" fill="#0000ff"/>
<circle cx="655.97" cy="88.42" r="1.6" fill="#0000ff"/>
<circle cx="656.37" cy="89.05" r="1.6" fill="#0000ff"/>
<circle cx="656.76" cy="89.84" r="1.6" fill="#0000ff"/>
<circle cx="657.15" cy="92.38" r="1.6" fill="#0000ff"/>
<circle cx="657.53" cy="92.77" r="1.6" fill="#0000ff"/>
<circle cx="657.9" cy="94.91" r="1.6" fill="#0000ff"/>
<circle cx="658.27" cy="95.86" r="1.6" fill="#0000ff"/>
<circle cx="658.63" cy="96.83" r="1.6" fill="#0000ff"/>
<circle cx="658.99" cy="99.28" r="1.6" fill="#0000ff"/>
<circle cx="659.34" cy="99.76" r="1.6" fill="#0000ff"/>
<circle cx="659.69" cy="98.79" r="1.6" fill="#0000ff"/>
<circle cx="660.03" cy="101.83" r="1.6" fill="#0000ff"/>
<circle cx="660.37" cy="102.45" r="1.6" fill="#0000ff"/>
<circle cx="660.71" cy="101.97" r="1.6" fill="#0000ff"/>
<circle cx="661.04" cy="103.51" r="1.6" fill="#0000ff"/>
<circle cx="661.37" cy="100.62" r="1.6" fill="#0000ff"/>
<circle cx="661.69" cy="105.02" r="1.6" fill="#0000ff"/>
<circle cx="662.01" cy="102.61" r="1.6" fill="#0000ff"/>
<circle cx="662.63" cy="108.71" r="1.6" fill="#0000ff"/>
<circle cx="662.94" cy="105.7" r="1.6" fill="#0000ff"/>
<circle cx="663.24" cy="116.41" r="1.6" fill="#0000ff"/>
<circle cx="663.83" cy="109.02" r="1.6" fill="#0000ff"/>
<circle cx="664.42" cy="118.47" r="1.6" fill="#0000ff"/>
<circle cx="664.7" cy="116.72" r="1.6" fill="#0000ff"/>
<circle cx="664.99" cy="120.86" r="1.6" fill="#0000ff"/>
<circle cx="665.27" cy="108.2" r="1.6" fill="#0000ff"/>
<circle cx="665.54" cy="121.09" r="1.6" fill="#0000ff"/>
<circle cx="665.82" cy="123.13" r="1.6" fill="#0000ff"/>
<circle cx="666.09" cy="125.65" r="1.6" fill="#0000ff"/>
<circle cx="666.35" cy="122.2" r="1.6" fill="#0000ff"/>
<circle cx="666.62" cy="125.38" r="1.6" fill="#0000ff"/>
<circle cx="666.88" cy="113.01" r="1.6" fill="#0000ff"/>
<circle cx="667.4" cy="133.45" r="1.6" fill="#0000ff"/>
<circle cx="667.65" cy="117.41" r="1.6" fill="#0000ff"/>
<circle cx="667.91" cy="125.48" r="1.6" fill="#0000ff"/>
<circle cx="668.16" cy="118.83" r="1.6" fill="#0000ff"/>
<circle cx="668.4" cy="130.98" r="1.6" fill="#0000ff"/>
<circle cx="668.65" cy="126.48" r="1.6" fill="#0000ff"/>
<circle cx="668.89" cy="116.51" r="1.6" fill="#0000ff"/>
<circle cx="669.13" cy="116.29" r="1.6" fill="#0000ff"/>
<circle cx="669.37" cy="134.12" r="1.6" fill="#0000ff"/>
<circle cx="669.61" cy="122.96" r="1.6" fill="#0000ff"/>
<circle cx="669.84" cy="132.31" r="1.6" fill="#0000ff"/>
<circle cx="670.07" cy="128.82" r="1.6" fill="#0000ff"/>
<circle cx="666.09" cy="109.04" r="1.6" fill="#0000ff"/>
<rect x="547.9" y="43.35" width="3.2" height="3.2" fill="#008000"/>
<rect x="565.65" y="31.82" width="3.2" height="3.2" fill="#008000"/>
<rect x="576.03" y="28.45" width="3.2" height="3.2" fill="#008000"/>
<rect x="583.39" y="27.19" width="3.2" height="3.2" fill="#008000"/>
<rect x="589.1" y="26.77" width="3.2" height="3.2" fill="#008000"/>
<rect x="593.77" y="26.92" width="3.2" height="3.2" fill="#008000"/>
<rect x="597.72" y="27.17" width="3.2" height="3.2" fill="#008000"/>
<rect x="601.14" y="26.74" width="3.2" height="3.2" fill="#008000"/>
<rect x="604.15" y="27.91" width="3.2" height="3.2" fill="#008000"/>
<rect x="606.85" y="27.63" width="3.2" height="3.2" fill="#008000"/>
<rect x="609.29" y="28.26" width="3.2" height="3.2" fill="#008000"/>
<rect x="611.52" y="29.15" width="3.2" height="3.2" fill="#008000"/>
<rect x="613.57" y="29.54" width="3.2" height="3.2" fill="#008000"/>
<rect x="615.46" y="30.41" width="3.2" height="3.2" fill="#008000"/>
<rect x="617.23" y="30.61" width="3.2" height="3.2" fill="#008000"/>
<rect x="618.88" y="31.88" width="3.2" height="3.2" fill="#008000"/>
<rect x="620.43" y="31.67" width="3.2" height="3.2" fill="#008000"/>
<rect x="621.9" y="33.53" width="3.2" height="3.2" fill="#008000"/>
<rect x="623.28" y="33.44" width="3.2" height="3.2" fill="#008000"/>
<rect x="624.6" y="35.03" width="3.2" height="3.2" fill="#008000"/>
<rect x="625.84" y="34.63" width="3.2" height="3.2" fill="#008000"/>
<rect x="627.04" y="36.15" width="3.2" height="3.2" fill="#008000"/>
<rect x="628.17" y="35.89" width="3.2" height="3.2" fill="#008000"/>
<rect x="629.26" y="37.67" width="3.2" height="3.2" fill="#008000"/>
<rect x="630.31" y="38.59" width="3.2" height="3.2" fill="#008000"/>
<rect x="631.31" y="39.69" width="3.2" height="3.2" fill="#008000"/>
<rect x="632.28" y="39.58" width="3.2" height="3.2" fill="#008000"/>
<rect x="633.21" y="40.34" width="3.2" height="3.2" fill="#008000"/>
<rect x="634.11" y="40.86" width="3.2" height="3.2" fill="#008000"/>
<rect x="634.98" y="42.59" width="3.2" height="3.2" fill="#008000"/>
<rect x="635.82" y="42.8" width="3.2" height="3.2" fill="#008000"/>
<rect x="636.63" y="44.19" width="3.2" height="3.2" fill="#008000"/>
<rect x="637.42" y="44.74" width="3.2" height="3.2" fill="#008000"/>
<rect x="638.18" y="45.76" width="3.2" height="3.2" fill="#008000"/>
<rect x="638.92" y="47.11" width="3.2" height="3.2" fill="#008000"/>
<rect x="639.64" y="48.35" width="3.2" height="3.2" fill="#008000"/>
<rect x="640.35" y="48.76" width="3.2" height="3.2" fill="#008000"/>
<rect x="641.03" y="50.75" width="3.2" height="3.2" fill="#008000"/>
<rect x="641.69" y="51.8" width="3.2" height="3.2" fill="#008000"/>
<rect x="642.34" y="52.27" width="3.2" height="3.2" fill="#008000"/>
<rect x="642.97" y="53.12" width="3.2" height="3.2" fill="#008000"/>
<rect x="643.59" y="54.42" width="3.2" height="3.2" fill="#008000"/>
<rect x="644.19" y="56.69" width="3.2" height="3.2" fill="#008000"/>
<rect x="644.78" y="58.93" width="3.2" height="3.2" fill="#008000"/>
<rect x="645.36" y="59.98" width="3.2" height="3.2" fill="#008000"/>
<rect x="645.92" y="60.95" width="3.2" height="3.2" fill="#008000"/>
<rect x="646.47" y="62.23" width="3.2" height="3.2" fill="#008000"/>
<rect x="647.01" y="64.19" width="3.2" height="3.2" fill="#008000"/>
<rect x="647.54" y="65.7" width="3.2" height="3.2" fill="#008000"/>
<rect x="648.05" y="67.15" width="3.2" height="3.2" fill="#008000"/>
<rect x="648.56" y="68.97" width="3.2" height="3.2" fill="#008000"/>
<rect x="649.06" y="71.22" width="3.2" height="3.2" fill="#008000"/>
<rect x="649.55" y="72.49" width="3.2" height="3.2" fill="#008000"/>
<rect x="650.02" y="74.37" width="3.2" height="3.2" fill="#008000"/>
<rect x="650.49" y="76.41" width="3.2" height="3.2" fill="#008000"/>
<rect x="650.96" y="78.31" width="3.2" height="3.2" fill="#008000"/>
<rect x="651.41" y="79.06" width="3.2" height="3.2" fill="#008000"/>
<rect x="651.85" y="80.78" width="3.2" height="3.2" fill="#008000"/>
<rect x="652.29" y="81" width="3.2" height="3.2" fill="#008000"/>
<rect x="652.72" y="82.19" width="3.2" height="3.2" fill="#008000"/>
<rect x="653.15" y="82.45" width="3.2" height="3.2" fill="#008000"/>
<rect x="653.56" y="84.35" width="3.2" height="3.2" fill="#008000"/>
<rect x="653.97" y="84.65" width="3.2" height="3.2" fill="#008000"/>
<rect x="654.37" y="86.44" width="3.2" height="3.2" fill="#008000"/>
<rect x="654.77" y="86.89" width="3.2" height="3.2" fill="#008000"/>
<rect x="655.16" y="87.76" width="3.2" height="3.2" fill="#008000"/>
<rect x="655.55" y="90.39" width="3.2" height="3.2" fill="#008000"/>
<rect x="655.93" y="91.63" width="3.2" height="3.2" fill="#008000"/>
<rect x="656.3" y="92.63" width="3.2" height="3.2" fill="#008000"/>
<rect x="656.67" y="93.94" width="3.2" height="3.2" fill="#008000"/>
<rect x="657.03" y="94.49" width="3.2" height="3.2" fill="#008000"/>
<rect x="658.09" y="98.18" width="3.2" height="3.2" fill="#008000"/>
<rect x="658.43" y="101.59" width="3.2" height="3.2" fill="#008000"/>
<rect x="658.77" y="102.24" width="3.2" height="3.2" fill="#008000"/>
<rect x="659.44" y="102.94" width="3.2" height="3.2" fill="#008000"/>
<rect x="659.77" y="99.16" width="3.2" height="3.2" fill="#008000"/>
<rect x="660.09" y="103.6" width="3.2" height="3.2" fill="#008000"/>
<rect x="660.41" y="101.64" width="3.2" height="3.2" fill="#008000"/>
<rect x="660.72" y="106.71" width="3.2" height="3.2" fill="#008000"/>
<rect x="661.64" y="113.53" width="3.2" height="3.2" fill="#008000"/>
<rect x="661.94" y="110.98" width="3.2" height="3.2" fill="#008000"/>
<rect x="662.23" y="109.79" width="3.2" height="3.2" fill="#008000"/>
<rect x="662.53" y="116.6" width="3.2" height="3.2" fill="#008000"/>
<rect x="662.82" y="112.44" width="3.2" height="3.2" fill="#008000"/>
<rect x="663.1" y="117.72" width="3.2" height="3.2" fill="#008000"/>
<rect x="663.39" y="114.99" width="3.2" height="3.2" fill="#008000"/>
<rect x="663.67" y="107.95" width="3.2" height="3.2" fill="#008000"/>
<rect x="663.94" y="120.64" width="3.2" height="3.2" fill="#008000"/>
<rect x="664.22" y="123.32" width="3.2" height="3.2" fill="#008000"/>
<rect x="664.49" y="119.97" width="3.2" height="3.2" fill="#008000"/>
<rect x="664.75" y="121.13" width="3.2" height="3.2" fill="#008000"/>
<rect x="665.02" y="121" width="3.2" height="3.2" fill="#008000"/>
<rect x="665.28" y="117.3" width="3.2" height="3.2" fill="#008000"/>
<rect x="665.54" y="121.18" width="3.2" height="3.2" fill="#008000"/>
<rect x="666.05" y="115.68" width="3.2" height="3.2" fill="#008000"/>
<rect x="666.31" y="128.35" width="3.2" height="3.2" fill="#008000"/>
<rect x="666.56" y="118.91" width="3.2" height="3.2" fill="#008000"/>
<rect x="666.8" y="131.97" width="3.2" height="3.2" fill="#008000"/>
<rect x="667.05" y="124.67" width="3.2" height="3.2" fill="#008000"/>
<rect x="667.29" y="114.92" width="3.2" height="3.2" fill="#008000"/>
<rect x="667.53" y="118.46" width="3.2" height="3.2" fill="#008000"/>
<rect x="667.77" y="132.35" width="3.2" height="3.2" fill="#008000"/>
<rect x="668.01" y="120.46" width="3.2" height="3.2" fill="#008000"/>
<rect x="668.24" y="131.31" width="3.2" height="3.2" fill="#008000"/>
<rect x="668.47" y="130.85" width="3.2" height="3.2" fill="#008000"/>
<rect x="668.7" y="125.32" width="3.2" height="3.2" fill="#008000"/>
<rect x="668.24" y="112.17" width="3.2" height="3.2" fill="#008000"/>
<use href="#tri" x="549.5" y="45.75" fill="#ffff00"/>
<use href="#tri" x="567.25" y="32.47" fill="#ffff00"/>
<use href="#tri" x="577.63" y="29.28" fill="#ffff00"/>
<use href="#tri" x="584.99" y="28.98" fill="#ffff00"/>
<use href="#tri" x="590.7" y="29.05" fill="#ffff00"/>
<use href="#tri" x="595.37" y="29.03" fill="#ffff00"/>
<use href="#tri" x="599.32" y="28.87" fill="#ffff00"/>
<use href="#tri" x="602.74" y="28.18" fill="#ffff00"/>
<use href="#tri" x="605.75" y="29.32" fill="#ffff00"/>
<use href="#tri" x="608.45" y="29.26" fill="#ffff00"/>
<use href="#tri" x="610.89" y="31.1" fill="#ffff00"/>
<use href="#tri" x="613.12" y="30.89" fill="#ffff00"/>
<use href="#tri" x="615.17" y="31.83" fill="#ffff00"/>
<use href="#tri" x="617.06" y="32.67" fill="#ffff00"/>
<use href="#tri" x="618.83" y="31.59" fill="#ffff00"/>
<use href="#tri" x="620.48" y="34.15" fill="#ffff00"/>
<use href="#tri" x="622.03" y="33.61" fill="#ffff00"/>
<use href="#tri" x="623.5" y="35.32" fill="#ffff00"/>
<use href="#tri" x="624.88" y="36.2" fill="#ffff00"/>
<use href="#tri" x="626.2" y="35.95" fill="#ffff00"/>
<use href="#tri" x="627.44" y="37.69" fill="#ffff00"/>
<use href="#tri" x="628.64" y="37.52" fill="#ffff00"/>
<use href="#tri" x="629.77" y="39.82" fill="#ffff00"/>
<use href="#tri" x="630.86" y="39.68" fill="#ffff00"/>
<use href="#tri" x="631.91" y="39.45" fill="#ffff00"/>
<use href="#tri" x="632.91" y="41.03" fill="#ffff00"/>
<use href="#tri" x="633.88" y="42.49" fill="#ffff00"/>
<use href="#tri" x="634.81" y="42.37" fill="#ffff00"/>
<use href="#tri" x="635.71" y="42.43" fill="#ffff00"/>
<use href="#tri" x="636.58" y="44.25" fill="#ffff00"/>
<use href="#tri" x="637.42" y="46.16" fill="#ffff00"/>
<use href="#tri" x="638.23" y="45.89" fill="#ffff00"/>
<use href="#tri" x="639.02" y="47.24" fill="#ffff00"/>
<use href="#tri" x="639.78" y="48.71" fill="#ffff00"/>
<use href="#tri" x="640.52" y="48.73" fill="#ffff00"/>
<use href="#tri" x="641.24" y="51.4" fill="#ffff00"/>
<use href="#tri" x="641.95" y="52.38" fill="#ffff00"/>
<use href="#tri" x="642.63" y="51.8" fill="#ffff00"/>
<use href="#tri" x="643.29" y="52.52" fill="#ffff00"/>
<use href="#tri" x="643.94" y="54.51" fill="#ffff00"/>
<use href="#tri" x="644.57" y="55.8" fill="#ffff00"/>
<use href="#tri" x="645.19" y="57.36" fill="#ffff00"/>
<use href="#tri" x="645.79" y="59.4" fill="#ffff00"/>
<use href="#tri" x="646.38" y="60.45" fill="#ffff00"/>
<use href="#tri" x="646.96" y="62.02" fill="#ffff00"/>
<use href="#tri" x="647.52" y="63.36" fill="#ffff00"/>
<use href="#tri" x="648.07" y="63.73" fill="#ffff00"/>
<use href="#tri" x="648.61" y="67.3" fill="#ffff00"/>
<use href="#tri" x="649.14" y="67.28" fill="#ffff00"/>
<use href="#tri" x="649.65" y="70.56" fill="#ffff00"/>
<use href="#tri" x="650.16" y="71.6" fill="#ffff00"/>
<use href="#tri" x="650.66" y="74.37" fill="#ffff00"/>
<use href="#tri" x="651.15" y="75.42" fill="#ffff00"/>
<use href="#tri" x="651.62" y="77.75" fill="#ffff00"/>
<use href="#tri" x="652.09" y="78.41" fill="#ffff00"/>
<use href="#tri" x="652.56" y="79.81" fill="#ffff00"/>
<use href="#tri" x="653.01" y="82.4" fill="#ffff00"/>
<use href="#tri" x="653.45" y="82.52" fill="#ffff00"/>
<use href="#tri" x="653.89" y="84.07" fill="#ffff00"/>
<use href="#tri" x="654.32" y="85.61" fill="#ffff00"/>
<use href="#tri" x="654.75" y="85.18" fill="#ffff00"/>
<use href="#tri" x="655.16" y="84.85" fill="#ffff00"/>
<use href="#tri" x="655.57" y="87.49" fill="#ffff00"/>
<use href="#tri" x="655.97" y="88.4" fill="#ffff00"/>
<use href="#tri" x="656.37" y="87.95" fill="#ffff00"/>
<use href="#tri" x="656.76" y="92.03" fill="#ffff00"/>
<use href="#tri" x="657.15" y="93.52" fill="#ffff00"/>
<use href="#tri" x="657.53" y="94.52" fill="#ffff00"/>
<use href="#tri" x="657.9" y="95.29" fill="#ffff00"/>
<use href="#tri" x="658.27" y="95.46" fill="#ffff00"/>
<use href="#tri" x="658.63" y="97.08" fill="#ffff00"/>
<use href="#tri" x="658.99" y="100.02" fill="#ffff00"/>
<use href="#tri" x="659.34" y="100.42" fill="#ffff00"/>
<use href="#tri" x="659.69" y="98.39" fill="#ffff00"/>
<use href="#tri" x="660.03" y="100.96" fill="#ffff00"/>
<use href="#tri" x="660.71" y="100.85" fill="#ffff00"/>
<use href="#tri" x="661.04" y="104.57" fill="#ffff00"/>
<use href="#tri" x="661.37" y="101.66" fill="#ffff00"/>
<use href="#tri" x="661.69" y="105.87" fill="#ffff00"/>
<use href="#tri" x="662.32" y="107.21" fill="#ffff00"/>
<use href="#tri" x="662.63" y="111.26" fill="#ffff00"/>
<use href="#tri" x="662.94" y="107.44" fill="#ffff00"/>
<use href="#tri" x="663.24" y="113.08" fill="#ffff00"/>
<use href="#tri" x="663.54" y="112.59" fill="#ffff00"/>
<use href="#tri" x="663.83" y="110.05" fill="#ffff00"/>
<use href="#tri" x="664.13" y="116.92" fill="#ffff00"/>
<use href="#tri" x="664.7" y="116.12" fill="#ffff00"/>
<use href="#tri" x="664.99" y="122.68" fill="#ffff00"/>
<use href="#tri" x="665.27" y="113.2" fill="#ffff00"/>
<use href="#tri" x="665.54" y="121.03" fill="#ffff00"/>
<use href="#tri" x="665.82" y="125.61" fill="#ffff00"/>
<use href="#tri" x="666.09" y="127.78" fill="#ffff00"/>
<use href="#tri" x="666.35" y="126.43" fill="#ffff00"/>
<use href="#tri" x="666.62" y="117.81" fill="#ffff00"/>
<use href="#tri" x="667.4" y="131.72" fill="#ffff00"/>
<use href="#tri" x="667.65" y="122.13" fill="#ffff00"/>
<use href="#tri" x="668.89" y="119.55" fill="#ffff00"/>
<use href="#tri" x="669.13" y="120.47" fill="#ffff00"/>
<use href="#tri" x="669.37" y="131.49" fill="#ffff00"/>
<use href="#tri" x="669.61" y="121.15" fill="#ffff00"/>
<use href="#tri" x="669.84" y="132.94" fill="#ffff00"/>
<use href="#tri" x="670.07" y="126.72" fill="#ffff00"/>
<use href="#tri" x="670.3" y="123.91" fill="#ffff00"/>
<use href="#tri" x="669.84" y="114.05" fill="#ffff00"/>
<polyline points="549.5,25.02 567.25,25.77 577.63,26.52 584.99,27.27 590.7,28.02 595.37,28.76 599.32,29.51 602.74,30.26 605.75,31.01 608.45,31.76 610.89,32.51 613.12,33.26 615.17,34 617.06,34.75 618.83,35.5 620.48,36.25 622.03,37 623.5,37.75 624.88,38.5 626.2,39.24 627.44,39.99 628.64,40.74 629.77,41.49 630.86,42.24 631.91,42.99 632.91,43.74 633.88,44.48 634.81,45.23 635.71,45.98 636.58,46.73 637.42,47.48 638.23,48.23 639.02,48.98 639.78,49.72 640.52,50.47 641.24,51.22 641.95,51.97 642.63,52.72 643.29,53.47 643.94,54.21 644.57,54.96 645.19,55.71 645.79,56.46 646.38,57.21 646.96,57.96 647.52,58.71 648.07,59.45 648.61,60.2 649.14,60.95 649.65,61.7 650.16,62.45 650.66,63.2 651.15,63.95 651.62,64.69 652.09,65.44 652.56,66.19 653.01,66.94 653.45,67.69 653.89,68.44 654.32,69.19 654.75,69.93 655.16,70.68 655.57,71.43 655.97,72.18 656.37,72.93 656.76,73.68 657.15,74.43 657.53,75.17 657.9,75.92 658.27,76.67 658.63,77.42 658.99,78.17 659.34,78.92 659.69,79.67 660.03,80.41 660.37,81.16 660.71,81.91 661.04,82.66 661.37,83.41 661.69,84.16 662.01,84.91 662.32,85.65 662.63,86.4 662.94,87.15 663.24,87.9 663.54,88.65 663.83,89.4 664.13,90.15 664.42,90.89 664.7,91.64 664.99,92.39 665.27,93.14 665.54,93.89 665.82,94.64 666.09,95.39 666.35,96.13 666.62,96.88 666.88,97.63 667.14,98.38 667.4,99.13 667.65,99.88 667.91,100.63 668.16,101.37 668.4,102.12 668.65,102.87 668.89,103.62 669.13,104.37 669.37,105.12 669.61,105.86 669.84,106.61 670.07,107.36 670.3,108.11" fill="none" stroke="#ff1414" stroke-width="1.0" stroke-linejoin="round"/>
</g>
<rect x="544.75" y="120.2" width="58.55" height="24.6" fill="#fff" fill-opacity="0.85" stroke="#d4d4d4" stroke-width="0.6"/>
<line x1="546.2" y1="123.5" x2="554.8" y2="123.5" stroke="#ff2020" stroke-width="0.9"/>
<circle cx="550.4" cy="129.6" r="1.45" fill="#0000ff"/>
<rect x="549" y="134.1" width="2.8" height="2.8" fill="#008000"/>
<path d="M550.4,139.85 L551.85,142.65 L548.95,142.65 Z" fill="#ffff00"/>
<path d="M543,8H684.4V147.1H543Z" fill="none" stroke="#8e8e8e" stroke-width="1"/>
<path d="M549.5,147.1v2.2M567.25,147.1v1.3M577.63,147.1v1.3M584.99,147.1v1.3M590.7,147.1v1.3M595.37,147.1v1.3M599.32,147.1v1.3M602.74,147.1v1.3M605.75,147.1v1.3M608.45,147.1v2.2M626.2,147.1v1.3M636.58,147.1v1.3M643.94,147.1v1.3M649.65,147.1v1.3M654.32,147.1v1.3M658.27,147.1v1.3M661.69,147.1v1.3M664.7,147.1v1.3M667.4,147.1v2.2M543,144.99h-1.3M543,141.51h-1.3M543,138.82h-1.3M543,136.62h-1.3M543,134.76h-1.3M543,133.14h-1.3M543,131.72h-1.3M543,130.45h-2.2M543,122.08h-1.3M543,117.19h-1.3M543,113.71h-1.3M543,111.02h-1.3M543,108.82h-1.3M543,106.96h-1.3M543,105.34h-1.3M543,103.92h-1.3M543,102.65h-2.2M543,94.28h-1.3M543,89.39h-1.3M543,85.91h-1.3M543,83.22h-1.3M543,81.02h-1.3M543,79.16h-1.3M543,77.54h-1.3M543,76.12h-1.3M543,74.85h-2.2M543,66.48h-1.3M543,61.59h-1.3M543,58.11h-1.3M543,55.42h-1.3M543,53.22h-1.3M543,51.36h-1.3M543,49.74h-1.3M543,48.32h-1.3M543,47.05h-2.2M543,38.68h-1.3M543,33.79h-1.3M543,30.31h-1.3M543,27.62h-1.3M543,25.42h-1.3M543,23.56h-1.3M543,21.94h-1.3M543,20.52h-1.3M543,19.25h-2.2M543,10.88h-1.3" stroke="#707070" stroke-width="0.55" fill="none"/>
<clipPath id="ce"><rect x="23.4" y="186" width="141.1" height="139"/></clipPath>
<g clip-path="url(#ce)">
<circle cx="29.1" cy="222.5" r="1.6" fill="#0000ff"/>
<circle cx="46.79" cy="210.26" r="1.6" fill="#0000ff"/>
<circle cx="57.13" cy="207.22" r="1.6" fill="#0000ff"/>
<circle cx="64.47" cy="207.06" r="1.6" fill="#0000ff"/>
<circle cx="70.16" cy="206.77" r="1.6" fill="#0000ff"/>
<circle cx="74.82" cy="206.71" r="1.6" fill="#0000ff"/>
<circle cx="78.75" cy="205.52" r="1.6" fill="#0000ff"/>
<circle cx="82.16" cy="207.31" r="1.6" fill="#0000ff"/>
<circle cx="85.16" cy="207.39" r="1.6" fill="#0000ff"/>
<circle cx="87.85" cy="208.46" r="1.6" fill="#0000ff"/>
<circle cx="90.28" cy="208.31" r="1.6" fill="#0000ff"/>
<circle cx="92.5" cy="208.98" r="1.6" fill="#0000ff"/>
<circle cx="94.54" cy="210.14" r="1.6" fill="#0000ff"/>
<circle cx="96.44" cy="210.55" r="1.6" fill="#0000ff"/>
<circle cx="98.2" cy="212.13" r="1.6" fill="#0000ff"/>
<circle cx="99.84" cy="212.83" r="1.6" fill="#0000ff"/>
<circle cx="101.39" cy="212.21" r="1.6" fill="#0000ff"/>
<circle cx="102.85" cy="213.4" r="1.6" fill="#0000ff"/>
<circle cx="104.23" cy="213.83" r="1.6" fill="#0000ff"/>
<circle cx="105.54" cy="215.06" r="1.6" fill="#0000ff"/>
<circle cx="106.78" cy="215.46" r="1.6" fill="#0000ff"/>
<circle cx="107.97" cy="216.39" r="1.6" fill="#0000ff"/>
<circle cx="109.1" cy="215.7" r="1.6" fill="#0000ff"/>
<circle cx="110.19" cy="217.04" r="1.6" fill="#0000ff"/>
<circle cx="111.23" cy="216.98" r="1.6" fill="#0000ff"/>
<circle cx="112.23" cy="218.26" r="1.6" fill="#0000ff"/>
<circle cx="113.19" cy="217.88" r="1.6" fill="#0000ff"/>
<circle cx="114.12" cy="220.12" r="1.6" fill="#0000ff"/>
<circle cx="115.02" cy="219.42" r="1.6" fill="#0000ff"/>
<circle cx="115.88" cy="220.12" r="1.6" fill="#0000ff"/>
<circle cx="116.72" cy="221.94" r="1.6" fill="#0000ff"/>
<circle cx="117.53" cy="221.22" r="1.6" fill="#0000ff"/>
<circle cx="118.31" cy="222.19" r="1.6" fill="#0000ff"/>
<circle cx="119.07" cy="222.97" r="1.6" fill="#0000ff"/>
<circle cx="119.81" cy="223.94" r="1.6" fill="#0000ff"/>
<circle cx="120.53" cy="225.73" r="1.6" fill="#0000ff"/>
<circle cx="121.23" cy="225.11" r="1.6" fill="#0000ff"/>
<circle cx="121.91" cy="226.5" r="1.6" fill="#0000ff"/>
<circle cx="122.58" cy="227.34" r="1.6" fill="#0000ff"/>
<circle cx="123.22" cy="227.84" r="1.6" fill="#0000ff"/>
<circle cx="123.85" cy="228.28" r="1.6" fill="#0000ff"/>
<circle cx="124.47" cy="230.04" r="1.6" fill="#0000ff"/>
<circle cx="125.07" cy="231.93" r="1.6" fill="#0000ff"/>
<circle cx="125.65" cy="233.49" r="1.6" fill="#0000ff"/>
<circle cx="126.23" cy="235.78" r="1.6" fill="#0000ff"/>
<circle cx="126.79" cy="238.24" r="1.6" fill="#0000ff"/>
<circle cx="127.34" cy="239.96" r="1.6" fill="#0000ff"/>
<circle cx="127.87" cy="241.56" r="1.6" fill="#0000ff"/>
<circle cx="128.4" cy="241.84" r="1.6" fill="#0000ff"/>
<circle cx="128.91" cy="242.78" r="1.6" fill="#0000ff"/>
<circle cx="129.42" cy="246.27" r="1.6" fill="#0000ff"/>
<circle cx="129.92" cy="245.84" r="1.6" fill="#0000ff"/>
<circle cx="130.4" cy="246.22" r="1.6" fill="#0000ff"/>
<circle cx="130.88" cy="247.02" r="1.6" fill="#0000ff"/>
<circle cx="131.35" cy="249.04" r="1.6" fill="#0000ff"/>
<circle cx="131.81" cy="251.45" r="1.6" fill="#0000ff"/>
<circle cx="132.26" cy="252.11" r="1.6" fill="#0000ff"/>
<circle cx="132.7" cy="253.27" r="1.6" fill="#0000ff"/>
<circle cx="133.14" cy="251.74" r="1.6" fill="#0000ff"/>
<circle cx="134.81" cy="260.84" r="1.6" fill="#0000ff"/>
<circle cx="135.21" cy="257.31" r="1.6" fill="#0000ff"/>
<circle cx="135.61" cy="258.97" r="1.6" fill="#0000ff"/>
<circle cx="136" cy="261.81" r="1.6" fill="#0000ff"/>
<circle cx="136.38" cy="261.84" r="1.6" fill="#0000ff"/>
<circle cx="137.13" cy="264.14" r="1.6" fill="#0000ff"/>
<circle cx="137.5" cy="262.98" r="1.6" fill="#0000ff"/>
<circle cx="137.86" cy="266.42" r="1.6" fill="#0000ff"/>
<circle cx="138.22" cy="268.14" r="1.6" fill="#0000ff"/>
<circle cx="138.57" cy="267.33" r="1.6" fill="#0000ff"/>
<circle cx="138.92" cy="268.87" r="1.6" fill="#0000ff"/>
<circle cx="139.26" cy="271.99" r="1.6" fill="#0000ff"/>
<circle cx="139.6" cy="269.47" r="1.6" fill="#0000ff"/>
<circle cx="140.26" cy="274.25" r="1.6" fill="#0000ff"/>
<circle cx="140.59" cy="273.61" r="1.6" fill="#0000ff"/>
<circle cx="140.91" cy="278.35" r="1.6" fill="#0000ff"/>
<circle cx="141.22" cy="275.39" r="1.6" fill="#0000ff"/>
<circle cx="141.54" cy="273.54" r="1.6" fill="#0000ff"/>
<circle cx="141.85" cy="275.31" r="1.6" fill="#0000ff"/>
<circle cx="142.15" cy="276.2" r="1.6" fill="#0000ff"/>
<circle cx="142.45" cy="278.04" r="1.6" fill="#0000ff"/>
<circle cx="142.75" cy="277.71" r="1.6" fill="#0000ff"/>
<circle cx="143.05" cy="283.22" r="1.6" fill="#0000ff"/>
<circle cx="143.34" cy="281.83" r="1.6" fill="#0000ff"/>
<circle cx="143.63" cy="281.03" r="1.6" fill="#0000ff"/>
<circle cx="143.91" cy="281.59" r="1.6" fill="#0000ff"/>
<circle cx="144.19" cy="286.84" r="1.6" fill="#0000ff"/>
<circle cx="144.47" cy="284.68" r="1.6" fill="#0000ff"/>
<circle cx="144.75" cy="289.31" r="1.6" fill="#0000ff"/>
<circle cx="145.02" cy="284.18" r="1.6" fill="#0000ff"/>
<circle cx="145.29" cy="285" r="1.6" fill="#0000ff"/>
<circle cx="145.56" cy="292.18" r="1.6" fill="#0000ff"/>
<circle cx="145.82" cy="290.88" r="1.6" fill="#0000ff"/>
<circle cx="146.08" cy="298.27" r="1.6" fill="#0000ff"/>
<circle cx="146.34" cy="289.28" r="1.6" fill="#0000ff"/>
<circle cx="146.85" cy="295.22" r="1.6" fill="#0000ff"/>
<circle cx="147.35" cy="297.26" r="1.6" fill="#0000ff"/>
<circle cx="147.6" cy="299.44" r="1.6" fill="#0000ff"/>
<circle cx="147.84" cy="303.31" r="1.6" fill="#0000ff"/>
<circle cx="148.09" cy="298.5" r="1.6" fill="#0000ff"/>
<circle cx="148.33" cy="295.32" r="1.6" fill="#0000ff"/>
<circle cx="148.56" cy="299.61" r="1.6" fill="#0000ff"/>
<circle cx="148.8" cy="299.36" r="1.6" fill="#0000ff"/>
<circle cx="149.26" cy="306.3" r="1.6" fill="#0000ff"/>
<circle cx="149.72" cy="300.36" r="1.6" fill="#0000ff"/>
<circle cx="149.94" cy="306.48" r="1.6" fill="#0000ff"/>
<circle cx="150.17" cy="304.45" r="1.6" fill="#0000ff"/>
<circle cx="150.39" cy="308.46" r="1.6" fill="#0000ff"/>
<circle cx="150.82" cy="306.69" r="1.6" fill="#0000ff"/>
<circle cx="151.04" cy="311.11" r="1.6" fill="#0000ff"/>
<circle cx="151.25" cy="310.94" r="1.6" fill="#0000ff"/>
<circle cx="151.46" cy="308.95" r="1.6" fill="#0000ff"/>
<circle cx="151.67" cy="312.04" r="1.6" fill="#0000ff"/>
<circle cx="151.88" cy="308.68" r="1.6" fill="#0000ff"/>
<circle cx="152.09" cy="309.73" r="1.6" fill="#0000ff"/>
<rect x="27.5" y="221.68" width="3.2" height="3.2" fill="#008000"/>
<rect x="45.19" y="208.37" width="3.2" height="3.2" fill="#008000"/>
<rect x="55.53" y="206.23" width="3.2" height="3.2" fill="#008000"/>
<rect x="62.87" y="205.11" width="3.2" height="3.2" fill="#008000"/>
<rect x="68.56" y="204.54" width="3.2" height="3.2" fill="#008000"/>
<rect x="73.22" y="204.62" width="3.2" height="3.2" fill="#008000"/>
<rect x="77.15" y="203.65" width="3.2" height="3.2" fill="#008000"/>
<rect x="80.56" y="204.75" width="3.2" height="3.2" fill="#008000"/>
<rect x="83.56" y="205.53" width="3.2" height="3.2" fill="#008000"/>
<rect x="86.25" y="206.55" width="3.2" height="3.2" fill="#008000"/>
<rect x="88.68" y="206.29" width="3.2" height="3.2" fill="#008000"/>
<rect x="90.9" y="206.65" width="3.2" height="3.2" fill="#008000"/>
<rect x="92.94" y="208.3" width="3.2" height="3.2" fill="#008000"/>
<rect x="94.84" y="208.86" width="3.2" height="3.2" fill="#008000"/>
<rect x="96.6" y="210.17" width="3.2" height="3.2" fill="#008000"/>
<rect x="98.24" y="210.84" width="3.2" height="3.2" fill="#008000"/>
<rect x="99.79" y="209.99" width="3.2" height="3.2" fill="#008000"/>
<rect x="101.25" y="211.5" width="3.2" height="3.2" fill="#008000"/>
<rect x="102.63" y="211.69" width="3.2" height="3.2" fill="#008000"/>
<rect x="103.94" y="212.8" width="3.2" height="3.2" fill="#008000"/>
<rect x="105.18" y="213.65" width="3.2" height="3.2" fill="#008000"/>
<rect x="106.37" y="214.18" width="3.2" height="3.2" fill="#008000"/>
<rect x="107.5" y="214.52" width="3.2" height="3.2" fill="#008000"/>
<rect x="108.59" y="214.61" width="3.2" height="3.2" fill="#008000"/>
<rect x="109.63" y="214.49" width="3.2" height="3.2" fill="#008000"/>
<rect x="110.63" y="216.49" width="3.2" height="3.2" fill="#008000"/>
<rect x="111.59" y="216.45" width="3.2" height="3.2" fill="#008000"/>
<rect x="112.52" y="218.07" width="3.2" height="3.2" fill="#008000"/>
<rect x="113.42" y="217.88" width="3.2" height="3.2" fill="#008000"/>
<rect x="114.28" y="218.55" width="3.2" height="3.2" fill="#008000"/>
<rect x="115.12" y="219.37" width="3.2" height="3.2" fill="#008000"/>
<rect x="115.93" y="219.64" width="3.2" height="3.2" fill="#008000"/>
<rect x="116.71" y="220.57" width="3.2" height="3.2" fill="#008000"/>
<rect x="117.47" y="220.92" width="3.2" height="3.2" fill="#008000"/>
<rect x="118.21" y="222.23" width="3.2" height="3.2" fill="#008000"/>
<rect x="118.93" y="223.26" width="3.2" height="3.2" fill="#008000"/>
<rect x="119.63" y="222.82" width="3.2" height="3.2" fill="#008000"/>
<rect x="120.31" y="224.41" width="3.2" height="3.2" fill="#008000"/>
<rect x="120.98" y="225.7" width="3.2" height="3.2" fill="#008000"/>
<rect x="121.62" y="225.91" width="3.2" height="3.2" fill="#008000"/>
<rect x="122.25" y="226.44" width="3.2" height="3.2" fill="#008000"/>
<rect x="122.87" y="228.04" width="3.2" height="3.2" fill="#008000"/>
<rect x="123.47" y="229.8" width="3.2" height="3.2" fill="#008000"/>
<rect x="124.05" y="231.58" width="3.2" height="3.2" fill="#008000"/>
<rect x="124.63" y="233.91" width="3.2" height="3.2" fill="#008000"/>
<rect x="125.19" y="236.65" width="3.2" height="3.2" fill="#008000"/>
<rect x="125.74" y="238.36" width="3.2" height="3.2" fill="#008000"/>
<rect x="126.27" y="239.46" width="3.2" height="3.2" fill="#008000"/>
<rect x="126.8" y="239.95" width="3.2" height="3.2" fill="#008000"/>
<rect x="127.31" y="241.53" width="3.2" height="3.2" fill="#008000"/>
<rect x="127.82" y="244.84" width="3.2" height="3.2" fill="#008000"/>
<rect x="128.32" y="244.65" width="3.2" height="3.2" fill="#008000"/>
<rect x="128.8" y="245.52" width="3.2" height="3.2" fill="#008000"/>
<rect x="129.28" y="245.1" width="3.2" height="3.2" fill="#008000"/>
<rect x="129.75" y="246.9" width="3.2" height="3.2" fill="#008000"/>
<rect x="130.21" y="249.71" width="3.2" height="3.2" fill="#008000"/>
<rect x="130.66" y="251.27" width="3.2" height="3.2" fill="#008000"/>
<rect x="131.1" y="251.45" width="3.2" height="3.2" fill="#008000"/>
<rect x="131.54" y="250.48" width="3.2" height="3.2" fill="#008000"/>
<rect x="131.97" y="253.3" width="3.2" height="3.2" fill="#008000"/>
<rect x="132.39" y="253.39" width="3.2" height="3.2" fill="#008000"/>
<rect x="132.8" y="251.46" width="3.2" height="3.2" fill="#008000"/>
<rect x="133.21" y="257.25" width="3.2" height="3.2" fill="#008000"/>
<rect x="133.61" y="255.21" width="3.2" height="3.2" fill="#008000"/>
<rect x="134.01" y="254.91" width="3.2" height="3.2" fill="#008000"/>
<rect x="134.4" y="261.12" width="3.2" height="3.2" fill="#008000"/>
<rect x="134.78" y="259.67" width="3.2" height="3.2" fill="#008000"/>
<rect x="135.53" y="261.88" width="3.2" height="3.2" fill="#008000"/>
<rect x="135.9" y="261.14" width="3.2" height="3.2" fill="#008000"/>
<rect x="136.26" y="265.11" width="3.2" height="3.2" fill="#008000"/>
<rect x="136.62" y="266.34" width="3.2" height="3.2" fill="#008000"/>
<rect x="136.97" y="267.48" width="3.2" height="3.2" fill="#008000"/>
<rect x="137.32" y="265.27" width="3.2" height="3.2" fill="#008000"/>
<rect x="137.66" y="269.69" width="3.2" height="3.2" fill="#008000"/>
<rect x="138" y="266.36" width="3.2" height="3.2" fill="#008000"/>
<rect x="138.33" y="272.25" width="3.2" height="3.2" fill="#008000"/>
<rect x="138.66" y="273.49" width="3.2" height="3.2" fill="#008000"/>
<rect x="138.99" y="275.5" width="3.2" height="3.2" fill="#008000"/>
<rect x="139.31" y="275.89" width="3.2" height="3.2" fill="#008000"/>
<rect x="139.62" y="273.1" width="3.2" height="3.2" fill="#008000"/>
<rect x="139.94" y="274.24" width="3.2" height="3.2" fill="#008000"/>
<rect x="140.25" y="275.37" width="3.2" height="3.2" fill="#008000"/>
<rect x="140.55" y="276.08" width="3.2" height="3.2" fill="#008000"/>
<rect x="141.74" y="279.03" width="3.2" height="3.2" fill="#008000"/>
<rect x="142.31" y="280.77" width="3.2" height="3.2" fill="#008000"/>
<rect x="142.59" y="286.67" width="3.2" height="3.2" fill="#008000"/>
<rect x="142.87" y="279.73" width="3.2" height="3.2" fill="#008000"/>
<rect x="143.15" y="285.79" width="3.2" height="3.2" fill="#008000"/>
<rect x="143.42" y="285.73" width="3.2" height="3.2" fill="#008000"/>
<rect x="143.69" y="283.52" width="3.2" height="3.2" fill="#008000"/>
<rect x="143.96" y="294.16" width="3.2" height="3.2" fill="#008000"/>
<rect x="144.22" y="292.43" width="3.2" height="3.2" fill="#008000"/>
<rect x="144.48" y="298.34" width="3.2" height="3.2" fill="#008000"/>
<rect x="144.74" y="284.46" width="3.2" height="3.2" fill="#008000"/>
<rect x="145" y="291.01" width="3.2" height="3.2" fill="#008000"/>
<rect x="145.25" y="296.29" width="3.2" height="3.2" fill="#008000"/>
<rect x="145.75" y="297.41" width="3.2" height="3.2" fill="#008000"/>
<rect x="146" y="296.4" width="3.2" height="3.2" fill="#008000"/>
<rect x="146.24" y="297.68" width="3.2" height="3.2" fill="#008000"/>
<rect x="146.49" y="296.46" width="3.2" height="3.2" fill="#008000"/>
<rect x="146.73" y="293.74" width="3.2" height="3.2" fill="#008000"/>
<rect x="146.96" y="298.21" width="3.2" height="3.2" fill="#008000"/>
<rect x="147.2" y="298.81" width="3.2" height="3.2" fill="#008000"/>
<rect x="147.43" y="296.62" width="3.2" height="3.2" fill="#008000"/>
<rect x="147.66" y="304.26" width="3.2" height="3.2" fill="#008000"/>
<rect x="147.89" y="295.86" width="3.2" height="3.2" fill="#008000"/>
<rect x="148.34" y="303.25" width="3.2" height="3.2" fill="#008000"/>
<rect x="148.79" y="303.44" width="3.2" height="3.2" fill="#008000"/>
<rect x="149.01" y="297.55" width="3.2" height="3.2" fill="#008000"/>
<rect x="149.22" y="307.36" width="3.2" height="3.2" fill="#008000"/>
<rect x="149.65" y="310.29" width="3.2" height="3.2" fill="#008000"/>
<rect x="150.07" y="309.37" width="3.2" height="3.2" fill="#008000"/>
<rect x="150.28" y="308.85" width="3.2" height="3.2" fill="#008000"/>
<rect x="150.49" y="307.43" width="3.2" height="3.2" fill="#008000"/>
<rect x="150.69" y="309.94" width="3.2" height="3.2" fill="#008000"/>
<use href="#tri" x="29.1" y="223.74" fill="#ffff00"/>
<use href="#tri" x="46.79" y="211.6" fill="#ffff00"/>
<use href="#tri" x="57.13" y="208.89" fill="#ffff00"/>
<use href="#tri" x="64.47" y="205.77" fill="#ffff00"/>
<use href="#tri" x="70.16" y="206.93" fill="#ffff00"/>
<use href="#tri" x="74.82" y="206.49" fill="#ffff00"/>
<use href="#tri" x="78.75" y="205.83" fill="#ffff00"/>
<use href="#tri" x="82.16" y="207.48" fill="#ffff00"/>
<use href="#tri" x="85.16" y="207.81" fill="#ffff00"/>
<use href="#tri" x="87.85" y="208.29" fill="#ffff00"/>
<use href="#tri" x="90.28" y="208.15" fill="#ffff00"/>
<use href="#tri" x="92.5" y="207.85" fill="#ffff00"/>
<use href="#tri" x="94.54" y="210.75" fill="#ffff00"/>
<use href="#tri" x="96.44" y="212" fill="#ffff00"/>
<use href="#tri" x="98.2" y="211.81" fill="#ffff00"/>
<use href="#tri" x="99.84" y="212.82" fill="#ffff00"/>
<use href="#tri" x="101.39" y="211.86" fill="#ffff00"/>
<use href="#tri" x="102.85" y="213.44" fill="#ffff00"/>
<use href="#tri" x="104.23" y="215.54" fill="#ffff00"/>
<use href="#tri" x="105.54" y="216.39" fill="#ffff00"/>
<use href="#tri" x="106.78" y="215.99" fill="#ffff00"/>
<use href="#tri" x="107.97" y="215.45" fill="#ffff00"/>
<use href="#tri" x="109.1" y="217.69" fill="#ffff00"/>
<use href="#tri" x="110.19" y="217.34" fill="#ffff00"/>
<use href="#tri" x="111.23" y="217.77" fill="#ffff00"/>
<use href="#tri" x="112.23" y="218.92" fill="#ffff00"/>
<use href="#tri" x="113.19" y="218.95" fill="#ffff00"/>
<use href="#tri" x="114.12" y="221.84" fill="#ffff00"/>
<use href="#tri" x="115.02" y="220.77" fill="#ffff00"/>
<use href="#tri" x="115.88" y="221.72" fill="#ffff00"/>
<use href="#tri" x="116.72" y="221.82" fill="#ffff00"/>
<use href="#tri" x="117.53" y="222.84" fill="#ffff00"/>
<use href="#tri" x="118.31" y="222.74" fill="#ffff00"/>
<use href="#tri" x="119.07" y="222.63" fill="#ffff00"/>
<use href="#tri" x="119.81" y="223.63" fill="#ffff00"/>
<use href="#tri" x="120.53" y="225.34" fill="#ffff00"/>
<use href="#tri" x="121.23" y="226" fill="#ffff00"/>
<use href="#tri" x="121.91" y="227.9" fill="#ffff00"/>
<use href="#tri" x="122.58" y="227.9" fill="#ffff00"/>
<use href="#tri" x="123.22" y="229.11" fill="#ffff00"/>
<use href="#tri" x="123.85" y="228.62" fill="#ffff00"/>
<use href="#tri" x="124.47" y="230.35" fill="#ffff00"/>
<use href="#tri" x="125.07" y="233.2" fill="#ffff00"/>
<use href="#tri" x="125.65" y="232.54" fill="#ffff00"/>
<use href="#tri" x="126.23" y="237.45" fill="#ffff00"/>
<use href="#tri" x="126.79" y="240.26" fill="#ffff00"/>
<use href="#tri" x="127.34" y="240.81" fill="#ffff00"/>
<use href="#tri" x="127.87" y="241.55" fill="#ffff00"/>
<use href="#tri" x="128.4" y="244.43" fill="#ffff00"/>
<use href="#tri" x="128.91" y="243.05" fill="#ffff00"/>
<use href="#tri" x="129.42" y="245.42" fill="#ffff00"/>
<use href="#tri" x="130.4" y="246.85" fill="#ffff00"/>
<use href="#tri" x="130.88" y="247.16" fill="#ffff00"/>
<use href="#tri" x="131.35" y="249.24" fill="#ffff00"/>
<use href="#tri" x="131.81" y="249.82" fill="#ffff00"/>
<use href="#tri" x="132.26" y="252.66" fill="#ffff00"/>
<use href="#tri" x="132.7" y="253.04" fill="#ffff00"/>
<use href="#tri" x="133.57" y="254.05" fill="#ffff00"/>
<use href="#tri" x="133.99" y="254.74" fill="#ffff00"/>
<use href="#tri" x="134.4" y="253.71" fill="#ffff00"/>
<use href="#tri" x="135.21" y="257.59" fill="#ffff00"/>
<use href="#tri" x="135.61" y="259.38" fill="#ffff00"/>
<use href="#tri" x="136" y="260.43" fill="#ffff00"/>
<use href="#tri" x="136.38" y="261.85" fill="#ffff00"/>
<use href="#tri" x="137.13" y="264.2" fill="#ffff00"/>
<use href="#tri" x="137.5" y="262.64" fill="#ffff00"/>
<use href="#tri" x="138.22" y="267.09" fill="#ffff00"/>
<use href="#tri" x="138.57" y="269.2" fill="#ffff00"/>
<use href="#tri" x="139.93" y="271.08" fill="#ffff00"/>
<use href="#tri" x="140.26" y="275.59" fill="#ffff00"/>
<use href="#tri" x="140.59" y="277.04" fill="#ffff00"/>
<use href="#tri" x="140.91" y="278.43" fill="#ffff00"/>
<use href="#tri" x="141.54" y="275.39" fill="#ffff00"/>
<use href="#tri" x="141.85" y="275.94" fill="#ffff00"/>
<use href="#tri" x="142.45" y="279.01" fill="#ffff00"/>
<use href="#tri" x="142.75" y="278.83" fill="#ffff00"/>
<use href="#tri" x="143.05" y="285.51" fill="#ffff00"/>
<use href="#tri" x="143.34" y="279.57" fill="#ffff00"/>
<use href="#tri" x="143.63" y="281.21" fill="#ffff00"/>
<use href="#tri" x="143.91" y="283.16" fill="#ffff00"/>
<use href="#tri" x="144.19" y="286.7" fill="#ffff00"/>
<use href="#tri" x="144.47" y="284.52" fill="#ffff00"/>
<use href="#tri" x="144.75" y="286.19" fill="#ffff00"/>
<use href="#tri" x="145.02" y="287.07" fill="#ffff00"/>
<use href="#tri" x="145.29" y="281.09" fill="#ffff00"/>
<use href="#tri" x="145.56" y="295.76" fill="#ffff00"/>
<use href="#tri" x="145.82" y="289.52" fill="#ffff00"/>
<use href="#tri" x="147.11" y="291.03" fill="#ffff00"/>
<use href="#tri" x="147.35" y="297.13" fill="#ffff00"/>
<use href="#tri" x="147.6" y="298.39" fill="#ffff00"/>
<use href="#tri" x="147.84" y="302.66" fill="#ffff00"/>
<use href="#tri" x="148.09" y="297.1" fill="#ffff00"/>
<use href="#tri" x="148.33" y="293.87" fill="#ffff00"/>
<use href="#tri" x="148.8" y="302.54" fill="#ffff00"/>
<use href="#tri" x="149.03" y="299.67" fill="#ffff00"/>
<use href="#tri" x="149.26" y="301.52" fill="#ffff00"/>
<use href="#tri" x="149.49" y="300.14" fill="#ffff00"/>
<use href="#tri" x="149.72" y="299.51" fill="#ffff00"/>
<use href="#tri" x="149.94" y="307.94" fill="#ffff00"/>
<use href="#tri" x="150.39" y="305.89" fill="#ffff00"/>
<use href="#tri" x="150.61" y="303.95" fill="#ffff00"/>
<use href="#tri" x="151.25" y="313.27" fill="#ffff00"/>
<use href="#tri" x="151.46" y="309.55" fill="#ffff00"/>
<use href="#tri" x="152.09" y="307.12" fill="#ffff00"/>
<polyline points="29.1,203.27 46.79,204 57.13,204.74 64.47,205.48 70.16,206.21 74.82,206.95 78.75,207.69 82.16,208.42 85.16,209.16 87.85,209.9 90.28,210.63 92.5,211.37 94.54,212.11 96.44,212.84 98.2,213.58 99.84,214.31 101.39,215.05 102.85,215.79 104.23,216.52 105.54,217.26 106.78,218 107.97,218.73 109.1,219.47 110.19,220.21 111.23,220.94 112.23,221.68 113.19,222.42 114.12,223.15 115.02,223.89 115.88,224.63 116.72,225.36 117.53,226.1 118.31,226.84 119.07,227.57 119.81,228.31 120.53,229.04 121.23,229.78 121.91,230.52 122.58,231.25 123.22,231.99 123.85,232.73 124.47,233.46 125.07,234.2 125.65,234.94 126.23,235.67 126.79,236.41 127.34,237.15 127.87,237.88 128.4,238.62 128.91,239.36 129.42,240.09 129.92,240.83 130.4,241.56 130.88,242.3 131.35,243.04 131.81,243.77 132.26,244.51 132.7,245.25 133.14,245.98 133.57,246.72 133.99,247.46 134.4,248.19 134.81,248.93 135.21,249.67 135.61,250.4 136,251.14 136.38,251.88 136.76,252.61 137.13,253.35 137.5,254.08 137.86,254.82 138.22,255.56 138.57,256.29 138.92,257.03 139.26,257.77 139.6,258.5 139.93,259.24 140.26,259.98 140.59,260.71 140.91,261.45 141.22,262.19 141.54,262.92 141.85,263.66 142.15,264.4 142.45,265.13 142.75,265.87 143.05,266.6 143.34,267.34 143.63,268.08 143.91,268.81 144.19,269.55 144.47,270.29 144.75,271.02 145.02,271.76 145.29,272.5 145.56,273.23 145.82,273.97 146.08,274.71 146.34,275.44 146.6,276.18 146.85,276.92 147.11,277.65 147.35,278.39 147.6,279.12 147.84,279.86 148.09,280.6 148.33,281.33 148.56,282.07 148.8,282.81 149.03,283.54 149.26,284.28 149.49,285.02 149.72,285.75 149.94,286.49 150.17,287.23 150.39,287.96 150.61,288.7 150.82,289.44 151.04,290.17 151.25,290.91 151.46,291.65 151.67,292.38 151.88,293.12 152.09,293.85 152.29,294.59 152.5,295.33 152.7,296.06" fill="none" stroke="#ff1414" stroke-width="1.0" stroke-linejoin="round"/>
</g>
<rect x="25.15" y="298.1" width="58.55" height="24.6" fill="#fff" fill-opacity="0.85" stroke="#d4d4d4" stroke-width="0.6"/>
<line x1="26.6" y1="301.4" x2="35.2" y2="301.4" stroke="#ff2020" stroke-width="0.9"/>
<circle cx="30.8" cy="307.5" r="1.45" fill="#0000ff"/>
<rect x="29.4" y="312" width="2.8" height="2.8" fill="#008000"/>
<path d="M30.8,317.75 L32.25,320.55 L29.35,320.55 Z" fill="#ffff00"/>
<path d="M23.4,186H164.5V325H23.4Z" fill="none" stroke="#8e8e8e" stroke-width="1"/>
<path d="M29.1,325v2.2M46.79,325v1.3M57.13,325v1.3M64.47,325v1.3M70.16,325v1.3M74.82,325v1.3M78.75,325v1.3M82.16,325v1.3M85.16,325v1.3M87.85,325v2.2M105.54,325v1.3M115.88,325v1.3M123.22,325v1.3M128.91,325v1.3M133.57,325v1.3M137.5,325v1.3M140.91,325v1.3M143.91,325v1.3M146.6,325v2.2M164.29,325v1.3M23.4,323.04h-1.3M23.4,319.56h-1.3M23.4,316.87h-1.3M23.4,314.67h-1.3M23.4,312.81h-1.3M23.4,311.19h-1.3M23.4,309.77h-1.3M23.4,308.5h-2.2M23.4,300.13h-1.3M23.4,295.24h-1.3M23.4,291.76h-1.3M23.4,289.07h-1.3M23.4,286.87h-1.3M23.4,285.01h-1.3M23.4,283.39h-1.3M23.4,281.97h-1.3M23.4,280.7h-2.2M23.4,272.33h-1.3M23.4,267.44h-1.3M23.4,263.96h-1.3M23.4,261.27h-1.3M23.4,259.07h-1.3M23.4,257.21h-1.3M23.4,255.59h-1.3M23.4,254.17h-1.3M23.4,252.9h-2.2M23.4,244.53h-1.3M23.4,239.64h-1.3M23.4,236.16h-1.3M23.4,233.47h-1.3M23.4,231.27h-1.3M23.4,229.41h-1.3M23.4,227.79h-1.3M23.4,226.37h-1.3M23.4,225.1h-2.2M23.4,216.73h-1.3M23.4,211.84h-1.3M23.4,208.36h-1.3M23.4,205.67h-1.3M23.4,203.47h-1.3M23.4,201.61h-1.3M23.4,199.99h-1.3M23.4,198.57h-1.3M23.4,197.3h-2.2M23.4,188.93h-1.3" stroke="#707070" stroke-width="0.55" fill="none"/>
<clipPath id="cf"><rect x="196.2" y="186" width="141.4" height="139"/></clipPath>
<g clip-path="url(#cf)">
<circle cx="201.4" cy="213.88" r="1.6" fill="#0000ff"/>
<circle cx="219.16" cy="206.92" r="1.6" fill="#0000ff"/>
<circle cx="229.55" cy="204.79" r="1.6" fill="#0000ff"/>
<circle cx="236.92" cy="204.56" r="1.6" fill="#0000ff"/>
<circle cx="242.64" cy="204.65" r="1.6" fill="#0000ff"/>
<circle cx="247.31" cy="204.62" r="1.6" fill="#0000ff"/>
<circle cx="251.26" cy="205.64" r="1.6" fill="#0000ff"/>
<circle cx="254.68" cy="206.17" r="1.6" fill="#0000ff"/>
<circle cx="257.7" cy="207.11" r="1.6" fill="#0000ff"/>
<circle cx="260.4" cy="207.01" r="1.6" fill="#0000ff"/>
<circle cx="262.84" cy="206.81" r="1.6" fill="#0000ff"/>
<circle cx="265.07" cy="207.72" r="1.6" fill="#0000ff"/>
<circle cx="267.12" cy="208.98" r="1.6" fill="#0000ff"/>
<circle cx="269.02" cy="209.57" r="1.6" fill="#0000ff"/>
<circle cx="270.79" cy="210.95" r="1.6" fill="#0000ff"/>
<circle cx="272.44" cy="211.71" r="1.6" fill="#0000ff"/>
<circle cx="274" cy="213.08" r="1.6" fill="#0000ff"/>
<circle cx="275.46" cy="213.62" r="1.6" fill="#0000ff"/>
<circle cx="276.85" cy="214.97" r="1.6" fill="#0000ff"/>
<circle cx="278.16" cy="216.67" r="1.6" fill="#0000ff"/>
<circle cx="279.41" cy="217.44" r="1.6" fill="#0000ff"/>
<circle cx="280.6" cy="217.91" r="1.6" fill="#0000ff"/>
<circle cx="281.74" cy="218.91" r="1.6" fill="#0000ff"/>
<circle cx="282.83" cy="221.25" r="1.6" fill="#0000ff"/>
<circle cx="283.88" cy="221.21" r="1.6" fill="#0000ff"/>
<circle cx="284.88" cy="221.83" r="1.6" fill="#0000ff"/>
<circle cx="285.85" cy="223.18" r="1.6" fill="#0000ff"/>
<circle cx="286.78" cy="224.2" r="1.6" fill="#0000ff"/>
<circle cx="287.68" cy="225.3" r="1.6" fill="#0000ff"/>
<circle cx="288.55" cy="225.94" r="1.6" fill="#0000ff"/>
<circle cx="289.39" cy="227.73" r="1.6" fill="#0000ff"/>
<circle cx="290.2" cy="228.83" r="1.6" fill="#0000ff"/>
<circle cx="290.99" cy="230.18" r="1.6" fill="#0000ff"/>
<circle cx="291.76" cy="230.65" r="1.6" fill="#0000ff"/>
<circle cx="292.5" cy="231.81" r="1.6" fill="#0000ff"/>
<circle cx="293.22" cy="233.29" r="1.6" fill="#0000ff"/>
<circle cx="293.92" cy="235.07" r="1.6" fill="#0000ff"/>
<circle cx="294.61" cy="235.51" r="1.6" fill="#0000ff"/>
<circle cx="295.27" cy="236.84" r="1.6" fill="#0000ff"/>
<circle cx="295.92" cy="237.66" r="1.6" fill="#0000ff"/>
<circle cx="296.55" cy="238.29" r="1.6" fill="#0000ff"/>
<circle cx="297.17" cy="239.99" r="1.6" fill="#0000ff"/>
<circle cx="297.77" cy="241.23" r="1.6" fill="#0000ff"/>
<circle cx="298.36" cy="242.26" r="1.6" fill="#0000ff"/>
<circle cx="298.94" cy="242.56" r="1.6" fill="#0000ff"/>
<circle cx="299.5" cy="244.19" r="1.6" fill="#0000ff"/>
<circle cx="300.05" cy="245.65" r="1.6" fill="#0000ff"/>
<circle cx="300.59" cy="245.95" r="1.6" fill="#0000ff"/>
<circle cx="301.12" cy="247.3" r="1.6" fill="#0000ff"/>
<circle cx="301.64" cy="248.04" r="1.6" fill="#0000ff"/>
<circle cx="302.15" cy="249.9" r="1.6" fill="#0000ff"/>
<circle cx="302.64" cy="250.68" r="1.6" fill="#0000ff"/>
<circle cx="303.13" cy="251.25" r="1.6" fill="#0000ff"/>
<circle cx="303.61" cy="251.68" r="1.6" fill="#0000ff"/>
<circle cx="304.08" cy="252.9" r="1.6" fill="#0000ff"/>
<circle cx="304.54" cy="254.55" r="1.6" fill="#0000ff"/>
<circle cx="305" cy="255.23" r="1.6" fill="#0000ff"/>
<circle cx="305.44" cy="256.77" r="1.6" fill="#0000ff"/>
<circle cx="305.88" cy="256.98" r="1.6" fill="#0000ff"/>
<circle cx="306.31" cy="258.85" r="1.6" fill="#0000ff"/>
<circle cx="306.73" cy="259.48" r="1.6" fill="#0000ff"/>
<circle cx="307.15" cy="261.35" r="1.6" fill="#0000ff"/>
<circle cx="307.56" cy="261.67" r="1.6" fill="#0000ff"/>
<circle cx="307.96" cy="261.8" r="1.6" fill="#0000ff"/>
<circle cx="308.36" cy="263.74" r="1.6" fill="#0000ff"/>
<circle cx="308.75" cy="264.51" r="1.6" fill="#0000ff"/>
<circle cx="309.14" cy="266.09" r="1.6" fill="#0000ff"/>
<circle cx="309.52" cy="265.87" r="1.6" fill="#0000ff"/>
<circle cx="309.89" cy="267.39" r="1.6" fill="#0000ff"/>
<circle cx="310.26" cy="266.79" r="1.6" fill="#0000ff"/>
<circle cx="311.34" cy="270.56" r="1.6" fill="#0000ff"/>
<circle cx="311.68" cy="270.63" r="1.6" fill="#0000ff"/>
<circle cx="312.03" cy="277.02" r="1.6" fill="#0000ff"/>
<circle cx="312.37" cy="277.06" r="1.6" fill="#0000ff"/>
<circle cx="312.7" cy="274.42" r="1.6" fill="#0000ff"/>
<circle cx="313.36" cy="279.24" r="1.6" fill="#0000ff"/>
<circle cx="313.68" cy="273.29" r="1.6" fill="#0000ff"/>
<circle cx="314" cy="283.07" r="1.6" fill="#0000ff"/>
<circle cx="314.32" cy="281.74" r="1.6" fill="#0000ff"/>
<circle cx="314.63" cy="287.41" r="1.6" fill="#0000ff"/>
<circle cx="314.93" cy="287.67" r="1.6" fill="#0000ff"/>
<circle cx="315.24" cy="283.75" r="1.6" fill="#0000ff"/>
<circle cx="315.54" cy="288.94" r="1.6" fill="#0000ff"/>
<circle cx="315.83" cy="292.52" r="1.6" fill="#0000ff"/>
<circle cx="316.12" cy="288.06" r="1.6" fill="#0000ff"/>
<circle cx="316.41" cy="284.36" r="1.6" fill="#0000ff"/>
<circle cx="316.7" cy="296.51" r="1.6" fill="#0000ff"/>
<circle cx="316.98" cy="300.01" r="1.6" fill="#0000ff"/>
<circle cx="317.26" cy="291.48" r="1.6" fill="#0000ff"/>
<circle cx="317.54" cy="288.25" r="1.6" fill="#0000ff"/>
<circle cx="317.81" cy="294.76" r="1.6" fill="#0000ff"/>
<circle cx="318.09" cy="292.37" r="1.6" fill="#0000ff"/>
<circle cx="318.62" cy="293.67" r="1.6" fill="#0000ff"/>
<circle cx="318.88" cy="298.34" r="1.6" fill="#0000ff"/>
<circle cx="319.14" cy="308.9" r="1.6" fill="#0000ff"/>
<circle cx="319.4" cy="302.12" r="1.6" fill="#0000ff"/>
<circle cx="319.65" cy="305.52" r="1.6" fill="#0000ff"/>
<circle cx="319.91" cy="290.29" r="1.6" fill="#0000ff"/>
<circle cx="320.16" cy="301.83" r="1.6" fill="#0000ff"/>
<circle cx="320.4" cy="304.03" r="1.6" fill="#0000ff"/>
<circle cx="320.65" cy="315.49" r="1.6" fill="#0000ff"/>
<circle cx="329.27" cy="308.36" r="1.6" fill="#0000ff"/>
<circle cx="322.3" cy="316.7" r="1.6" fill="#0000ff"/>
<rect x="199.8" y="212.95" width="3.2" height="3.2" fill="#008000"/>
<rect x="217.56" y="205.12" width="3.2" height="3.2" fill="#008000"/>
<rect x="227.95" y="203.47" width="3.2" height="3.2" fill="#008000"/>
<rect x="235.32" y="202.58" width="3.2" height="3.2" fill="#008000"/>
<rect x="241.04" y="202.29" width="3.2" height="3.2" fill="#008000"/>
<rect x="245.71" y="203.51" width="3.2" height="3.2" fill="#008000"/>
<rect x="249.66" y="203.93" width="3.2" height="3.2" fill="#008000"/>
<rect x="253.08" y="203.96" width="3.2" height="3.2" fill="#008000"/>
<rect x="256.1" y="204.73" width="3.2" height="3.2" fill="#008000"/>
<rect x="258.8" y="205.06" width="3.2" height="3.2" fill="#008000"/>
<rect x="261.24" y="204.5" width="3.2" height="3.2" fill="#008000"/>
<rect x="263.47" y="206.35" width="3.2" height="3.2" fill="#008000"/>
<rect x="265.52" y="206.69" width="3.2" height="3.2" fill="#008000"/>
<rect x="267.42" y="208.11" width="3.2" height="3.2" fill="#008000"/>
<rect x="269.19" y="208.89" width="3.2" height="3.2" fill="#008000"/>
<rect x="270.84" y="210.07" width="3.2" height="3.2" fill="#008000"/>
<rect x="272.4" y="212.06" width="3.2" height="3.2" fill="#008000"/>
<rect x="273.86" y="211.81" width="3.2" height="3.2" fill="#008000"/>
<rect x="275.25" y="213.14" width="3.2" height="3.2" fill="#008000"/>
<rect x="276.56" y="214.22" width="3.2" height="3.2" fill="#008000"/>
<rect x="277.81" y="214.77" width="3.2" height="3.2" fill="#008000"/>
<rect x="279" y="215.16" width="3.2" height="3.2" fill="#008000"/>
<rect x="280.14" y="217.11" width="3.2" height="3.2" fill="#008000"/>
<rect x="281.23" y="219.13" width="3.2" height="3.2" fill="#008000"/>
<rect x="282.28" y="219.54" width="3.2" height="3.2" fill="#008000"/>
<rect x="283.28" y="220.19" width="3.2" height="3.2" fill="#008000"/>
<rect x="284.25" y="221.19" width="3.2" height="3.2" fill="#008000"/>
<rect x="285.18" y="222.89" width="3.2" height="3.2" fill="#008000"/>
<rect x="286.08" y="223.48" width="3.2" height="3.2" fill="#008000"/>
<rect x="286.95" y="223.91" width="3.2" height="3.2" fill="#008000"/>
<rect x="287.79" y="225.25" width="3.2" height="3.2" fill="#008000"/>
<rect x="288.6" y="226.79" width="3.2" height="3.2" fill="#008000"/>
<rect x="289.39" y="227.78" width="3.2" height="3.2" fill="#008000"/>
<rect x="290.16" y="228.72" width="3.2" height="3.2" fill="#008000"/>
<rect x="290.9" y="229.76" width="3.2" height="3.2" fill="#008000"/>
<rect x="291.62" y="231.72" width="3.2" height="3.2" fill="#008000"/>
<rect x="292.32" y="232.46" width="3.2" height="3.2" fill="#008000"/>
<rect x="293.01" y="232.98" width="3.2" height="3.2" fill="#008000"/>
<rect x="293.67" y="235.14" width="3.2" height="3.2" fill="#008000"/>
<rect x="294.32" y="235.9" width="3.2" height="3.2" fill="#008000"/>
<rect x="294.95" y="236.99" width="3.2" height="3.2" fill="#008000"/>
<rect x="295.57" y="237.09" width="3.2" height="3.2" fill="#008000"/>
<rect x="296.17" y="239.91" width="3.2" height="3.2" fill="#008000"/>
<rect x="296.76" y="239.62" width="3.2" height="3.2" fill="#008000"/>
<rect x="297.34" y="241.46" width="3.2" height="3.2" fill="#008000"/>
<rect x="297.9" y="241.78" width="3.2" height="3.2" fill="#008000"/>
<rect x="298.45" y="243.94" width="3.2" height="3.2" fill="#008000"/>
<rect x="298.99" y="244.15" width="3.2" height="3.2" fill="#008000"/>
<rect x="299.52" y="245.31" width="3.2" height="3.2" fill="#008000"/>
<rect x="300.04" y="246.67" width="3.2" height="3.2" fill="#008000"/>
<rect x="300.55" y="247.72" width="3.2" height="3.2" fill="#008000"/>
<rect x="301.04" y="248.6" width="3.2" height="3.2" fill="#008000"/>
<rect x="301.53" y="249.71" width="3.2" height="3.2" fill="#008000"/>
<rect x="302.01" y="250.42" width="3.2" height="3.2" fill="#008000"/>
<rect x="302.48" y="251" width="3.2" height="3.2" fill="#008000"/>
<rect x="302.94" y="251.74" width="3.2" height="3.2" fill="#008000"/>
<rect x="303.4" y="252.8" width="3.2" height="3.2" fill="#008000"/>
<rect x="303.84" y="254.4" width="3.2" height="3.2" fill="#008000"/>
<rect x="304.28" y="255.43" width="3.2" height="3.2" fill="#008000"/>
<rect x="304.71" y="256.63" width="3.2" height="3.2" fill="#008000"/>
<rect x="305.13" y="257.26" width="3.2" height="3.2" fill="#008000"/>
<rect x="305.55" y="259.08" width="3.2" height="3.2" fill="#008000"/>
<rect x="305.96" y="260.14" width="3.2" height="3.2" fill="#008000"/>
<rect x="306.36" y="260.24" width="3.2" height="3.2" fill="#008000"/>
<rect x="306.76" y="261.38" width="3.2" height="3.2" fill="#008000"/>
<rect x="307.15" y="262.83" width="3.2" height="3.2" fill="#008000"/>
<rect x="307.54" y="263.52" width="3.2" height="3.2" fill="#008000"/>
<rect x="307.92" y="264.34" width="3.2" height="3.2" fill="#008000"/>
<rect x="308.29" y="264.97" width="3.2" height="3.2" fill="#008000"/>
<rect x="308.66" y="267.15" width="3.2" height="3.2" fill="#008000"/>
<rect x="309.02" y="267.93" width="3.2" height="3.2" fill="#008000"/>
<rect x="309.38" y="267" width="3.2" height="3.2" fill="#008000"/>
<rect x="309.74" y="268.99" width="3.2" height="3.2" fill="#008000"/>
<rect x="310.08" y="268.49" width="3.2" height="3.2" fill="#008000"/>
<rect x="311.1" y="273.56" width="3.2" height="3.2" fill="#008000"/>
<rect x="311.76" y="275.67" width="3.2" height="3.2" fill="#008000"/>
<rect x="312.4" y="281.37" width="3.2" height="3.2" fill="#008000"/>
<rect x="312.72" y="278.65" width="3.2" height="3.2" fill="#008000"/>
<rect x="313.03" y="286.99" width="3.2" height="3.2" fill="#008000"/>
<rect x="313.33" y="283.72" width="3.2" height="3.2" fill="#008000"/>
<rect x="313.64" y="281.12" width="3.2" height="3.2" fill="#008000"/>
<rect x="313.94" y="288.14" width="3.2" height="3.2" fill="#008000"/>
<rect x="314.52" y="278.25" width="3.2" height="3.2" fill="#008000"/>
<rect x="314.81" y="278.58" width="3.2" height="3.2" fill="#008000"/>
<rect x="315.1" y="298.85" width="3.2" height="3.2" fill="#008000"/>
<rect x="315.94" y="291.15" width="3.2" height="3.2" fill="#008000"/>
<rect x="316.21" y="296.24" width="3.2" height="3.2" fill="#008000"/>
<rect x="316.49" y="295.87" width="3.2" height="3.2" fill="#008000"/>
<rect x="316.75" y="298.97" width="3.2" height="3.2" fill="#008000"/>
<rect x="317.02" y="293.41" width="3.2" height="3.2" fill="#008000"/>
<rect x="317.28" y="288.17" width="3.2" height="3.2" fill="#008000"/>
<rect x="318.05" y="298.88" width="3.2" height="3.2" fill="#008000"/>
<rect x="318.31" y="288.82" width="3.2" height="3.2" fill="#008000"/>
<rect x="318.56" y="299.54" width="3.2" height="3.2" fill="#008000"/>
<rect x="318.8" y="304.58" width="3.2" height="3.2" fill="#008000"/>
<rect x="319.05" y="307.76" width="3.2" height="3.2" fill="#008000"/>
<rect x="327.67" y="307.32" width="3.2" height="3.2" fill="#008000"/>
<rect x="320.7" y="315.66" width="3.2" height="3.2" fill="#008000"/>
<use href="#tri" x="201.4" y="214.33" fill="#ffff00"/>
<use href="#tri" x="219.16" y="205.53" fill="#ffff00"/>
<use href="#tri" x="229.55" y="203.52" fill="#ffff00"/>
<use href="#tri" x="236.92" y="204.21" fill="#ffff00"/>
<use href="#tri" x="242.64" y="204.44" fill="#ffff00"/>
<use href="#tri" x="247.31" y="204.93" fill="#ffff00"/>
<use href="#tri" x="251.26" y="204.66" fill="#ffff00"/>
<use href="#tri" x="254.68" y="204.58" fill="#ffff00"/>
<use href="#tri" x="257.7" y="205.9" fill="#ffff00"/>
<use href="#tri" x="260.4" y="208.51" fill="#ffff00"/>
<use href="#tri" x="262.84" y="207.08" fill="#ffff00"/>
<use href="#tri" x="265.07" y="209.19" fill="#ffff00"/>
<use href="#tri" x="267.12" y="210.17" fill="#ffff00"/>
<use href="#tri" x="269.02" y="210.26" fill="#ffff00"/>
<use href="#tri" x="270.79" y="212" fill="#ffff00"/>
<use href="#tri" x="272.44" y="211.75" fill="#ffff00"/>
<use href="#tri" x="274" y="213.49" fill="#ffff00"/>
<use href="#tri" x="275.46" y="212.51" fill="#ffff00"/>
<use href="#tri" x="276.85" y="215.97" fill="#ffff00"/>
<use href="#tri" x="278.16" y="217.1" fill="#ffff00"/>
<use href="#tri" x="279.41" y="217.17" fill="#ffff00"/>
<use href="#tri" x="280.6" y="216.95" fill="#ffff00"/>
<use href="#tri" x="281.74" y="220.5" fill="#ffff00"/>
<use href="#tri" x="282.83" y="220.33" fill="#ffff00"/>
<use href="#tri" x="283.88" y="220.61" fill="#ffff00"/>
<use href="#tri" x="284.88" y="221.56" fill="#ffff00"/>
<use href="#tri" x="285.85" y="224.94" fill="#ffff00"/>
<use href="#tri" x="286.78" y="224.81" fill="#ffff00"/>
<use href="#tri" x="287.68" y="226.15" fill="#ffff00"/>
<use href="#tri" x="288.55" y="226.88" fill="#ffff00"/>
<use href="#tri" x="289.39" y="227.44" fill="#ffff00"/>
<use href="#tri" x="290.2" y="228.46" fill="#ffff00"/>
<use href="#tri" x="290.99" y="230" fill="#ffff00"/>
<use href="#tri" x="291.76" y="231.37" fill="#ffff00"/>
<use href="#tri" x="292.5" y="232.12" fill="#ffff00"/>
<use href="#tri" x="293.22" y="234.6" fill="#ffff00"/>
<use href="#tri" x="293.92" y="235.11" fill="#ffff00"/>
<use href="#tri" x="294.61" y="237.37" fill="#ffff00"/>
<use href="#tri" x="295.27" y="237.68" fill="#ffff00"/>
<use href="#tri" x="295.92" y="238.3" fill="#ffff00"/>
<use href="#tri" x="296.55" y="239.18" fill="#ffff00"/>
<use href="#tri" x="297.17" y="239.99" fill="#ffff00"/>
<use href="#tri" x="297.77" y="241.54" fill="#ffff00"/>
<use href="#tri" x="298.36" y="241.65" fill="#ffff00"/>
<use href="#tri" x="298.94" y="243.13" fill="#ffff00"/>
<use href="#tri" x="299.5" y="243.94" fill="#ffff00"/>
<use href="#tri" x="300.05" y="247.26" fill="#ffff00"/>
<use href="#tri" x="300.59" y="245.99" fill="#ffff00"/>
<use href="#tri" x="301.12" y="246.75" fill="#ffff00"/>
<use href="#tri" x="301.64" y="249.15" fill="#ffff00"/>
<use href="#tri" x="302.15" y="250.09" fill="#ffff00"/>
<use href="#tri" x="302.64" y="251.52" fill="#ffff00"/>
<use href="#tri" x="303.13" y="252.08" fill="#ffff00"/>
<use href="#tri" x="303.61" y="253.15" fill="#ffff00"/>
<use href="#tri" x="304.08" y="252.67" fill="#ffff00"/>
<use href="#tri" x="304.54" y="254.75" fill="#ffff00"/>
<use href="#tri" x="305" y="255.6" fill="#ffff00"/>
<use href="#tri" x="305.44" y="257.51" fill="#ffff00"/>
<use href="#tri" x="305.88" y="257.16" fill="#ffff00"/>
<use href="#tri" x="306.31" y="259.41" fill="#ffff00"/>
<use href="#tri" x="306.73" y="259.57" fill="#ffff00"/>
<use href="#tri" x="307.15" y="261.61" fill="#ffff00"/>
<use href="#tri" x="307.56" y="261.48" fill="#ffff00"/>
<use href="#tri" x="307.96" y="261.52" fill="#ffff00"/>
<use href="#tri" x="308.36" y="263.98" fill="#ffff00"/>
<use href="#tri" x="308.75" y="264.19" fill="#ffff00"/>
<use href="#tri" x="309.14" y="265.99" fill="#ffff00"/>
<use href="#tri" x="309.52" y="266.09" fill="#ffff00"/>
<use href="#tri" x="309.89" y="267.2" fill="#ffff00"/>
<use href="#tri" x="310.26" y="266.79" fill="#ffff00"/>
<use href="#tri" x="310.62" y="269.16" fill="#ffff00"/>
<use href="#tri" x="310.98" y="270.92" fill="#ffff00"/>
<use href="#tri" x="311.68" y="269.18" fill="#ffff00"/>
<use href="#tri" x="312.03" y="276.81" fill="#ffff00"/>
<use href="#tri" x="312.37" y="277.97" fill="#ffff00"/>
<use href="#tri" x="312.7" y="277.65" fill="#ffff00"/>
<use href="#tri" x="313.03" y="276.05" fill="#ffff00"/>
<use href="#tri" x="313.36" y="276.8" fill="#ffff00"/>
<use href="#tri" x="314" y="280.89" fill="#ffff00"/>
<use href="#tri" x="314.32" y="277.25" fill="#ffff00"/>
<use href="#tri" x="314.93" y="287.84" fill="#ffff00"/>
<use href="#tri" x="315.24" y="283.22" fill="#ffff00"/>
<use href="#tri" x="315.83" y="293.95" fill="#ffff00"/>
<use href="#tri" x="316.12" y="287.45" fill="#ffff00"/>
<use href="#tri" x="316.41" y="281.68" fill="#ffff00"/>
<use href="#tri" x="316.7" y="302.03" fill="#ffff00"/>
<use href="#tri" x="316.98" y="298.17" fill="#ffff00"/>
<use href="#tri" x="317.26" y="296.78" fill="#ffff00"/>
<use href="#tri" x="317.81" y="299.98" fill="#ffff00"/>
<use href="#tri" x="318.09" y="291.08" fill="#ffff00"/>
<use href="#tri" x="318.35" y="302.8" fill="#ffff00"/>
<use href="#tri" x="318.62" y="294.85" fill="#ffff00"/>
<use href="#tri" x="318.88" y="296.74" fill="#ffff00"/>
<use href="#tri" x="319.14" y="311.46" fill="#ffff00"/>
<use href="#tri" x="319.4" y="299.65" fill="#ffff00"/>
<use href="#tri" x="319.65" y="312.54" fill="#ffff00"/>
<use href="#tri" x="319.91" y="289.02" fill="#ffff00"/>
<use href="#tri" x="320.4" y="314.68" fill="#ffff00"/>
<use href="#tri" x="329.27" y="309.19" fill="#ffff00"/>
<use href="#tri" x="322.3" y="317.54" fill="#ffff00"/>
<polyline points="201.4,200.77 219.16,201.68 229.55,202.58 236.92,203.49 242.64,204.4 247.31,205.3 251.26,206.21 254.68,207.11 257.7,208.02 260.4,208.92 262.84,209.83 265.07,210.73 267.12,211.64 269.02,212.54 270.79,213.45 272.44,214.36 274,215.26 275.46,216.17 276.85,217.07 278.16,217.98 279.41,218.88 280.6,219.79 281.74,220.69 282.83,221.6 283.88,222.51 284.88,223.41 285.85,224.32 286.78,225.22 287.68,226.13 288.55,227.03 289.39,227.94 290.2,228.84 290.99,229.75 291.76,230.65 292.5,231.56 293.22,232.47 293.92,233.37 294.61,234.28 295.27,235.18 295.92,236.09 296.55,236.99 297.17,237.9 297.77,238.8 298.36,239.71 298.94,240.62 299.5,241.52 300.05,242.43 300.59,243.33 301.12,244.24 301.64,245.14 302.15,246.05 302.64,246.95 303.13,247.86 303.61,248.77 304.08,249.67 304.54,250.58 305,251.48 305.44,252.39 305.88,253.29 306.31,254.2 306.73,255.1 307.15,256.01 307.56,256.91 307.96,257.82 308.36,258.73 308.75,259.63 309.14,260.54 309.52,261.44 309.89,262.35 310.26,263.25 310.62,264.16 310.98,265.06 311.34,265.97 311.68,266.88 312.03,267.78 312.37,268.69 312.7,269.59 313.03,270.5 313.36,271.4 313.68,272.31 314,273.21 314.32,274.12 314.63,275.02 314.93,275.93 315.24,276.84 315.54,277.74 315.83,278.65 316.12,279.55 316.41,280.46 316.7,281.36 316.98,282.27 317.26,283.17 317.54,284.08 317.81,284.99 318.09,285.89 318.35,286.8 318.62,287.7 318.88,288.61 319.14,289.51 319.4,290.42 319.65,291.32 319.91,292.23 320.16,293.13 320.4,294.04 320.65,294.95 320.89,295.85 321.13,296.76 321.37,297.66 321.61,298.57 321.84,299.47 322.07,300.38 322.3,301.28 322.53,302.19 322.76,303.1 322.98,304 323.2,304.91 323.42,305.81 323.64,306.72 323.86,307.62 324.07,308.53 324.28,309.43 324.5,310.34 324.7,311.24 324.91,312.15 325.12,313.06 325.32,313.96 325.52,314.87 325.73,315.77 325.92,316.68 326.12,317.58 326.32,318.49 326.51,319.39 326.71,320.3 326.9,321.21 327.09,322.11 327.28,323.02 327.47,323.92 327.65,324.83 327.84,325.73 328.02,326.64" fill="none" stroke="#ff1414" stroke-width="1.0" stroke-linejoin="round"/>
</g>
<rect x="197.95" y="298.1" width="58.55" height="24.6" fill="#fff" fill-opacity="0.85" stroke="#d4d4d4" stroke-width="0.6"/>
<line x1="199.4" y1="301.4" x2="208" y2="301.4" stroke="#ff2020" stroke-width="0.9"/>
<circle cx="203.6" cy="307.5" r="1.45" fill="#0000ff"/>
<rect x="202.2" y="312" width="2.8" height="2.8" fill="#008000"/>
<path d="M203.6,317.75 L205.05,320.55 L202.15,320.55 Z" fill="#ffff00"/>
<path d="M196.2,186H337.6V325H196.2Z" fill="none" stroke="#8e8e8e" stroke-width="1"/>
<path d="M201.4,325v2.2M219.16,325v1.3M229.55,325v1.3M236.92,325v1.3M242.64,325v1.3M247.31,325v1.3M251.26,325v1.3M254.68,325v1.3M257.7,325v1.3M260.4,325v2.2M278.16,325v1.3M288.55,325v1.3M295.92,325v1.3M301.64,325v1.3M306.31,325v1.3M310.26,325v1.3M313.68,325v1.3M316.7,325v1.3M319.4,325v2.2M337.16,325v1.3M196.2,323.04h-1.3M196.2,319.56h-1.3M196.2,316.87h-1.3M196.2,314.67h-1.3M196.2,312.81h-1.3M196.2,311.19h-1.3M196.2,309.77h-1.3M196.2,308.5h-2.2M196.2,300.13h-1.3M196.2,295.24h-1.3M196.2,291.76h-1.3M196.2,289.07h-1.3M196.2,286.87h-1.3M196.2,285.01h-1.3M196.2,283.39h-1.3M196.2,281.97h-1.3M196.2,280.7h-2.2M196.2,272.33h-1.3M196.2,267.44h-1.3M196.2,263.96h-1.3M196.2,261.27h-1.3M196.2,259.07h-1.3M196.2,257.21h-1.3M196.2,255.59h-1.3M196.2,254.17h-1.3M196.2,252.9h-2.2M196.2,244.53h-1.3M196.2,239.64h-1.3M196.2,236.16h-1.3M196.2,233.47h-1.3M196.2,231.27h-1.3M196.2,229.41h-1.3M196.2,227.79h-1.3M196.2,226.37h-1.3M196.2,225.1h-2.2M196.2,216.73h-1.3M196.2,211.84h-1.3M196.2,208.36h-1.3M196.2,205.67h-1.3M196.2,203.47h-1.3M196.2,201.61h-1.3M196.2,199.99h-1.3M196.2,198.57h-1.3M196.2,197.3h-2.2M196.2,188.93h-1.3" stroke="#707070" stroke-width="0.55" fill="none"/>
<clipPath id="cg"><rect x="367.4" y="186" width="141.3" height="139"/></clipPath>
<g clip-path="url(#cg)">
<circle cx="373.3" cy="209.89" r="1.6" fill="#0000ff"/>
<circle cx="391.08" cy="201.88" r="1.6" fill="#0000ff"/>
<circle cx="401.47" cy="200.76" r="1.6" fill="#0000ff"/>
<circle cx="408.85" cy="201.62" r="1.6" fill="#0000ff"/>
<circle cx="414.57" cy="203.05" r="1.6" fill="#0000ff"/>
<circle cx="419.25" cy="203.2" r="1.6" fill="#0000ff"/>
<circle cx="423.2" cy="204.2" r="1.6" fill="#0000ff"/>
<circle cx="426.63" cy="203.66" r="1.6" fill="#0000ff"/>
<circle cx="429.65" cy="205.01" r="1.6" fill="#0000ff"/>
<circle cx="432.35" cy="204.75" r="1.6" fill="#0000ff"/>
<circle cx="434.79" cy="206.04" r="1.6" fill="#0000ff"/>
<circle cx="437.03" cy="206.85" r="1.6" fill="#0000ff"/>
<circle cx="439.08" cy="208.02" r="1.6" fill="#0000ff"/>
<circle cx="440.98" cy="209.3" r="1.6" fill="#0000ff"/>
<circle cx="442.75" cy="209.73" r="1.6" fill="#0000ff"/>
<circle cx="444.4" cy="210.91" r="1.6" fill="#0000ff"/>
<circle cx="445.96" cy="211.67" r="1.6" fill="#0000ff"/>
<circle cx="447.42" cy="213.11" r="1.6" fill="#0000ff"/>
<circle cx="448.81" cy="214.39" r="1.6" fill="#0000ff"/>
<circle cx="450.13" cy="214.72" r="1.6" fill="#0000ff"/>
<circle cx="451.38" cy="216.25" r="1.6" fill="#0000ff"/>
<circle cx="452.57" cy="217.26" r="1.6" fill="#0000ff"/>
<circle cx="453.71" cy="218.47" r="1.6" fill="#0000ff"/>
<circle cx="454.8" cy="219.55" r="1.6" fill="#0000ff"/>
<circle cx="455.85" cy="220.67" r="1.6" fill="#0000ff"/>
<circle cx="456.85" cy="222.08" r="1.6" fill="#0000ff"/>
<circle cx="457.82" cy="224.11" r="1.6" fill="#0000ff"/>
<circle cx="458.75" cy="226.79" r="1.6" fill="#0000ff"/>
<circle cx="459.65" cy="227.63" r="1.6" fill="#0000ff"/>
<circle cx="460.52" cy="231.29" r="1.6" fill="#0000ff"/>
<circle cx="461.36" cy="233.38" r="1.6" fill="#0000ff"/>
<circle cx="462.18" cy="235.39" r="1.6" fill="#0000ff"/>
<circle cx="462.97" cy="238.54" r="1.6" fill="#0000ff"/>
<circle cx="463.73" cy="240.41" r="1.6" fill="#0000ff"/>
<circle cx="464.48" cy="243.21" r="1.6" fill="#0000ff"/>
<circle cx="465.2" cy="245.97" r="1.6" fill="#0000ff"/>
<circle cx="465.9" cy="248.16" r="1.6" fill="#0000ff"/>
<circle cx="466.59" cy="250.11" r="1.6" fill="#0000ff"/>
<circle cx="467.25" cy="251.17" r="1.6" fill="#0000ff"/>
<circle cx="467.9" cy="254.6" r="1.6" fill="#0000ff"/>
<circle cx="468.53" cy="255.98" r="1.6" fill="#0000ff"/>
<circle cx="469.15" cy="257.01" r="1.6" fill="#0000ff"/>
<circle cx="469.76" cy="259.1" r="1.6" fill="#0000ff"/>
<circle cx="470.35" cy="261.44" r="1.6" fill="#0000ff"/>
<circle cx="470.92" cy="262.59" r="1.6" fill="#0000ff"/>
<circle cx="471.49" cy="264.31" r="1.6" fill="#0000ff"/>
<circle cx="472.04" cy="265.4" r="1.6" fill="#0000ff"/>
<circle cx="472.58" cy="267.43" r="1.6" fill="#0000ff"/>
<circle cx="473.11" cy="269.3" r="1.6" fill="#0000ff"/>
<circle cx="473.62" cy="269.83" r="1.6" fill="#0000ff"/>
<circle cx="474.13" cy="272.74" r="1.6" fill="#0000ff"/>
<circle cx="474.63" cy="273.63" r="1.6" fill="#0000ff"/>
<circle cx="475.12" cy="277.53" r="1.6" fill="#0000ff"/>
<circle cx="475.6" cy="275.29" r="1.6" fill="#0000ff"/>
<circle cx="476.07" cy="278.42" r="1.6" fill="#0000ff"/>
<circle cx="476.53" cy="279.9" r="1.6" fill="#0000ff"/>
<circle cx="476.98" cy="276.32" r="1.6" fill="#0000ff"/>
<circle cx="477.43" cy="277.93" r="1.6" fill="#0000ff"/>
<circle cx="477.87" cy="287.72" r="1.6" fill="#0000ff"/>
<circle cx="478.3" cy="283.41" r="1.6" fill="#0000ff"/>
<circle cx="478.72" cy="286.36" r="1.6" fill="#0000ff"/>
<circle cx="479.14" cy="285.3" r="1.6" fill="#0000ff"/>
<circle cx="479.55" cy="289.05" r="1.6" fill="#0000ff"/>
<circle cx="479.95" cy="285.51" r="1.6" fill="#0000ff"/>
<circle cx="480.35" cy="298.55" r="1.6" fill="#0000ff"/>
<circle cx="481.13" cy="294.72" r="1.6" fill="#0000ff"/>
<circle cx="481.51" cy="295.48" r="1.6" fill="#0000ff"/>
<circle cx="481.88" cy="304.08" r="1.6" fill="#0000ff"/>
<circle cx="482.25" cy="304.27" r="1.6" fill="#0000ff"/>
<circle cx="482.62" cy="294.78" r="1.6" fill="#0000ff"/>
<circle cx="482.98" cy="290.33" r="1.6" fill="#0000ff"/>
<circle cx="483.33" cy="302.94" r="1.6" fill="#0000ff"/>
<circle cx="483.68" cy="306.83" r="1.6" fill="#0000ff"/>
<circle cx="484.02" cy="306.87" r="1.6" fill="#0000ff"/>
<rect x="371.7" y="207.89" width="3.2" height="3.2" fill="#008000"/>
<rect x="389.48" y="200.2" width="3.2" height="3.2" fill="#008000"/>
<rect x="399.87" y="198.81" width="3.2" height="3.2" fill="#008000"/>
<rect x="407.25" y="199.93" width="3.2" height="3.2" fill="#008000"/>
<rect x="412.97" y="200.61" width="3.2" height="3.2" fill="#008000"/>
<rect x="417.65" y="200.52" width="3.2" height="3.2" fill="#008000"/>
<rect x="421.6" y="201.75" width="3.2" height="3.2" fill="#008000"/>
<rect x="425.03" y="202.35" width="3.2" height="3.2" fill="#008000"/>
<rect x="428.05" y="202.83" width="3.2" height="3.2" fill="#008000"/>
<rect x="430.75" y="203.33" width="3.2" height="3.2" fill="#008000"/>
<rect x="433.19" y="204.37" width="3.2" height="3.2" fill="#008000"/>
<rect x="435.43" y="205.18" width="3.2" height="3.2" fill="#008000"/>
<rect x="437.48" y="205.39" width="3.2" height="3.2" fill="#008000"/>
<rect x="439.38" y="207.63" width="3.2" height="3.2" fill="#008000"/>
<rect x="441.15" y="207.34" width="3.2" height="3.2" fill="#008000"/>
<rect x="442.8" y="209.24" width="3.2" height="3.2" fill="#008000"/>
<rect x="444.36" y="209.97" width="3.2" height="3.2" fill="#008000"/>
<rect x="445.82" y="211.1" width="3.2" height="3.2" fill="#008000"/>
<rect x="447.21" y="212.57" width="3.2" height="3.2" fill="#008000"/>
<rect x="448.53" y="213.36" width="3.2" height="3.2" fill="#008000"/>
<rect x="449.78" y="214.52" width="3.2" height="3.2" fill="#008000"/>
<rect x="450.97" y="215.26" width="3.2" height="3.2" fill="#008000"/>
<rect x="452.11" y="216.68" width="3.2" height="3.2" fill="#008000"/>
<rect x="453.2" y="218.24" width="3.2" height="3.2" fill="#008000"/>
<rect x="454.25" y="218.81" width="3.2" height="3.2" fill="#008000"/>
<rect x="455.25" y="220.74" width="3.2" height="3.2" fill="#008000"/>
<rect x="456.22" y="222.75" width="3.2" height="3.2" fill="#008000"/>
<rect x="457.15" y="224.81" width="3.2" height="3.2" fill="#008000"/>
<rect x="458.05" y="226.57" width="3.2" height="3.2" fill="#008000"/>
<rect x="458.92" y="229.09" width="3.2" height="3.2" fill="#008000"/>
<rect x="459.76" y="231.55" width="3.2" height="3.2" fill="#008000"/>
<rect x="460.58" y="233.21" width="3.2" height="3.2" fill="#008000"/>
<rect x="461.37" y="236.15" width="3.2" height="3.2" fill="#008000"/>
<rect x="462.13" y="238.79" width="3.2" height="3.2" fill="#008000"/>
<rect x="462.88" y="241.99" width="3.2" height="3.2" fill="#008000"/>
<rect x="463.6" y="243.93" width="3.2" height="3.2" fill="#008000"/>
<rect x="464.3" y="246.81" width="3.2" height="3.2" fill="#008000"/>
<rect x="464.99" y="248.39" width="3.2" height="3.2" fill="#008000"/>
<rect x="465.65" y="249.69" width="3.2" height="3.2" fill="#008000"/>
<rect x="466.3" y="251.86" width="3.2" height="3.2" fill="#008000"/>
<rect x="466.93" y="253.88" width="3.2" height="3.2" fill="#008000"/>
<rect x="467.55" y="255.43" width="3.2" height="3.2" fill="#008000"/>
<rect x="468.16" y="256.93" width="3.2" height="3.2" fill="#008000"/>
<rect x="468.75" y="259.89" width="3.2" height="3.2" fill="#008000"/>
<rect x="469.32" y="260.92" width="3.2" height="3.2" fill="#008000"/>
<rect x="469.89" y="262.12" width="3.2" height="3.2" fill="#008000"/>
<rect x="470.44" y="263.92" width="3.2" height="3.2" fill="#008000"/>
<rect x="470.98" y="265.51" width="3.2" height="3.2" fill="#008000"/>
<rect x="471.51" y="267.8" width="3.2" height="3.2" fill="#008000"/>
<rect x="472.02" y="267.07" width="3.2" height="3.2" fill="#008000"/>
<rect x="472.53" y="271.93" width="3.2" height="3.2" fill="#008000"/>
<rect x="473.52" y="272.71" width="3.2" height="3.2" fill="#008000"/>
<rect x="474.47" y="277.19" width="3.2" height="3.2" fill="#008000"/>
<rect x="474.93" y="279.95" width="3.2" height="3.2" fill="#008000"/>
<rect x="475.38" y="277.93" width="3.2" height="3.2" fill="#008000"/>
<rect x="475.83" y="280.51" width="3.2" height="3.2" fill="#008000"/>
<rect x="476.27" y="286.37" width="3.2" height="3.2" fill="#008000"/>
<rect x="476.7" y="282.15" width="3.2" height="3.2" fill="#008000"/>
<rect x="477.95" y="285.98" width="3.2" height="3.2" fill="#008000"/>
<rect x="478.75" y="294.47" width="3.2" height="3.2" fill="#008000"/>
<rect x="479.14" y="294.58" width="3.2" height="3.2" fill="#008000"/>
<rect x="479.91" y="294.14" width="3.2" height="3.2" fill="#008000"/>
<rect x="480.28" y="305.48" width="3.2" height="3.2" fill="#008000"/>
<rect x="480.65" y="304.5" width="3.2" height="3.2" fill="#008000"/>
<rect x="481.02" y="292.58" width="3.2" height="3.2" fill="#008000"/>
<rect x="481.38" y="293.71" width="3.2" height="3.2" fill="#008000"/>
<rect x="481.73" y="302.87" width="3.2" height="3.2" fill="#008000"/>
<rect x="482.08" y="304.33" width="3.2" height="3.2" fill="#008000"/>
<rect x="482.42" y="305.92" width="3.2" height="3.2" fill="#008000"/>
<use href="#tri" x="373.3" y="209.94" fill="#ffff00"/>
<use href="#tri" x="391.08" y="200.96" fill="#ffff00"/>
<use href="#tri" x="401.47" y="200.23" fill="#ffff00"/>
<use href="#tri" x="408.85" y="199.81" fill="#ffff00"/>
<use href="#tri" x="414.57" y="203.13" fill="#ffff00"/>
<use href="#tri" x="419.25" y="202.98" fill="#ffff00"/>
<use href="#tri" x="423.2" y="204.87" fill="#ffff00"/>
<use href="#tri" x="426.63" y="204.47" fill="#ffff00"/>
<use href="#tri" x="429.65" y="205.93" fill="#ffff00"/>
<use href="#tri" x="432.35" y="205.4" fill="#ffff00"/>
<use href="#tri" x="434.79" y="206.52" fill="#ffff00"/>
<use href="#tri" x="437.03" y="207.15" fill="#ffff00"/>
<use href="#tri" x="439.08" y="207.63" fill="#ffff00"/>
<use href="#tri" x="440.98" y="209.95" fill="#ffff00"/>
<use href="#tri" x="442.75" y="209.71" fill="#ffff00"/>
<use href="#tri" x="444.4" y="210.95" fill="#ffff00"/>
<use href="#tri" x="445.96" y="211.7" fill="#ffff00"/>
<use href="#tri" x="447.42" y="213.41" fill="#ffff00"/>
<use href="#tri" x="448.81" y="214.74" fill="#ffff00"/>
<use href="#tri" x="450.13" y="215.86" fill="#ffff00"/>
<use href="#tri" x="451.38" y="217.31" fill="#ffff00"/>
<use href="#tri" x="452.57" y="216.1" fill="#ffff00"/>
<use href="#tri" x="453.71" y="220" fill="#ffff00"/>
<use href="#tri" x="454.8" y="220.83" fill="#ffff00"/>
<use href="#tri" x="455.85" y="221.34" fill="#ffff00"/>
<use href="#tri" x="456.85" y="223.65" fill="#ffff00"/>
<use href="#tri" x="457.82" y="225.79" fill="#ffff00"/>
<use href="#tri" x="458.75" y="228.72" fill="#ffff00"/>
<use href="#tri" x="459.65" y="228.55" fill="#ffff00"/>
<use href="#tri" x="460.52" y="232.93" fill="#ffff00"/>
<use href="#tri" x="461.36" y="233.29" fill="#ffff00"/>
<use href="#tri" x="462.18" y="237.09" fill="#ffff00"/>
<use href="#tri" x="462.97" y="238.54" fill="#ffff00"/>
<use href="#tri" x="463.73" y="241.36" fill="#ffff00"/>
<use href="#tri" x="464.48" y="243.25" fill="#ffff00"/>
<use href="#tri" x="465.2" y="246.57" fill="#ffff00"/>
<use href="#tri" x="465.9" y="249.04" fill="#ffff00"/>
<use href="#tri" x="466.59" y="251.73" fill="#ffff00"/>
<use href="#tri" x="467.25" y="251.07" fill="#ffff00"/>
<use href="#tri" x="467.9" y="253.71" fill="#ffff00"/>
<use href="#tri" x="468.53" y="257.02" fill="#ffff00"/>
<use href="#tri" x="469.15" y="257.16" fill="#ffff00"/>
<use href="#tri" x="469.76" y="260.81" fill="#ffff00"/>
<use href="#tri" x="470.35" y="262.41" fill="#ffff00"/>
<use href="#tri" x="470.92" y="264.28" fill="#ffff00"/>
<use href="#tri" x="471.49" y="265.52" fill="#ffff00"/>
<use href="#tri" x="472.04" y="266.39" fill="#ffff00"/>
<use href="#tri" x="472.58" y="266.58" fill="#ffff00"/>
<use href="#tri" x="473.11" y="271.46" fill="#ffff00"/>
<use href="#tri" x="473.62" y="270.01" fill="#ffff00"/>
<use href="#tri" x="474.13" y="273.06" fill="#ffff00"/>
<use href="#tri" x="474.63" y="273.18" fill="#ffff00"/>
<use href="#tri" x="475.12" y="276.57" fill="#ffff00"/>
<use href="#tri" x="475.6" y="276.13" fill="#ffff00"/>
<use href="#tri" x="476.07" y="277.34" fill="#ffff00"/>
<use href="#tri" x="476.53" y="280.92" fill="#ffff00"/>
<use href="#tri" x="476.98" y="281.73" fill="#ffff00"/>
<use href="#tri" x="477.43" y="281.62" fill="#ffff00"/>
<use href="#tri" x="477.87" y="286.5" fill="#ffff00"/>
<use href="#tri" x="478.3" y="283.6" fill="#ffff00"/>
<use href="#tri" x="478.72" y="288.11" fill="#ffff00"/>
<use href="#tri" x="479.14" y="286.01" fill="#ffff00"/>
<use href="#tri" x="479.55" y="286.88" fill="#ffff00"/>
<use href="#tri" x="479.95" y="288.56" fill="#ffff00"/>
<use href="#tri" x="480.35" y="300.04" fill="#ffff00"/>
<use href="#tri" x="480.74" y="290.75" fill="#ffff00"/>
<use href="#tri" x="481.13" y="297.93" fill="#ffff00"/>
<use href="#tri" x="481.51" y="301.9" fill="#ffff00"/>
<use href="#tri" x="482.25" y="305.31" fill="#ffff00"/>
<use href="#tri" x="482.62" y="293.81" fill="#ffff00"/>
<use href="#tri" x="482.98" y="290.79" fill="#ffff00"/>
<use href="#tri" x="483.33" y="301.09" fill="#ffff00"/>
<use href="#tri" x="483.68" y="307.36" fill="#ffff00"/>
<use href="#tri" x="484.02" y="306.9" fill="#ffff00"/>
<polyline points="373.3,197.42 391.08,198.62 401.47,199.81 408.85,201.01 414.57,202.2 419.25,203.4 423.2,204.59 426.63,205.79 429.65,206.98 432.35,208.18 434.79,209.37 437.03,210.57 439.08,211.76 440.98,212.96 442.75,214.16 444.4,215.35 445.96,216.55 447.42,217.74 448.81,218.94 450.13,220.13 451.38,221.33 452.57,222.52 453.71,223.72 454.8,224.91 455.85,226.11 456.85,227.3 457.82,228.5 458.75,229.69 459.65,230.89 460.52,232.08 461.36,233.28 462.18,234.47 462.97,235.67 463.73,236.87 464.48,238.06 465.2,239.26 465.9,240.45 466.59,241.65 467.25,242.84 467.9,244.04 468.53,245.23 469.15,246.43 469.76,247.62 470.35,248.82 470.92,250.01 471.49,251.21 472.04,252.4 472.58,253.6 473.11,254.79 473.62,255.99 474.13,257.18 474.63,258.38 475.12,259.58 475.6,260.77 476.07,261.97 476.53,263.16 476.98,264.36 477.43,265.55 477.87,266.75 478.3,267.94 478.72,269.14 479.14,270.33 479.55,271.53 479.95,272.72 480.35,273.92 480.74,275.11 481.13,276.31 481.51,277.5 481.88,278.7 482.25,279.89 482.62,281.09 482.98,282.29 483.33,283.48 483.5,284.08" fill="none" stroke="#ff1414" stroke-width="1.0" stroke-linejoin="round"/>
</g>
<rect x="369.15" y="298.1" width="58.55" height="24.6" fill="#fff" fill-opacity="0.85" stroke="#d4d4d4" stroke-width="0.6"/>
<line x1="370.6" y1="301.4" x2="379.2" y2="301.4" stroke="#ff2020" stroke-width="0.9"/>
<circle cx="374.8" cy="307.5" r="1.45" fill="#0000ff"/>
<rect x="373.4" y="312" width="2.8" height="2.8" fill="#008000"/>
<path d="M374.8,317.75 L376.25,320.55 L373.35,320.55 Z" fill="#ffff00"/>
<path d="M367.4,186H508.7V325H367.4Z" fill="none" stroke="#8e8e8e" stroke-width="1"/>
<path d="M373.3,325v2.2M391.08,325v1.3M401.47,325v1.3M408.85,325v1.3M414.57,325v1.3M419.25,325v1.3M423.2,325v1.3M426.63,325v1.3M429.65,325v1.3M432.35,325v2.2M450.13,325v1.3M460.52,325v1.3M467.9,325v1.3M473.62,325v1.3M478.3,325v1.3M482.25,325v1.3M485.68,325v1.3M488.7,325v1.3M491.4,325v2.2M367.4,323.04h-1.3M367.4,319.56h-1.3M367.4,316.87h-1.3M367.4,314.67h-1.3M367.4,312.81h-1.3M367.4,311.19h-1.3M367.4,309.77h-1.3M367.4,308.5h-2.2M367.4,300.13h-1.3M367.4,295.24h-1.3M367.4,291.76h-1.3M367.4,289.07h-1.3M367.4,286.87h-1.3M367.4,285.01h-1.3M367.4,283.39h-1.3M367.4,281.97h-1.3M367.4,280.7h-2.2M367.4,272.33h-1.3M367.4,267.44h-1.3M367.4,263.96h-1.3M367.4,261.27h-1.3M367.4,259.07h-1.3M367.4,257.21h-1.3M367.4,255.59h-1.3M367.4,254.17h-1.3M367.4,252.9h-2.2M367.4,244.53h-1.3M367.4,239.64h-1.3M367.4,236.16h-1.3M367.4,233.47h-1.3M367.4,231.27h-1.3M367.4,229.41h-1.3M367.4,227.79h-1.3M367.4,226.37h-1.3M367.4,225.1h-2.2M367.4,216.73h-1.3M367.4,211.84h-1.3M367.4,208.36h-1.3M367.4,205.67h-1.3M367.4,203.47h-1.3M367.4,201.61h-1.3M367.4,199.99h-1.3M367.4,198.57h-1.3M367.4,197.3h-2.2M367.4,188.93h-1.3" stroke="#707070" stroke-width="0.55" fill="none"/>
<clipPath id="ch"><rect x="543.3" y="186" width="141.1" height="139"/></clipPath>
<g clip-path="url(#ch)">
<circle cx="549.45" cy="213.94" r="1.6" fill="#0000ff"/>
<circle cx="567.21" cy="206.42" r="1.6" fill="#0000ff"/>
<circle cx="577.6" cy="205.27" r="1.6" fill="#0000ff"/>
<circle cx="584.97" cy="204.09" r="1.6" fill="#0000ff"/>
<circle cx="590.69" cy="203.8" r="1.6" fill="#0000ff"/>
<circle cx="595.36" cy="205.2" r="1.6" fill="#0000ff"/>
<circle cx="599.31" cy="204.28" r="1.6" fill="#0000ff"/>
<circle cx="602.73" cy="203.63" r="1.6" fill="#0000ff"/>
<circle cx="605.75" cy="204.73" r="1.6" fill="#0000ff"/>
<circle cx="608.45" cy="205.36" r="1.6" fill="#0000ff"/>
<circle cx="610.89" cy="206.08" r="1.6" fill="#0000ff"/>
<circle cx="613.12" cy="208.16" r="1.6" fill="#0000ff"/>
<circle cx="615.17" cy="207.76" r="1.6" fill="#0000ff"/>
<circle cx="617.07" cy="209.27" r="1.6" fill="#0000ff"/>
<circle cx="618.84" cy="209.59" r="1.6" fill="#0000ff"/>
<circle cx="620.49" cy="209.61" r="1.6" fill="#0000ff"/>
<circle cx="622.05" cy="210.62" r="1.6" fill="#0000ff"/>
<circle cx="623.51" cy="211.86" r="1.6" fill="#0000ff"/>
<circle cx="624.9" cy="213.11" r="1.6" fill="#0000ff"/>
<circle cx="626.21" cy="215.11" r="1.6" fill="#0000ff"/>
<circle cx="627.46" cy="216.09" r="1.6" fill="#0000ff"/>
<circle cx="628.65" cy="217.14" r="1.6" fill="#0000ff"/>
<circle cx="629.79" cy="218.16" r="1.6" fill="#0000ff"/>
<circle cx="630.88" cy="220.91" r="1.6" fill="#0000ff"/>
<circle cx="631.93" cy="221.27" r="1.6" fill="#0000ff"/>
<circle cx="632.93" cy="222.45" r="1.6" fill="#0000ff"/>
<circle cx="633.9" cy="225.19" r="1.6" fill="#0000ff"/>
<circle cx="634.83" cy="226.87" r="1.6" fill="#0000ff"/>
<circle cx="635.73" cy="227.43" r="1.6" fill="#0000ff"/>
<circle cx="636.6" cy="229.21" r="1.6" fill="#0000ff"/>
<circle cx="637.44" cy="230.82" r="1.6" fill="#0000ff"/>
<circle cx="638.25" cy="232.46" r="1.6" fill="#0000ff"/>
<circle cx="639.04" cy="234.09" r="1.6" fill="#0000ff"/>
<circle cx="639.81" cy="235.91" r="1.6" fill="#0000ff"/>
<circle cx="640.55" cy="237.7" r="1.6" fill="#0000ff"/>
<circle cx="641.27" cy="238.65" r="1.6" fill="#0000ff"/>
<circle cx="641.97" cy="240.58" r="1.6" fill="#0000ff"/>
<circle cx="642.66" cy="241.57" r="1.6" fill="#0000ff"/>
<circle cx="643.32" cy="243.64" r="1.6" fill="#0000ff"/>
<circle cx="643.97" cy="244.4" r="1.6" fill="#0000ff"/>
<circle cx="644.6" cy="243.96" r="1.6" fill="#0000ff"/>
<circle cx="645.22" cy="246.61" r="1.6" fill="#0000ff"/>
<circle cx="645.82" cy="248.13" r="1.6" fill="#0000ff"/>
<circle cx="646.41" cy="249.6" r="1.6" fill="#0000ff"/>
<circle cx="646.99" cy="248.24" r="1.6" fill="#0000ff"/>
<circle cx="647.55" cy="250.48" r="1.6" fill="#0000ff"/>
<circle cx="648.1" cy="252.68" r="1.6" fill="#0000ff"/>
<circle cx="648.64" cy="254.09" r="1.6" fill="#0000ff"/>
<circle cx="649.17" cy="253.02" r="1.6" fill="#0000ff"/>
<circle cx="650.2" cy="254.95" r="1.6" fill="#0000ff"/>
<circle cx="651.18" cy="260" r="1.6" fill="#0000ff"/>
<circle cx="651.66" cy="261.29" r="1.6" fill="#0000ff"/>
<circle cx="652.59" cy="265.78" r="1.6" fill="#0000ff"/>
<circle cx="653.05" cy="268.8" r="1.6" fill="#0000ff"/>
<circle cx="653.49" cy="264.63" r="1.6" fill="#0000ff"/>
<circle cx="653.93" cy="264.09" r="1.6" fill="#0000ff"/>
<circle cx="654.36" cy="265.33" r="1.6" fill="#0000ff"/>
<circle cx="654.78" cy="269.76" r="1.6" fill="#0000ff"/>
<circle cx="655.61" cy="271.98" r="1.6" fill="#0000ff"/>
<circle cx="656.01" cy="273.23" r="1.6" fill="#0000ff"/>
<circle cx="656.41" cy="272.24" r="1.6" fill="#0000ff"/>
<circle cx="656.8" cy="276.3" r="1.6" fill="#0000ff"/>
<circle cx="657.19" cy="274.19" r="1.6" fill="#0000ff"/>
<circle cx="657.94" cy="282.94" r="1.6" fill="#0000ff"/>
<circle cx="658.67" cy="279.66" r="1.6" fill="#0000ff"/>
<circle cx="659.03" cy="286.14" r="1.6" fill="#0000ff"/>
<circle cx="659.39" cy="282.35" r="1.6" fill="#0000ff"/>
<circle cx="659.73" cy="288.78" r="1.6" fill="#0000ff"/>
<circle cx="660.42" cy="290.88" r="1.6" fill="#0000ff"/>
<circle cx="660.75" cy="282.54" r="1.6" fill="#0000ff"/>
<circle cx="661.08" cy="285.36" r="1.6" fill="#0000ff"/>
<circle cx="661.41" cy="283.17" r="1.6" fill="#0000ff"/>
<circle cx="661.73" cy="288.2" r="1.6" fill="#0000ff"/>
<circle cx="662.05" cy="279.37" r="1.6" fill="#0000ff"/>
<circle cx="662.68" cy="288.75" r="1.6" fill="#0000ff"/>
<circle cx="663.29" cy="287.12" r="1.6" fill="#0000ff"/>
<circle cx="663.59" cy="285.65" r="1.6" fill="#0000ff"/>
<circle cx="663.88" cy="291.43" r="1.6" fill="#0000ff"/>
<circle cx="664.75" cy="291.37" r="1.6" fill="#0000ff"/>
<circle cx="665.03" cy="301.66" r="1.6" fill="#0000ff"/>
<circle cx="665.31" cy="300" r="1.6" fill="#0000ff"/>
<circle cx="665.59" cy="292.09" r="1.6" fill="#0000ff"/>
<circle cx="665.86" cy="287.79" r="1.6" fill="#0000ff"/>
<circle cx="666.14" cy="300.25" r="1.6" fill="#0000ff"/>
<circle cx="666.67" cy="286.96" r="1.6" fill="#0000ff"/>
<circle cx="666.93" cy="286.7" r="1.6" fill="#0000ff"/>
<circle cx="667.19" cy="306.15" r="1.6" fill="#0000ff"/>
<circle cx="667.7" cy="304.59" r="1.6" fill="#0000ff"/>
<circle cx="667.96" cy="297.7" r="1.6" fill="#0000ff"/>
<circle cx="668.21" cy="299.17" r="1.6" fill="#0000ff"/>
<circle cx="668.45" cy="289.68" r="1.6" fill="#0000ff"/>
<circle cx="668.94" cy="297.73" r="1.6" fill="#0000ff"/>
<circle cx="669.18" cy="301.17" r="1.6" fill="#0000ff"/>
<circle cx="669.66" cy="296.14" r="1.6" fill="#0000ff"/>
<circle cx="669.89" cy="300.29" r="1.6" fill="#0000ff"/>
<circle cx="670.12" cy="293.09" r="1.6" fill="#0000ff"/>
<circle cx="670.35" cy="293.81" r="1.6" fill="#0000ff"/>
<circle cx="671.03" cy="293.96" r="1.6" fill="#0000ff"/>
<circle cx="671.25" cy="285.13" r="1.6" fill="#0000ff"/>
<circle cx="671.47" cy="293.85" r="1.6" fill="#0000ff"/>
<circle cx="671.91" cy="283.67" r="1.6" fill="#0000ff"/>
<circle cx="672.12" cy="302.36" r="1.6" fill="#0000ff"/>
<circle cx="672.33" cy="303.13" r="1.6" fill="#0000ff"/>
<circle cx="672.96" cy="295.26" r="1.6" fill="#0000ff"/>
<circle cx="673.17" cy="292.53" r="1.6" fill="#0000ff"/>
<circle cx="673.37" cy="294.63" r="1.6" fill="#0000ff"/>
<circle cx="673.57" cy="291.64" r="1.6" fill="#0000ff"/>
<circle cx="673.78" cy="295.16" r="1.6" fill="#0000ff"/>
<circle cx="674.17" cy="299.54" r="1.6" fill="#0000ff"/>
<rect x="547.85" y="212.39" width="3.2" height="3.2" fill="#008000"/>
<rect x="565.61" y="204.08" width="3.2" height="3.2" fill="#008000"/>
<rect x="576" y="203.58" width="3.2" height="3.2" fill="#008000"/>
<rect x="583.37" y="202.62" width="3.2" height="3.2" fill="#008000"/>
<rect x="589.09" y="201.11" width="3.2" height="3.2" fill="#008000"/>
<rect x="593.76" y="202.39" width="3.2" height="3.2" fill="#008000"/>
<rect x="597.71" y="202.25" width="3.2" height="3.2" fill="#008000"/>
<rect x="601.13" y="201.71" width="3.2" height="3.2" fill="#008000"/>
<rect x="604.15" y="203.06" width="3.2" height="3.2" fill="#008000"/>
<rect x="606.85" y="203.11" width="3.2" height="3.2" fill="#008000"/>
<rect x="609.29" y="204.76" width="3.2" height="3.2" fill="#008000"/>
<rect x="611.52" y="205.76" width="3.2" height="3.2" fill="#008000"/>
<rect x="613.57" y="205.98" width="3.2" height="3.2" fill="#008000"/>
<rect x="615.47" y="207.33" width="3.2" height="3.2" fill="#008000"/>
<rect x="617.24" y="207.69" width="3.2" height="3.2" fill="#008000"/>
<rect x="618.89" y="208.09" width="3.2" height="3.2" fill="#008000"/>
<rect x="620.45" y="209.16" width="3.2" height="3.2" fill="#008000"/>
<rect x="621.91" y="210.34" width="3.2" height="3.2" fill="#008000"/>
<rect x="623.3" y="211.46" width="3.2" height="3.2" fill="#008000"/>
<rect x="624.61" y="212.73" width="3.2" height="3.2" fill="#008000"/>
<rect x="625.86" y="214.36" width="3.2" height="3.2" fill="#008000"/>
<rect x="627.05" y="215.66" width="3.2" height="3.2" fill="#008000"/>
<rect x="628.19" y="216.33" width="3.2" height="3.2" fill="#008000"/>
<rect x="629.28" y="218.86" width="3.2" height="3.2" fill="#008000"/>
<rect x="630.33" y="219.72" width="3.2" height="3.2" fill="#008000"/>
<rect x="631.33" y="220.94" width="3.2" height="3.2" fill="#008000"/>
<rect x="632.3" y="223.42" width="3.2" height="3.2" fill="#008000"/>
<rect x="633.23" y="225.32" width="3.2" height="3.2" fill="#008000"/>
<rect x="634.13" y="226.42" width="3.2" height="3.2" fill="#008000"/>
<rect x="635" y="227.61" width="3.2" height="3.2" fill="#008000"/>
<rect x="635.84" y="228.68" width="3.2" height="3.2" fill="#008000"/>
<rect x="636.65" y="230.56" width="3.2" height="3.2" fill="#008000"/>
<rect x="637.44" y="231.67" width="3.2" height="3.2" fill="#008000"/>
<rect x="638.21" y="233.67" width="3.2" height="3.2" fill="#008000"/>
<rect x="638.95" y="235.1" width="3.2" height="3.2" fill="#008000"/>
<rect x="639.67" y="236.9" width="3.2" height="3.2" fill="#008000"/>
<rect x="640.37" y="239.34" width="3.2" height="3.2" fill="#008000"/>
<rect x="641.06" y="240.03" width="3.2" height="3.2" fill="#008000"/>
<rect x="641.72" y="241.27" width="3.2" height="3.2" fill="#008000"/>
<rect x="642.37" y="242.71" width="3.2" height="3.2" fill="#008000"/>
<rect x="644.22" y="246.68" width="3.2" height="3.2" fill="#008000"/>
<rect x="645.95" y="250.38" width="3.2" height="3.2" fill="#008000"/>
<rect x="646.5" y="249.16" width="3.2" height="3.2" fill="#008000"/>
<rect x="647.57" y="252.63" width="3.2" height="3.2" fill="#008000"/>
<rect x="648.6" y="252.88" width="3.2" height="3.2" fill="#008000"/>
<rect x="649.09" y="256.26" width="3.2" height="3.2" fill="#008000"/>
<rect x="649.58" y="257.63" width="3.2" height="3.2" fill="#008000"/>
<rect x="650.06" y="256.95" width="3.2" height="3.2" fill="#008000"/>
<rect x="652.76" y="264.42" width="3.2" height="3.2" fill="#008000"/>
<rect x="653.18" y="269.67" width="3.2" height="3.2" fill="#008000"/>
<rect x="653.6" y="263.3" width="3.2" height="3.2" fill="#008000"/>
<rect x="654.01" y="270.72" width="3.2" height="3.2" fill="#008000"/>
<rect x="654.81" y="270.32" width="3.2" height="3.2" fill="#008000"/>
<rect x="655.2" y="277.31" width="3.2" height="3.2" fill="#008000"/>
<rect x="655.59" y="273.84" width="3.2" height="3.2" fill="#008000"/>
<rect x="655.97" y="273.15" width="3.2" height="3.2" fill="#008000"/>
<rect x="656.34" y="279.64" width="3.2" height="3.2" fill="#008000"/>
<rect x="656.71" y="279.4" width="3.2" height="3.2" fill="#008000"/>
<rect x="657.07" y="279.85" width="3.2" height="3.2" fill="#008000"/>
<rect x="657.43" y="285.39" width="3.2" height="3.2" fill="#008000"/>
<rect x="657.79" y="284.24" width="3.2" height="3.2" fill="#008000"/>
<rect x="658.13" y="282.25" width="3.2" height="3.2" fill="#008000"/>
<rect x="658.48" y="283.46" width="3.2" height="3.2" fill="#008000"/>
<rect x="658.82" y="287.16" width="3.2" height="3.2" fill="#008000"/>
<rect x="659.48" y="284.25" width="3.2" height="3.2" fill="#008000"/>
<rect x="659.81" y="276.66" width="3.2" height="3.2" fill="#008000"/>
<rect x="660.13" y="287.34" width="3.2" height="3.2" fill="#008000"/>
<rect x="660.77" y="287.68" width="3.2" height="3.2" fill="#008000"/>
<rect x="661.08" y="289.87" width="3.2" height="3.2" fill="#008000"/>
<rect x="661.38" y="285.98" width="3.2" height="3.2" fill="#008000"/>
<rect x="661.69" y="285.39" width="3.2" height="3.2" fill="#008000"/>
<rect x="661.99" y="287.98" width="3.2" height="3.2" fill="#008000"/>
<rect x="662.28" y="286.4" width="3.2" height="3.2" fill="#008000"/>
<rect x="662.57" y="290.88" width="3.2" height="3.2" fill="#008000"/>
<rect x="662.86" y="293.44" width="3.2" height="3.2" fill="#008000"/>
<rect x="663.15" y="290.85" width="3.2" height="3.2" fill="#008000"/>
<rect x="663.43" y="293.22" width="3.2" height="3.2" fill="#008000"/>
<rect x="663.71" y="293.43" width="3.2" height="3.2" fill="#008000"/>
<rect x="663.99" y="284.44" width="3.2" height="3.2" fill="#008000"/>
<rect x="664.26" y="280.98" width="3.2" height="3.2" fill="#008000"/>
<rect x="664.54" y="294.37" width="3.2" height="3.2" fill="#008000"/>
<rect x="664.8" y="298.35" width="3.2" height="3.2" fill="#008000"/>
<rect x="665.07" y="286.61" width="3.2" height="3.2" fill="#008000"/>
<rect x="665.33" y="280.15" width="3.2" height="3.2" fill="#008000"/>
<rect x="665.59" y="304.6" width="3.2" height="3.2" fill="#008000"/>
<rect x="665.85" y="283.02" width="3.2" height="3.2" fill="#008000"/>
<rect x="666.61" y="304.05" width="3.2" height="3.2" fill="#008000"/>
<rect x="666.85" y="293.08" width="3.2" height="3.2" fill="#008000"/>
<rect x="667.1" y="290.82" width="3.2" height="3.2" fill="#008000"/>
<rect x="667.34" y="290.47" width="3.2" height="3.2" fill="#008000"/>
<rect x="667.58" y="304.87" width="3.2" height="3.2" fill="#008000"/>
<rect x="667.82" y="298.2" width="3.2" height="3.2" fill="#008000"/>
<rect x="668.29" y="301.29" width="3.2" height="3.2" fill="#008000"/>
<rect x="669.43" y="295.52" width="3.2" height="3.2" fill="#008000"/>
<rect x="669.87" y="282.76" width="3.2" height="3.2" fill="#008000"/>
<rect x="670.09" y="308.81" width="3.2" height="3.2" fill="#008000"/>
<rect x="670.52" y="303.74" width="3.2" height="3.2" fill="#008000"/>
<rect x="670.73" y="306.44" width="3.2" height="3.2" fill="#008000"/>
<rect x="671.57" y="292.8" width="3.2" height="3.2" fill="#008000"/>
<rect x="671.77" y="293.93" width="3.2" height="3.2" fill="#008000"/>
<rect x="672.18" y="300.44" width="3.2" height="3.2" fill="#008000"/>
<rect x="672.77" y="292.16" width="3.2" height="3.2" fill="#008000"/>
<use href="#tri" x="549.45" y="214.4" fill="#ffff00"/>
<use href="#tri" x="567.21" y="204.21" fill="#ffff00"/>
<use href="#tri" x="577.6" y="204.73" fill="#ffff00"/>
<use href="#tri" x="584.97" y="203.84" fill="#ffff00"/>
<use href="#tri" x="590.69" y="202.66" fill="#ffff00"/>
<use href="#tri" x="595.36" y="205.5" fill="#ffff00"/>
<use href="#tri" x="599.31" y="204.75" fill="#ffff00"/>
<use href="#tri" x="602.73" y="204.08" fill="#ffff00"/>
<use href="#tri" x="605.75" y="206" fill="#ffff00"/>
<use href="#tri" x="608.45" y="207.03" fill="#ffff00"/>
<use href="#tri" x="610.89" y="206.8" fill="#ffff00"/>
<use href="#tri" x="613.12" y="209.02" fill="#ffff00"/>
<use href="#tri" x="615.17" y="208.17" fill="#ffff00"/>
<use href="#tri" x="617.07" y="208.52" fill="#ffff00"/>
<use href="#tri" x="618.84" y="210.63" fill="#ffff00"/>
<use href="#tri" x="620.49" y="210.59" fill="#ffff00"/>
<use href="#tri" x="622.05" y="210.68" fill="#ffff00"/>
<use href="#tri" x="623.51" y="212.13" fill="#ffff00"/>
<use href="#tri" x="624.9" y="214.05" fill="#ffff00"/>
<use href="#tri" x="626.21" y="215.19" fill="#ffff00"/>
<use href="#tri" x="627.46" y="216.24" fill="#ffff00"/>
<use href="#tri" x="628.65" y="218.28" fill="#ffff00"/>
<use href="#tri" x="629.79" y="217.97" fill="#ffff00"/>
<use href="#tri" x="630.88" y="220.49" fill="#ffff00"/>
<use href="#tri" x="631.93" y="222.95" fill="#ffff00"/>
<use href="#tri" x="632.93" y="223.08" fill="#ffff00"/>
<use href="#tri" x="633.9" y="225.71" fill="#ffff00"/>
<use href="#tri" x="634.83" y="227.03" fill="#ffff00"/>
<use href="#tri" x="635.73" y="227" fill="#ffff00"/>
<use href="#tri" x="636.6" y="229.4" fill="#ffff00"/>
<use href="#tri" x="637.44" y="231.14" fill="#ffff00"/>
<use href="#tri" x="638.25" y="231.84" fill="#ffff00"/>
<use href="#tri" x="639.04" y="233.87" fill="#ffff00"/>
<use href="#tri" x="639.81" y="235.97" fill="#ffff00"/>
<use href="#tri" x="640.55" y="237.98" fill="#ffff00"/>
<use href="#tri" x="641.27" y="239" fill="#ffff00"/>
<use href="#tri" x="641.97" y="240.47" fill="#ffff00"/>
<use href="#tri" x="642.66" y="240.67" fill="#ffff00"/>
<use href="#tri" x="643.32" y="242.36" fill="#ffff00"/>
<use href="#tri" x="643.97" y="244.6" fill="#ffff00"/>
<use href="#tri" x="646.99" y="249.45" fill="#ffff00"/>
<use href="#tri" x="647.55" y="250.97" fill="#ffff00"/>
<use href="#tri" x="648.1" y="251.71" fill="#ffff00"/>
<use href="#tri" x="648.64" y="254.18" fill="#ffff00"/>
<use href="#tri" x="649.69" y="254.95" fill="#ffff00"/>
<use href="#tri" x="651.18" y="258.93" fill="#ffff00"/>
<use href="#tri" x="651.66" y="259.55" fill="#ffff00"/>
<use href="#tri" x="652.13" y="261.13" fill="#ffff00"/>
<use href="#tri" x="652.59" y="263.88" fill="#ffff00"/>
<use href="#tri" x="653.49" y="264.75" fill="#ffff00"/>
<use href="#tri" x="653.93" y="265.41" fill="#ffff00"/>
<use href="#tri" x="654.36" y="265.26" fill="#ffff00"/>
<use href="#tri" x="654.78" y="270.7" fill="#ffff00"/>
<use href="#tri" x="655.61" y="271.25" fill="#ffff00"/>
<use href="#tri" x="656.01" y="275.16" fill="#ffff00"/>
<use href="#tri" x="657.19" y="273.6" fill="#ffff00"/>
<use href="#tri" x="659.03" y="286.64" fill="#ffff00"/>
<use href="#tri" x="659.39" y="282.11" fill="#ffff00"/>
<use href="#tri" x="660.08" y="283.84" fill="#ffff00"/>
<use href="#tri" x="660.42" y="287.21" fill="#ffff00"/>
<use href="#tri" x="660.75" y="285.47" fill="#ffff00"/>
<use href="#tri" x="661.08" y="284.08" fill="#ffff00"/>
<use href="#tri" x="661.41" y="281.86" fill="#ffff00"/>
<use href="#tri" x="661.73" y="286.54" fill="#ffff00"/>
<use href="#tri" x="662.68" y="288.86" fill="#ffff00"/>
<use href="#tri" x="662.98" y="281.88" fill="#ffff00"/>
<use href="#tri" x="663.59" y="285.59" fill="#ffff00"/>
<use href="#tri" x="663.88" y="286.66" fill="#ffff00"/>
<use href="#tri" x="664.17" y="294.89" fill="#ffff00"/>
<use href="#tri" x="664.75" y="297.31" fill="#ffff00"/>
<use href="#tri" x="665.03" y="299.77" fill="#ffff00"/>
<use href="#tri" x="665.59" y="292.28" fill="#ffff00"/>
<use href="#tri" x="665.86" y="284.62" fill="#ffff00"/>
<use href="#tri" x="666.14" y="298.29" fill="#ffff00"/>
<use href="#tri" x="666.4" y="304.12" fill="#ffff00"/>
<use href="#tri" x="666.67" y="285.71" fill="#ffff00"/>
<use href="#tri" x="666.93" y="283.83" fill="#ffff00"/>
<use href="#tri" x="667.19" y="299.95" fill="#ffff00"/>
<use href="#tri" x="667.45" y="289.58" fill="#ffff00"/>
<use href="#tri" x="667.7" y="299.18" fill="#ffff00"/>
<use href="#tri" x="668.21" y="308.98" fill="#ffff00"/>
<use href="#tri" x="668.7" y="284.81" fill="#ffff00"/>
<use href="#tri" x="668.94" y="294.72" fill="#ffff00"/>
<use href="#tri" x="669.18" y="301.59" fill="#ffff00"/>
<use href="#tri" x="669.42" y="302.25" fill="#ffff00"/>
<use href="#tri" x="669.66" y="303.15" fill="#ffff00"/>
<use href="#tri" x="669.89" y="294.39" fill="#ffff00"/>
<use href="#tri" x="670.12" y="285.28" fill="#ffff00"/>
<use href="#tri" x="670.81" y="296.91" fill="#ffff00"/>
<use href="#tri" x="671.03" y="299.45" fill="#ffff00"/>
<use href="#tri" x="672.55" y="291.45" fill="#ffff00"/>
<use href="#tri" x="672.75" y="295.38" fill="#ffff00"/>
<use href="#tri" x="672.96" y="300.09" fill="#ffff00"/>
<use href="#tri" x="673.17" y="292.56" fill="#ffff00"/>
<use href="#tri" x="673.37" y="290.36" fill="#ffff00"/>
<use href="#tri" x="673.57" y="294.01" fill="#ffff00"/>
<use href="#tri" x="673.97" y="297.25" fill="#ffff00"/>
<use href="#tri" x="674.56" y="303.52" fill="#ffff00"/>
<use href="#tri" x="674.76" y="278.53" fill="#ffff00"/>
<use href="#tri" x="662.8" y="315.73" fill="#ffff00"/>
<polyline points="549.45,199.55 567.21,200.55 577.6,201.55 584.97,202.56 590.69,203.56 595.36,204.56 599.31,205.56 602.73,206.56 605.75,207.57 608.45,208.57 610.89,209.57 613.12,210.57 615.17,211.57 617.07,212.58 618.84,213.58 620.49,214.58 622.05,215.58 623.51,216.59 624.9,217.59 626.21,218.59 627.46,219.59 628.65,220.59 629.79,221.6 630.88,222.6 631.93,223.6 632.93,224.6 633.9,225.6 634.83,226.61 635.73,227.61 636.6,228.61 637.44,229.61 638.25,230.61 639.04,231.62 639.81,232.62 640.55,233.62 641.27,234.62 641.97,235.62 642.66,236.63 643.32,237.63 643.97,238.63 644.6,239.63 645.22,240.64 645.82,241.64 646.41,242.64 646.99,243.64 647.55,244.64 648.1,245.65 648.64,246.65 649.17,247.65 649.69,248.65 650.2,249.65 650.69,250.66 651.18,251.66 651.66,252.66 652.13,253.66 652.59,254.66 653.05,255.67 653.49,256.67 653.93,257.67 654.36,258.67 654.78,259.68 655.2,260.68 655.61,261.68 656.01,262.68 656.41,263.68 656.8,264.69 657.19,265.69 657.57,266.69 657.94,267.69 658.31,268.69 658.67,269.7 659.03,270.7 659.39,271.7 659.73,272.7 660.08,273.7 660.42,274.71 660.75,275.71 661.08,276.71 661.41,277.71 661.73,278.71 662.05,279.72 662.37,280.72 662.68,281.72 662.98,282.72 663.29,283.73 663.59,284.73 663.88,285.73 664.17,286.73 664.46,287.73 664.75,288.74 665.03,289.74 665.31,290.74 665.59,291.74 665.86,292.74 666.14,293.75 666.4,294.75 666.67,295.75 666.93,296.75 667.19,297.75 667.45,298.76 667.7,299.76 667.96,300.76 668.21,301.76 668.45,302.77 668.7,303.77 668.94,304.77 669.18,305.77 669.42,306.77 669.66,307.78 669.89,308.78 670.12,309.78 670.35,310.78 670.58,311.78 670.81,312.79 671.03,313.79 671.25,314.79 671.47,315.79 671.69,316.79 671.91,317.8 672.12,318.8 672.33,319.8 672.55,320.8 672.75,321.8 672.96,322.81 673.17,323.81" fill="none" stroke="#ff1414" stroke-width="1.0" stroke-linejoin="round"/>
</g>
<rect x="545.05" y="298.1" width="58.55" height="24.6" fill="#fff" fill-opacity="0.85" stroke="#d4d4d4" stroke-width="0.6"/>
<line x1="546.5" y1="301.4" x2="555.1" y2="301.4" stroke="#ff2020" stroke-width="0.9"/>
<circle cx="550.7" cy="307.5" r="1.45" fill="#0000ff"/>
<rect x="549.3" y="312" width="2.8" height="2.8" fill="#008000"/>
<path d="M550.7,317.75 L552.15,320.55 L549.25,320.55 Z" fill="#ffff00"/>
<path d="M543.3,186H684.4V325H543.3Z" fill="none" stroke="#8e8e8e" stroke-width="1"/>
<path d="M549.45,325v2.2M567.21,325v1.3M577.6,325v1.3M584.97,325v1.3M590.69,325v1.3M595.36,325v1.3M599.31,325v1.3M602.73,325v1.3M605.75,325v1.3M608.45,325v2.2M626.21,325v1.3M636.6,325v1.3M643.97,325v1.3M649.69,325v1.3M654.36,325v1.3M658.31,325v1.3M661.73,325v1.3M664.75,325v1.3M667.45,325v2.2M543.3,323.04h-1.3M543.3,319.56h-1.3M543.3,316.87h-1.3M543.3,314.67h-1.3M543.3,312.81h-1.3M543.3,311.19h-1.3M543.3,309.77h-1.3M543.3,308.5h-2.2M543.3,300.13h-1.3M543.3,295.24h-1.3M543.3,291.76h-1.3M543.3,289.07h-1.3M543.3,286.87h-1.3M543.3,285.01h-1.3M543.3,283.39h-1.3M543.3,281.97h-1.3M543.3,280.7h-2.2M543.3,272.33h-1.3M543.3,267.44h-1.3M543.3,263.96h-1.3M543.3,261.27h-1.3M543.3,259.07h-1.3M543.3,257.21h-1.3M543.3,255.59h-1.3M543.3,254.17h-1.3M543.3,252.9h-2.2M543.3,244.53h-1.3M543.3,239.64h-1.3M543.3,236.16h-1.3M543.3,233.47h-1.3M543.3,231.27h-1.3M543.3,229.41h-1.3M543.3,227.79h-1.3M543.3,226.37h-1.3M543.3,225.1h-2.2M543.3,216.73h-1.3M543.3,211.84h-1.3M543.3,208.36h-1.3M543.3,205.67h-1.3M543.3,203.47h-1.3M543.3,201.61h-1.3M543.3,199.99h-1.3M543.3,198.57h-1.3M543.3,197.3h-2.2M543.3,188.93h-1.3" stroke="#707070" stroke-width="0.55" fill="none"/>
<clipPath id="ci"><rect x="195.6" y="356.5" width="141.1" height="138.8"/></clipPath>
<g clip-path="url(#ci)">
<circle cx="201.4" cy="396.83" r="1.6" fill="#0000ff"/>
<circle cx="219.19" cy="383.23" r="1.6" fill="#0000ff"/>
<circle cx="229.6" cy="378.83" r="1.6" fill="#0000ff"/>
<circle cx="236.98" cy="376.53" r="1.6" fill="#0000ff"/>
<circle cx="242.71" cy="377.58" r="1.6" fill="#0000ff"/>
<circle cx="247.39" cy="377" r="1.6" fill="#0000ff"/>
<circle cx="251.35" cy="376.87" r="1.6" fill="#0000ff"/>
<circle cx="254.77" cy="377.58" r="1.6" fill="#0000ff"/>
<circle cx="257.8" cy="377.87" r="1.6" fill="#0000ff"/>
<circle cx="260.5" cy="379" r="1.6" fill="#0000ff"/>
<circle cx="262.95" cy="378.3" r="1.6" fill="#0000ff"/>
<circle cx="265.18" cy="378.44" r="1.6" fill="#0000ff"/>
<circle cx="267.23" cy="380" r="1.6" fill="#0000ff"/>
<circle cx="269.14" cy="380.31" r="1.6" fill="#0000ff"/>
<circle cx="270.91" cy="380.97" r="1.6" fill="#0000ff"/>
<circle cx="272.56" cy="382.05" r="1.6" fill="#0000ff"/>
<circle cx="274.12" cy="383.11" r="1.6" fill="#0000ff"/>
<circle cx="275.59" cy="383.09" r="1.6" fill="#0000ff"/>
<circle cx="276.97" cy="384.54" r="1.6" fill="#0000ff"/>
<circle cx="278.29" cy="383.89" r="1.6" fill="#0000ff"/>
<circle cx="279.54" cy="385.93" r="1.6" fill="#0000ff"/>
<circle cx="280.74" cy="386.94" r="1.6" fill="#0000ff"/>
<circle cx="281.88" cy="386.02" r="1.6" fill="#0000ff"/>
<circle cx="282.97" cy="387.5" r="1.6" fill="#0000ff"/>
<circle cx="284.02" cy="387.51" r="1.6" fill="#0000ff"/>
<circle cx="285.02" cy="389.15" r="1.6" fill="#0000ff"/>
<circle cx="285.99" cy="389.2" r="1.6" fill="#0000ff"/>
<circle cx="286.93" cy="389.88" r="1.6" fill="#0000ff"/>
<circle cx="287.83" cy="391.08" r="1.6" fill="#0000ff"/>
<circle cx="288.7" cy="391.81" r="1.6" fill="#0000ff"/>
<circle cx="289.54" cy="392.3" r="1.6" fill="#0000ff"/>
<circle cx="290.35" cy="392.97" r="1.6" fill="#0000ff"/>
<circle cx="291.14" cy="394.74" r="1.6" fill="#0000ff"/>
<circle cx="291.91" cy="395.75" r="1.6" fill="#0000ff"/>
<circle cx="292.65" cy="396.95" r="1.6" fill="#0000ff"/>
<circle cx="293.38" cy="396.82" r="1.6" fill="#0000ff"/>
<circle cx="294.08" cy="398.9" r="1.6" fill="#0000ff"/>
<circle cx="294.77" cy="398.82" r="1.6" fill="#0000ff"/>
<circle cx="295.43" cy="400.34" r="1.6" fill="#0000ff"/>
<circle cx="296.08" cy="401.68" r="1.6" fill="#0000ff"/>
<circle cx="296.72" cy="402.35" r="1.6" fill="#0000ff"/>
<circle cx="297.33" cy="404.18" r="1.6" fill="#0000ff"/>
<circle cx="297.94" cy="405.85" r="1.6" fill="#0000ff"/>
<circle cx="298.53" cy="407.54" r="1.6" fill="#0000ff"/>
<circle cx="299.1" cy="410.14" r="1.6" fill="#0000ff"/>
<circle cx="299.67" cy="411.54" r="1.6" fill="#0000ff"/>
<circle cx="300.22" cy="412.77" r="1.6" fill="#0000ff"/>
<circle cx="300.76" cy="414.25" r="1.6" fill="#0000ff"/>
<circle cx="301.29" cy="416.17" r="1.6" fill="#0000ff"/>
<circle cx="301.81" cy="418.67" r="1.6" fill="#0000ff"/>
<circle cx="302.32" cy="420.21" r="1.6" fill="#0000ff"/>
<circle cx="302.82" cy="421.78" r="1.6" fill="#0000ff"/>
<circle cx="303.3" cy="422.41" r="1.6" fill="#0000ff"/>
<circle cx="303.78" cy="423.25" r="1.6" fill="#0000ff"/>
<circle cx="304.26" cy="424.61" r="1.6" fill="#0000ff"/>
<circle cx="304.72" cy="425.22" r="1.6" fill="#0000ff"/>
<circle cx="305.17" cy="428.01" r="1.6" fill="#0000ff"/>
<circle cx="305.62" cy="428.54" r="1.6" fill="#0000ff"/>
<circle cx="306.06" cy="429.43" r="1.6" fill="#0000ff"/>
<circle cx="306.49" cy="429.76" r="1.6" fill="#0000ff"/>
<circle cx="306.91" cy="431.49" r="1.6" fill="#0000ff"/>
<circle cx="307.33" cy="432.43" r="1.6" fill="#0000ff"/>
<circle cx="307.74" cy="433.18" r="1.6" fill="#0000ff"/>
<circle cx="308.15" cy="434.27" r="1.6" fill="#0000ff"/>
<circle cx="308.54" cy="438.34" r="1.6" fill="#0000ff"/>
<circle cx="308.94" cy="438.97" r="1.6" fill="#0000ff"/>
<circle cx="309.32" cy="439.98" r="1.6" fill="#0000ff"/>
<circle cx="309.7" cy="440.83" r="1.6" fill="#0000ff"/>
<circle cx="310.08" cy="439.4" r="1.6" fill="#0000ff"/>
<circle cx="310.45" cy="443.7" r="1.6" fill="#0000ff"/>
<circle cx="310.81" cy="440.7" r="1.6" fill="#0000ff"/>
<circle cx="311.17" cy="446.18" r="1.6" fill="#0000ff"/>
<circle cx="311.87" cy="443.88" r="1.6" fill="#0000ff"/>
<circle cx="312.22" cy="448.18" r="1.6" fill="#0000ff"/>
<circle cx="312.56" cy="450.18" r="1.6" fill="#0000ff"/>
<circle cx="312.89" cy="453.02" r="1.6" fill="#0000ff"/>
<circle cx="313.22" cy="455.19" r="1.6" fill="#0000ff"/>
<circle cx="313.55" cy="450.71" r="1.6" fill="#0000ff"/>
<circle cx="314.19" cy="454.27" r="1.6" fill="#0000ff"/>
<circle cx="314.51" cy="459.33" r="1.6" fill="#0000ff"/>
<circle cx="315.12" cy="458.98" r="1.6" fill="#0000ff"/>
<circle cx="315.43" cy="461.02" r="1.6" fill="#0000ff"/>
<circle cx="315.73" cy="460.77" r="1.6" fill="#0000ff"/>
<circle cx="316.03" cy="462.13" r="1.6" fill="#0000ff"/>
<circle cx="316.61" cy="465.34" r="1.6" fill="#0000ff"/>
<circle cx="316.9" cy="469.74" r="1.6" fill="#0000ff"/>
<circle cx="317.18" cy="467.01" r="1.6" fill="#0000ff"/>
<circle cx="317.46" cy="469.09" r="1.6" fill="#0000ff"/>
<circle cx="317.74" cy="477.5" r="1.6" fill="#0000ff"/>
<circle cx="318.01" cy="474.47" r="1.6" fill="#0000ff"/>
<circle cx="318.28" cy="474.72" r="1.6" fill="#0000ff"/>
<circle cx="318.55" cy="472.2" r="1.6" fill="#0000ff"/>
<circle cx="318.82" cy="470.1" r="1.6" fill="#0000ff"/>
<circle cx="319.08" cy="477.06" r="1.6" fill="#0000ff"/>
<circle cx="319.34" cy="473.14" r="1.6" fill="#0000ff"/>
<circle cx="319.6" cy="477.72" r="1.6" fill="#0000ff"/>
<circle cx="319.86" cy="476.09" r="1.6" fill="#0000ff"/>
<circle cx="320.11" cy="471.55" r="1.6" fill="#0000ff"/>
<rect x="199.8" y="395.38" width="3.2" height="3.2" fill="#008000"/>
<rect x="217.59" y="381.88" width="3.2" height="3.2" fill="#008000"/>
<rect x="228" y="376.7" width="3.2" height="3.2" fill="#008000"/>
<rect x="235.38" y="375.07" width="3.2" height="3.2" fill="#008000"/>
<rect x="241.11" y="375.69" width="3.2" height="3.2" fill="#008000"/>
<rect x="245.79" y="375.32" width="3.2" height="3.2" fill="#008000"/>
<rect x="249.75" y="375.17" width="3.2" height="3.2" fill="#008000"/>
<rect x="253.17" y="376.19" width="3.2" height="3.2" fill="#008000"/>
<rect x="256.2" y="376.54" width="3.2" height="3.2" fill="#008000"/>
<rect x="258.9" y="376.78" width="3.2" height="3.2" fill="#008000"/>
<rect x="261.35" y="376.74" width="3.2" height="3.2" fill="#008000"/>
<rect x="263.58" y="376.92" width="3.2" height="3.2" fill="#008000"/>
<rect x="265.63" y="378.76" width="3.2" height="3.2" fill="#008000"/>
<rect x="267.54" y="377.67" width="3.2" height="3.2" fill="#008000"/>
<rect x="269.31" y="379.07" width="3.2" height="3.2" fill="#008000"/>
<rect x="270.96" y="380.35" width="3.2" height="3.2" fill="#008000"/>
<rect x="272.52" y="380.91" width="3.2" height="3.2" fill="#008000"/>
<rect x="273.99" y="381.11" width="3.2" height="3.2" fill="#008000"/>
<rect x="275.37" y="382.08" width="3.2" height="3.2" fill="#008000"/>
<rect x="276.69" y="382.98" width="3.2" height="3.2" fill="#008000"/>
<rect x="277.94" y="383.72" width="3.2" height="3.2" fill="#008000"/>
<rect x="279.14" y="384.66" width="3.2" height="3.2" fill="#008000"/>
<rect x="280.28" y="384.74" width="3.2" height="3.2" fill="#008000"/>
<rect x="281.37" y="384.9" width="3.2" height="3.2" fill="#008000"/>
<rect x="282.42" y="385.87" width="3.2" height="3.2" fill="#008000"/>
<rect x="283.42" y="386.87" width="3.2" height="3.2" fill="#008000"/>
<rect x="284.39" y="387.31" width="3.2" height="3.2" fill="#008000"/>
<rect x="285.33" y="387.55" width="3.2" height="3.2" fill="#008000"/>
<rect x="286.23" y="388.35" width="3.2" height="3.2" fill="#008000"/>
<rect x="287.1" y="389.39" width="3.2" height="3.2" fill="#008000"/>
<rect x="287.94" y="390.41" width="3.2" height="3.2" fill="#008000"/>
<rect x="288.75" y="392.07" width="3.2" height="3.2" fill="#008000"/>
<rect x="289.54" y="392.94" width="3.2" height="3.2" fill="#008000"/>
<rect x="290.31" y="394.16" width="3.2" height="3.2" fill="#008000"/>
<rect x="291.05" y="394.89" width="3.2" height="3.2" fill="#008000"/>
<rect x="291.78" y="395.26" width="3.2" height="3.2" fill="#008000"/>
<rect x="292.48" y="396.84" width="3.2" height="3.2" fill="#008000"/>
<rect x="293.17" y="397.06" width="3.2" height="3.2" fill="#008000"/>
<rect x="293.83" y="398.36" width="3.2" height="3.2" fill="#008000"/>
<rect x="294.48" y="399.88" width="3.2" height="3.2" fill="#008000"/>
<rect x="295.12" y="400.99" width="3.2" height="3.2" fill="#008000"/>
<rect x="295.73" y="402.21" width="3.2" height="3.2" fill="#008000"/>
<rect x="296.34" y="404.47" width="3.2" height="3.2" fill="#008000"/>
<rect x="296.93" y="405.5" width="3.2" height="3.2" fill="#008000"/>
<rect x="297.5" y="407.67" width="3.2" height="3.2" fill="#008000"/>
<rect x="298.07" y="409.77" width="3.2" height="3.2" fill="#008000"/>
<rect x="298.62" y="410.94" width="3.2" height="3.2" fill="#008000"/>
<rect x="299.16" y="412.63" width="3.2" height="3.2" fill="#008000"/>
<rect x="299.69" y="414.86" width="3.2" height="3.2" fill="#008000"/>
<rect x="300.21" y="417.3" width="3.2" height="3.2" fill="#008000"/>
<rect x="300.72" y="418.27" width="3.2" height="3.2" fill="#008000"/>
<rect x="301.22" y="419.06" width="3.2" height="3.2" fill="#008000"/>
<rect x="301.7" y="420.54" width="3.2" height="3.2" fill="#008000"/>
<rect x="302.18" y="421.47" width="3.2" height="3.2" fill="#008000"/>
<rect x="302.66" y="422.88" width="3.2" height="3.2" fill="#008000"/>
<rect x="303.12" y="424.15" width="3.2" height="3.2" fill="#008000"/>
<rect x="303.57" y="425.12" width="3.2" height="3.2" fill="#008000"/>
<rect x="304.02" y="426.63" width="3.2" height="3.2" fill="#008000"/>
<rect x="304.46" y="427.1" width="3.2" height="3.2" fill="#008000"/>
<rect x="304.89" y="428.85" width="3.2" height="3.2" fill="#008000"/>
<rect x="305.31" y="429.52" width="3.2" height="3.2" fill="#008000"/>
<rect x="305.73" y="431.42" width="3.2" height="3.2" fill="#008000"/>
<rect x="306.14" y="431.71" width="3.2" height="3.2" fill="#008000"/>
<rect x="306.55" y="433.26" width="3.2" height="3.2" fill="#008000"/>
<rect x="306.94" y="436.41" width="3.2" height="3.2" fill="#008000"/>
<rect x="307.34" y="436.94" width="3.2" height="3.2" fill="#008000"/>
<rect x="307.72" y="438.15" width="3.2" height="3.2" fill="#008000"/>
<rect x="308.1" y="439.43" width="3.2" height="3.2" fill="#008000"/>
<rect x="308.48" y="437.28" width="3.2" height="3.2" fill="#008000"/>
<rect x="308.85" y="440.54" width="3.2" height="3.2" fill="#008000"/>
<rect x="309.21" y="440.04" width="3.2" height="3.2" fill="#008000"/>
<rect x="309.92" y="442.7" width="3.2" height="3.2" fill="#008000"/>
<rect x="310.27" y="443.52" width="3.2" height="3.2" fill="#008000"/>
<rect x="310.62" y="448" width="3.2" height="3.2" fill="#008000"/>
<rect x="310.96" y="448.06" width="3.2" height="3.2" fill="#008000"/>
<rect x="311.62" y="451.93" width="3.2" height="3.2" fill="#008000"/>
<rect x="311.95" y="449.05" width="3.2" height="3.2" fill="#008000"/>
<rect x="312.91" y="455.42" width="3.2" height="3.2" fill="#008000"/>
<rect x="313.22" y="455.48" width="3.2" height="3.2" fill="#008000"/>
<rect x="313.52" y="460.11" width="3.2" height="3.2" fill="#008000"/>
<rect x="313.83" y="462.09" width="3.2" height="3.2" fill="#008000"/>
<rect x="314.13" y="459.28" width="3.2" height="3.2" fill="#008000"/>
<rect x="314.43" y="461.99" width="3.2" height="3.2" fill="#008000"/>
<rect x="314.72" y="461.28" width="3.2" height="3.2" fill="#008000"/>
<rect x="315.01" y="463.79" width="3.2" height="3.2" fill="#008000"/>
<rect x="315.3" y="468.17" width="3.2" height="3.2" fill="#008000"/>
<rect x="315.58" y="466.46" width="3.2" height="3.2" fill="#008000"/>
<rect x="315.86" y="469.78" width="3.2" height="3.2" fill="#008000"/>
<rect x="316.14" y="474.06" width="3.2" height="3.2" fill="#008000"/>
<rect x="316.41" y="472.24" width="3.2" height="3.2" fill="#008000"/>
<rect x="316.68" y="474.54" width="3.2" height="3.2" fill="#008000"/>
<rect x="316.95" y="469.44" width="3.2" height="3.2" fill="#008000"/>
<rect x="317.48" y="475.62" width="3.2" height="3.2" fill="#008000"/>
<rect x="317.74" y="476.02" width="3.2" height="3.2" fill="#008000"/>
<rect x="318" y="475.3" width="3.2" height="3.2" fill="#008000"/>
<rect x="318.26" y="475.83" width="3.2" height="3.2" fill="#008000"/>
<rect x="318.51" y="466.03" width="3.2" height="3.2" fill="#008000"/>
<use href="#tri" x="201.4" y="395.67" fill="#ffff00"/>
<use href="#tri" x="219.19" y="384.45" fill="#ffff00"/>
<use href="#tri" x="229.6" y="378.03" fill="#ffff00"/>
<use href="#tri" x="236.98" y="376.07" fill="#ffff00"/>
<use href="#tri" x="242.71" y="377.78" fill="#ffff00"/>
<use href="#tri" x="247.39" y="378.06" fill="#ffff00"/>
<use href="#tri" x="251.35" y="376.04" fill="#ffff00"/>
<use href="#tri" x="254.77" y="376.69" fill="#ffff00"/>
<use href="#tri" x="257.8" y="378.89" fill="#ffff00"/>
<use href="#tri" x="260.5" y="379.19" fill="#ffff00"/>
<use href="#tri" x="262.95" y="378.59" fill="#ffff00"/>
<use href="#tri" x="265.18" y="377.75" fill="#ffff00"/>
<use href="#tri" x="267.23" y="380.86" fill="#ffff00"/>
<use href="#tri" x="269.14" y="379.56" fill="#ffff00"/>
<use href="#tri" x="270.91" y="381.38" fill="#ffff00"/>
<use href="#tri" x="272.56" y="381.07" fill="#ffff00"/>
<use href="#tri" x="274.12" y="382.29" fill="#ffff00"/>
<use href="#tri" x="275.59" y="383.66" fill="#ffff00"/>
<use href="#tri" x="276.97" y="383.94" fill="#ffff00"/>
<use href="#tri" x="278.29" y="383.32" fill="#ffff00"/>
<use href="#tri" x="279.54" y="386.12" fill="#ffff00"/>
<use href="#tri" x="280.74" y="385.61" fill="#ffff00"/>
<use href="#tri" x="281.88" y="385.77" fill="#ffff00"/>
<use href="#tri" x="282.97" y="387.52" fill="#ffff00"/>
<use href="#tri" x="284.02" y="387.67" fill="#ffff00"/>
<use href="#tri" x="285.02" y="389.01" fill="#ffff00"/>
<use href="#tri" x="285.99" y="390.73" fill="#ffff00"/>
<use href="#tri" x="286.93" y="389.55" fill="#ffff00"/>
<use href="#tri" x="287.83" y="392.14" fill="#ffff00"/>
<use href="#tri" x="288.7" y="392.77" fill="#ffff00"/>
<use href="#tri" x="289.54" y="393.07" fill="#ffff00"/>
<use href="#tri" x="290.35" y="394.73" fill="#ffff00"/>
<use href="#tri" x="291.14" y="395.49" fill="#ffff00"/>
<use href="#tri" x="291.91" y="396.19" fill="#ffff00"/>
<use href="#tri" x="292.65" y="397.26" fill="#ffff00"/>
<use href="#tri" x="293.38" y="396.55" fill="#ffff00"/>
<use href="#tri" x="294.08" y="398.46" fill="#ffff00"/>
<use href="#tri" x="294.77" y="398.59" fill="#ffff00"/>
<use href="#tri" x="295.43" y="401.22" fill="#ffff00"/>
<use href="#tri" x="296.08" y="403.24" fill="#ffff00"/>
<use href="#tri" x="296.72" y="403.69" fill="#ffff00"/>
<use href="#tri" x="297.33" y="403.95" fill="#ffff00"/>
<use href="#tri" x="297.94" y="406.56" fill="#ffff00"/>
<use href="#tri" x="298.53" y="407.82" fill="#ffff00"/>
<use href="#tri" x="299.1" y="411.05" fill="#ffff00"/>
<use href="#tri" x="299.67" y="413.19" fill="#ffff00"/>
<use href="#tri" x="300.22" y="412.69" fill="#ffff00"/>
<use href="#tri" x="300.76" y="415.05" fill="#ffff00"/>
<use href="#tri" x="301.29" y="416.65" fill="#ffff00"/>
<use href="#tri" x="301.81" y="419.31" fill="#ffff00"/>
<use href="#tri" x="302.32" y="419.64" fill="#ffff00"/>
<use href="#tri" x="302.82" y="421.06" fill="#ffff00"/>
<use href="#tri" x="303.3" y="422.6" fill="#ffff00"/>
<use href="#tri" x="303.78" y="424.52" fill="#ffff00"/>
<use href="#tri" x="304.26" y="424.56" fill="#ffff00"/>
<use href="#tri" x="304.72" y="426.87" fill="#ffff00"/>
<use href="#tri" x="305.17" y="427.82" fill="#ffff00"/>
<use href="#tri" x="305.62" y="428.45" fill="#ffff00"/>
<use href="#tri" x="306.06" y="430.72" fill="#ffff00"/>
<use href="#tri" x="306.49" y="431.21" fill="#ffff00"/>
<use href="#tri" x="306.91" y="431.42" fill="#ffff00"/>
<use href="#tri" x="307.33" y="433" fill="#ffff00"/>
<use href="#tri" x="307.74" y="435.29" fill="#ffff00"/>
<use href="#tri" x="308.15" y="433.6" fill="#ffff00"/>
<use href="#tri" x="308.54" y="437.25" fill="#ffff00"/>
<use href="#tri" x="308.94" y="440.47" fill="#ffff00"/>
<use href="#tri" x="309.32" y="438.67" fill="#ffff00"/>
<use href="#tri" x="309.7" y="441.21" fill="#ffff00"/>
<use href="#tri" x="310.08" y="439.57" fill="#ffff00"/>
<use href="#tri" x="310.45" y="442.01" fill="#ffff00"/>
<use href="#tri" x="310.81" y="442.05" fill="#ffff00"/>
<use href="#tri" x="311.17" y="445.62" fill="#ffff00"/>
<use href="#tri" x="311.52" y="445.34" fill="#ffff00"/>
<use href="#tri" x="313.22" y="456.49" fill="#ffff00"/>
<use href="#tri" x="313.55" y="450.96" fill="#ffff00"/>
<use href="#tri" x="313.87" y="452.48" fill="#ffff00"/>
<use href="#tri" x="314.19" y="452.96" fill="#ffff00"/>
<use href="#tri" x="314.51" y="458.99" fill="#ffff00"/>
<use href="#tri" x="315.12" y="456.66" fill="#ffff00"/>
<use href="#tri" x="315.43" y="461.53" fill="#ffff00"/>
<use href="#tri" x="315.73" y="467.48" fill="#ffff00"/>
<use href="#tri" x="316.03" y="462.04" fill="#ffff00"/>
<use href="#tri" x="316.32" y="460.62" fill="#ffff00"/>
<use href="#tri" x="316.61" y="466.87" fill="#ffff00"/>
<use href="#tri" x="316.9" y="468.77" fill="#ffff00"/>
<use href="#tri" x="317.18" y="467.95" fill="#ffff00"/>
<use href="#tri" x="317.46" y="471.66" fill="#ffff00"/>
<use href="#tri" x="317.74" y="472.45" fill="#ffff00"/>
<use href="#tri" x="318.01" y="471.83" fill="#ffff00"/>
<use href="#tri" x="318.28" y="475.01" fill="#ffff00"/>
<use href="#tri" x="318.55" y="475.95" fill="#ffff00"/>
<use href="#tri" x="318.82" y="470.48" fill="#ffff00"/>
<use href="#tri" x="319.34" y="477.47" fill="#ffff00"/>
<use href="#tri" x="319.6" y="477.01" fill="#ffff00"/>
<use href="#tri" x="319.86" y="477.33" fill="#ffff00"/>
<polyline points="201.4,373.17 219.19,373.92 229.6,374.67 236.98,375.42 242.71,376.17 247.39,376.91 251.35,377.66 254.77,378.41 257.8,379.16 260.5,379.91 262.95,380.66 265.18,381.41 267.23,382.15 269.14,382.9 270.91,383.65 272.56,384.4 274.12,385.15 275.59,385.9 276.97,386.65 278.29,387.39 279.54,388.14 280.74,388.89 281.88,389.64 282.97,390.39 284.02,391.14 285.02,391.89 285.99,392.63 286.93,393.38 287.83,394.13 288.7,394.88 289.54,395.63 290.35,396.38 291.14,397.13 291.91,397.87 292.65,398.62 293.38,399.37 294.08,400.12 294.77,400.87 295.43,401.62 296.08,402.36 296.72,403.11 297.33,403.86 297.94,404.61 298.53,405.36 299.1,406.11 299.67,406.86 300.22,407.6 300.76,408.35 301.29,409.1 301.81,409.85 302.32,410.6 302.82,411.35 303.3,412.1 303.78,412.84 304.26,413.59 304.72,414.34 305.17,415.09 305.62,415.84 306.06,416.59 306.49,417.34 306.91,418.08 307.33,418.83 307.74,419.58 308.15,420.33 308.54,421.08 308.94,421.83 309.32,422.58 309.7,423.32 310.08,424.07 310.45,424.82 310.81,425.57 311.17,426.32 311.52,427.07 311.87,427.82 312.22,428.56 312.56,429.31 312.89,430.06 313.22,430.81 313.55,431.56 313.87,432.31 314.19,433.06 314.51,433.8 314.82,434.55 315.12,435.3 315.43,436.05 315.73,436.8 316.03,437.55 316.32,438.3 316.61,439.04 316.9,439.79 317.18,440.54 317.46,441.29 317.74,442.04 318.01,442.79 318.28,443.54 318.55,444.28 318.82,445.03" fill="none" stroke="#ff1414" stroke-width="1.0" stroke-linejoin="round"/>
</g>
<rect x="197.35" y="468.4" width="58.55" height="24.6" fill="#fff" fill-opacity="0.85" stroke="#d4d4d4" stroke-width="0.6"/>
<line x1="198.8" y1="471.7" x2="207.4" y2="471.7" stroke="#ff8a8a" stroke-width="0.9"/>
<circle cx="203" cy="477.8" r="1.45" fill="#0000ff"/>
<circle cx="203" cy="483.7" r="1.45" fill="#008000"/>
<path d="M203,488.05 L204.45,490.85 L201.55,490.85 Z" fill="#ffff00"/>
<path d="M195.6,356.5H336.7V495.3H195.6Z" fill="none" stroke="#8e8e8e" stroke-width="1"/>
<path d="M201.4,495.3v2.2M219.19,495.3v1.3M229.6,495.3v1.3M236.98,495.3v1.3M242.71,495.3v1.3M247.39,495.3v1.3M251.35,495.3v1.3M254.77,495.3v1.3M257.8,495.3v1.3M260.5,495.3v2.2M278.29,495.3v1.3M288.7,495.3v1.3M296.08,495.3v1.3M301.81,495.3v1.3M306.49,495.3v1.3M310.45,495.3v1.3M313.87,495.3v1.3M316.9,495.3v1.3M319.6,495.3v2.2M195.6,493.14h-1.3M195.6,489.66h-1.3M195.6,486.97h-1.3M195.6,484.77h-1.3M195.6,482.91h-1.3M195.6,481.29h-1.3M195.6,479.87h-1.3M195.6,478.6h-2.2M195.6,470.23h-1.3M195.6,465.34h-1.3M195.6,461.86h-1.3M195.6,459.17h-1.3M195.6,456.97h-1.3M195.6,455.11h-1.3M195.6,453.49h-1.3M195.6,452.07h-1.3M195.6,450.8h-2.2M195.6,442.43h-1.3M195.6,437.54h-1.3M195.6,434.06h-1.3M195.6,431.37h-1.3M195.6,429.17h-1.3M195.6,427.31h-1.3M195.6,425.69h-1.3M195.6,424.27h-1.3M195.6,423h-2.2M195.6,414.63h-1.3M195.6,409.74h-1.3M195.6,406.26h-1.3M195.6,403.57h-1.3M195.6,401.37h-1.3M195.6,399.51h-1.3M195.6,397.89h-1.3M195.6,396.47h-1.3M195.6,395.2h-2.2M195.6,386.83h-1.3M195.6,381.94h-1.3M195.6,378.46h-1.3M195.6,375.77h-1.3M195.6,373.57h-1.3M195.6,371.71h-1.3M195.6,370.09h-1.3M195.6,368.67h-1.3M195.6,367.4h-2.2M195.6,359.03h-1.3" stroke="#707070" stroke-width="0.55" fill="none"/>
<clipPath id="cj"><rect x="370.8" y="356.5" width="141.6" height="138.8"/></clipPath>
<g clip-path="url(#cj)">
<circle cx="376.6" cy="399.72" r="1.6" fill="#0000ff"/>
<circle cx="394.36" cy="380.23" r="1.6" fill="#0000ff"/>
<circle cx="404.75" cy="380.63" r="1.6" fill="#0000ff"/>
<circle cx="412.12" cy="380.34" r="1.6" fill="#0000ff"/>
<circle cx="417.84" cy="378.21" r="1.6" fill="#0000ff"/>
<circle cx="422.51" cy="379.72" r="1.6" fill="#0000ff"/>
<circle cx="426.46" cy="379.03" r="1.6" fill="#0000ff"/>
<circle cx="429.88" cy="378.98" r="1.6" fill="#0000ff"/>
<circle cx="432.9" cy="378.96" r="1.6" fill="#0000ff"/>
<circle cx="435.6" cy="378.46" r="1.6" fill="#0000ff"/>
<circle cx="438.04" cy="379.98" r="1.6" fill="#0000ff"/>
<circle cx="440.27" cy="380" r="1.6" fill="#0000ff"/>
<circle cx="442.32" cy="380.24" r="1.6" fill="#0000ff"/>
<circle cx="444.22" cy="381.45" r="1.6" fill="#0000ff"/>
<circle cx="445.99" cy="381.1" r="1.6" fill="#0000ff"/>
<circle cx="447.64" cy="381.79" r="1.6" fill="#0000ff"/>
<circle cx="449.2" cy="381.98" r="1.6" fill="#0000ff"/>
<circle cx="450.66" cy="382.26" r="1.6" fill="#0000ff"/>
<circle cx="452.05" cy="382.6" r="1.6" fill="#0000ff"/>
<circle cx="453.36" cy="383.6" r="1.6" fill="#0000ff"/>
<circle cx="454.61" cy="383.61" r="1.6" fill="#0000ff"/>
<circle cx="455.8" cy="384.98" r="1.6" fill="#0000ff"/>
<circle cx="456.94" cy="385.17" r="1.6" fill="#0000ff"/>
<circle cx="458.03" cy="385.83" r="1.6" fill="#0000ff"/>
<circle cx="459.08" cy="386.78" r="1.6" fill="#0000ff"/>
<circle cx="460.08" cy="387.36" r="1.6" fill="#0000ff"/>
<circle cx="461.05" cy="387.94" r="1.6" fill="#0000ff"/>
<circle cx="461.98" cy="389.17" r="1.6" fill="#0000ff"/>
<circle cx="462.88" cy="389.02" r="1.6" fill="#0000ff"/>
<circle cx="463.75" cy="389.51" r="1.6" fill="#0000ff"/>
<circle cx="464.59" cy="390.21" r="1.6" fill="#0000ff"/>
<circle cx="465.4" cy="391.51" r="1.6" fill="#0000ff"/>
<circle cx="466.19" cy="392" r="1.6" fill="#0000ff"/>
<circle cx="466.96" cy="393.5" r="1.6" fill="#0000ff"/>
<circle cx="467.7" cy="393.72" r="1.6" fill="#0000ff"/>
<circle cx="468.42" cy="394.65" r="1.6" fill="#0000ff"/>
<circle cx="469.12" cy="396.23" r="1.6" fill="#0000ff"/>
<circle cx="469.81" cy="396.38" r="1.6" fill="#0000ff"/>
<circle cx="470.47" cy="397.26" r="1.6" fill="#0000ff"/>
<circle cx="471.12" cy="398.68" r="1.6" fill="#0000ff"/>
<circle cx="471.75" cy="399.1" r="1.6" fill="#0000ff"/>
<circle cx="472.37" cy="399.9" r="1.6" fill="#0000ff"/>
<circle cx="472.97" cy="401.37" r="1.6" fill="#0000ff"/>
<circle cx="473.56" cy="402.44" r="1.6" fill="#0000ff"/>
<circle cx="474.14" cy="403.66" r="1.6" fill="#0000ff"/>
<circle cx="474.7" cy="403.71" r="1.6" fill="#0000ff"/>
<circle cx="475.25" cy="405.04" r="1.6" fill="#0000ff"/>
<circle cx="475.79" cy="407.24" r="1.6" fill="#0000ff"/>
<circle cx="476.32" cy="408.14" r="1.6" fill="#0000ff"/>
<circle cx="476.84" cy="411.52" r="1.6" fill="#0000ff"/>
<circle cx="477.35" cy="409.3" r="1.6" fill="#0000ff"/>
<circle cx="477.84" cy="412.5" r="1.6" fill="#0000ff"/>
<circle cx="480.2" cy="416" r="1.6" fill="#0000ff"/>
<circle cx="481.08" cy="420.54" r="1.6" fill="#0000ff"/>
<circle cx="481.51" cy="427.9" r="1.6" fill="#0000ff"/>
<circle cx="482.35" cy="430.12" r="1.6" fill="#0000ff"/>
<circle cx="483.95" cy="433.73" r="1.6" fill="#0000ff"/>
<circle cx="484.72" cy="434.49" r="1.6" fill="#0000ff"/>
<circle cx="485.09" cy="433.95" r="1.6" fill="#0000ff"/>
<circle cx="485.82" cy="441.34" r="1.6" fill="#0000ff"/>
<circle cx="486.88" cy="443.58" r="1.6" fill="#0000ff"/>
<circle cx="487.9" cy="447.57" r="1.6" fill="#0000ff"/>
<circle cx="488.23" cy="439.65" r="1.6" fill="#0000ff"/>
<circle cx="489.2" cy="447.29" r="1.6" fill="#0000ff"/>
<circle cx="489.52" cy="446.43" r="1.6" fill="#0000ff"/>
<circle cx="490.13" cy="449.64" r="1.6" fill="#0000ff"/>
<circle cx="491.32" cy="457.03" r="1.6" fill="#0000ff"/>
<circle cx="491.61" cy="451" r="1.6" fill="#0000ff"/>
<circle cx="492.46" cy="453.85" r="1.6" fill="#0000ff"/>
<circle cx="492.74" cy="458.73" r="1.6" fill="#0000ff"/>
<circle cx="494.85" cy="460.54" r="1.6" fill="#0000ff"/>
<circle cx="495.11" cy="464.11" r="1.6" fill="#0000ff"/>
<circle cx="495.85" cy="470.91" r="1.6" fill="#0000ff"/>
<circle cx="496.09" cy="460.58" r="1.6" fill="#0000ff"/>
<circle cx="497.5" cy="459.66" r="1.6" fill="#0000ff"/>
<circle cx="498.18" cy="458.28" r="1.6" fill="#0000ff"/>
<circle cx="498.4" cy="464.03" r="1.6" fill="#0000ff"/>
<circle cx="498.62" cy="469.46" r="1.6" fill="#0000ff"/>
<circle cx="498.84" cy="464.57" r="1.6" fill="#0000ff"/>
<circle cx="499.06" cy="457.32" r="1.6" fill="#0000ff"/>
<circle cx="499.48" cy="463.43" r="1.6" fill="#0000ff"/>
<circle cx="499.7" cy="462.39" r="1.6" fill="#0000ff"/>
<circle cx="500.32" cy="470.46" r="1.6" fill="#0000ff"/>
<circle cx="500.93" cy="465.21" r="1.6" fill="#0000ff"/>
<circle cx="501.32" cy="472.29" r="1.6" fill="#0000ff"/>
<circle cx="501.91" cy="467.6" r="1.6" fill="#0000ff"/>
<circle cx="502.1" cy="461.05" r="1.6" fill="#0000ff"/>
<circle cx="502.85" cy="473.75" r="1.6" fill="#0000ff"/>
<circle cx="503.04" cy="475.62" r="1.6" fill="#0000ff"/>
<circle cx="503.22" cy="461.21" r="1.6" fill="#0000ff"/>
<circle cx="503.59" cy="467.09" r="1.6" fill="#0000ff"/>
<circle cx="503.94" cy="454.41" r="1.6" fill="#0000ff"/>
<circle cx="504.12" cy="476.47" r="1.6" fill="#0000ff"/>
<circle cx="504.47" cy="476.81" r="1.6" fill="#0000ff"/>
<circle cx="504.65" cy="467.73" r="1.6" fill="#0000ff"/>
<circle cx="504.82" cy="474.31" r="1.6" fill="#0000ff"/>
<circle cx="504.99" cy="470.37" r="1.6" fill="#0000ff"/>
<circle cx="505.16" cy="475.9" r="1.6" fill="#0000ff"/>
<circle cx="505.5" cy="472.65" r="1.6" fill="#0000ff"/>
<circle cx="505.83" cy="476.98" r="1.6" fill="#0000ff"/>
<circle cx="505.99" cy="470.61" r="1.6" fill="#0000ff"/>
<circle cx="506.16" cy="467.29" r="1.6" fill="#0000ff"/>
<circle cx="506.48" cy="468.04" r="1.6" fill="#0000ff"/>
<circle cx="506.64" cy="464.54" r="1.6" fill="#0000ff"/>
<circle cx="506.8" cy="466.14" r="1.6" fill="#0000ff"/>
<circle cx="506.96" cy="477.16" r="1.6" fill="#0000ff"/>
<rect x="375" y="398.15" width="3.2" height="3.2" fill="#008000"/>
<rect x="392.76" y="378.85" width="3.2" height="3.2" fill="#008000"/>
<rect x="403.15" y="378.64" width="3.2" height="3.2" fill="#008000"/>
<rect x="410.52" y="378.23" width="3.2" height="3.2" fill="#008000"/>
<rect x="416.24" y="376.33" width="3.2" height="3.2" fill="#008000"/>
<rect x="420.91" y="377.04" width="3.2" height="3.2" fill="#008000"/>
<rect x="424.86" y="377.78" width="3.2" height="3.2" fill="#008000"/>
<rect x="428.28" y="377.22" width="3.2" height="3.2" fill="#008000"/>
<rect x="431.3" y="377.12" width="3.2" height="3.2" fill="#008000"/>
<rect x="434" y="376.92" width="3.2" height="3.2" fill="#008000"/>
<rect x="436.44" y="377.73" width="3.2" height="3.2" fill="#008000"/>
<rect x="438.67" y="378.05" width="3.2" height="3.2" fill="#008000"/>
<rect x="440.72" y="378.21" width="3.2" height="3.2" fill="#008000"/>
<rect x="442.62" y="378.63" width="3.2" height="3.2" fill="#008000"/>
<rect x="444.39" y="379.04" width="3.2" height="3.2" fill="#008000"/>
<rect x="446.04" y="379.89" width="3.2" height="3.2" fill="#008000"/>
<rect x="447.6" y="380.04" width="3.2" height="3.2" fill="#008000"/>
<rect x="449.06" y="380.59" width="3.2" height="3.2" fill="#008000"/>
<rect x="450.45" y="380.91" width="3.2" height="3.2" fill="#008000"/>
<rect x="451.76" y="381.61" width="3.2" height="3.2" fill="#008000"/>
<rect x="453.01" y="382.51" width="3.2" height="3.2" fill="#008000"/>
<rect x="454.2" y="383.26" width="3.2" height="3.2" fill="#008000"/>
<rect x="455.34" y="383.69" width="3.2" height="3.2" fill="#008000"/>
<rect x="456.43" y="383.62" width="3.2" height="3.2" fill="#008000"/>
<rect x="457.48" y="384.77" width="3.2" height="3.2" fill="#008000"/>
<rect x="458.48" y="385.11" width="3.2" height="3.2" fill="#008000"/>
<rect x="459.45" y="386.11" width="3.2" height="3.2" fill="#008000"/>
<rect x="460.38" y="386.52" width="3.2" height="3.2" fill="#008000"/>
<rect x="461.28" y="387.42" width="3.2" height="3.2" fill="#008000"/>
<rect x="462.15" y="387.71" width="3.2" height="3.2" fill="#008000"/>
<rect x="462.99" y="388.66" width="3.2" height="3.2" fill="#008000"/>
<rect x="463.8" y="390.24" width="3.2" height="3.2" fill="#008000"/>
<rect x="464.59" y="390.5" width="3.2" height="3.2" fill="#008000"/>
<rect x="465.36" y="391.42" width="3.2" height="3.2" fill="#008000"/>
<rect x="466.1" y="391.92" width="3.2" height="3.2" fill="#008000"/>
<rect x="466.82" y="393.19" width="3.2" height="3.2" fill="#008000"/>
<rect x="467.52" y="393.92" width="3.2" height="3.2" fill="#008000"/>
<rect x="468.21" y="394.35" width="3.2" height="3.2" fill="#008000"/>
<rect x="468.87" y="395.47" width="3.2" height="3.2" fill="#008000"/>
<rect x="469.52" y="396.62" width="3.2" height="3.2" fill="#008000"/>
<rect x="470.15" y="396.74" width="3.2" height="3.2" fill="#008000"/>
<rect x="470.77" y="397.81" width="3.2" height="3.2" fill="#008000"/>
<rect x="471.37" y="399.37" width="3.2" height="3.2" fill="#008000"/>
<rect x="471.96" y="400.3" width="3.2" height="3.2" fill="#008000"/>
<rect x="472.54" y="401.75" width="3.2" height="3.2" fill="#008000"/>
<rect x="474.19" y="404.93" width="3.2" height="3.2" fill="#008000"/>
<rect x="475.24" y="408.18" width="3.2" height="3.2" fill="#008000"/>
<rect x="476.73" y="413.17" width="3.2" height="3.2" fill="#008000"/>
<rect x="477.21" y="412.71" width="3.2" height="3.2" fill="#008000"/>
<rect x="478.14" y="418.6" width="3.2" height="3.2" fill="#008000"/>
<rect x="479.04" y="420.48" width="3.2" height="3.2" fill="#008000"/>
<rect x="480.33" y="424.31" width="3.2" height="3.2" fill="#008000"/>
<rect x="481.16" y="426.67" width="3.2" height="3.2" fill="#008000"/>
<rect x="481.56" y="426.29" width="3.2" height="3.2" fill="#008000"/>
<rect x="481.96" y="433.42" width="3.2" height="3.2" fill="#008000"/>
<rect x="482.35" y="433.43" width="3.2" height="3.2" fill="#008000"/>
<rect x="483.86" y="432.63" width="3.2" height="3.2" fill="#008000"/>
<rect x="484.22" y="441.6" width="3.2" height="3.2" fill="#008000"/>
<rect x="484.58" y="435.84" width="3.2" height="3.2" fill="#008000"/>
<rect x="484.94" y="436.58" width="3.2" height="3.2" fill="#008000"/>
<rect x="485.28" y="441.01" width="3.2" height="3.2" fill="#008000"/>
<rect x="485.97" y="444.92" width="3.2" height="3.2" fill="#008000"/>
<rect x="486.3" y="444.61" width="3.2" height="3.2" fill="#008000"/>
<rect x="486.63" y="441.2" width="3.2" height="3.2" fill="#008000"/>
<rect x="486.96" y="442.36" width="3.2" height="3.2" fill="#008000"/>
<rect x="488.84" y="447.83" width="3.2" height="3.2" fill="#008000"/>
<rect x="489.14" y="459.56" width="3.2" height="3.2" fill="#008000"/>
<rect x="489.72" y="455.02" width="3.2" height="3.2" fill="#008000"/>
<rect x="490.3" y="457.43" width="3.2" height="3.2" fill="#008000"/>
<rect x="490.86" y="452.4" width="3.2" height="3.2" fill="#008000"/>
<rect x="491.14" y="451.94" width="3.2" height="3.2" fill="#008000"/>
<rect x="491.41" y="457.32" width="3.2" height="3.2" fill="#008000"/>
<rect x="491.69" y="454.65" width="3.2" height="3.2" fill="#008000"/>
<rect x="491.95" y="454.58" width="3.2" height="3.2" fill="#008000"/>
<rect x="492.74" y="454.46" width="3.2" height="3.2" fill="#008000"/>
<rect x="493" y="448.93" width="3.2" height="3.2" fill="#008000"/>
<rect x="493.51" y="466.53" width="3.2" height="3.2" fill="#008000"/>
<rect x="493.76" y="456.7" width="3.2" height="3.2" fill="#008000"/>
<rect x="494" y="465.91" width="3.2" height="3.2" fill="#008000"/>
<rect x="494.25" y="466.15" width="3.2" height="3.2" fill="#008000"/>
<rect x="494.49" y="459.18" width="3.2" height="3.2" fill="#008000"/>
<rect x="494.73" y="458.61" width="3.2" height="3.2" fill="#008000"/>
<rect x="495.21" y="456.88" width="3.2" height="3.2" fill="#008000"/>
<rect x="496.36" y="466.7" width="3.2" height="3.2" fill="#008000"/>
<rect x="496.58" y="468.5" width="3.2" height="3.2" fill="#008000"/>
<rect x="497.02" y="473.64" width="3.2" height="3.2" fill="#008000"/>
<rect x="497.24" y="473.15" width="3.2" height="3.2" fill="#008000"/>
<rect x="497.67" y="465.75" width="3.2" height="3.2" fill="#008000"/>
<rect x="497.88" y="466.27" width="3.2" height="3.2" fill="#008000"/>
<rect x="498.3" y="469.53" width="3.2" height="3.2" fill="#008000"/>
<rect x="498.92" y="458.3" width="3.2" height="3.2" fill="#008000"/>
<rect x="499.12" y="460.51" width="3.2" height="3.2" fill="#008000"/>
<rect x="499.33" y="462.64" width="3.2" height="3.2" fill="#008000"/>
<rect x="499.52" y="471.8" width="3.2" height="3.2" fill="#008000"/>
<rect x="499.92" y="470.45" width="3.2" height="3.2" fill="#008000"/>
<rect x="500.11" y="465.92" width="3.2" height="3.2" fill="#008000"/>
<rect x="500.31" y="460.43" width="3.2" height="3.2" fill="#008000"/>
<rect x="500.5" y="451.2" width="3.2" height="3.2" fill="#008000"/>
<rect x="500.88" y="474.02" width="3.2" height="3.2" fill="#008000"/>
<rect x="501.44" y="473.15" width="3.2" height="3.2" fill="#008000"/>
<rect x="501.62" y="458.18" width="3.2" height="3.2" fill="#008000"/>
<rect x="501.8" y="461.5" width="3.2" height="3.2" fill="#008000"/>
<rect x="501.99" y="472.5" width="3.2" height="3.2" fill="#008000"/>
<rect x="502.34" y="452.94" width="3.2" height="3.2" fill="#008000"/>
<rect x="502.52" y="475.02" width="3.2" height="3.2" fill="#008000"/>
<rect x="502.7" y="453.67" width="3.2" height="3.2" fill="#008000"/>
<rect x="503.05" y="469.57" width="3.2" height="3.2" fill="#008000"/>
<rect x="503.39" y="461.34" width="3.2" height="3.2" fill="#008000"/>
<rect x="503.73" y="476.14" width="3.2" height="3.2" fill="#008000"/>
<rect x="503.9" y="459.11" width="3.2" height="3.2" fill="#008000"/>
<rect x="504.23" y="476.12" width="3.2" height="3.2" fill="#008000"/>
<rect x="504.39" y="454.84" width="3.2" height="3.2" fill="#008000"/>
<rect x="504.56" y="468.08" width="3.2" height="3.2" fill="#008000"/>
<rect x="504.88" y="463.14" width="3.2" height="3.2" fill="#008000"/>
<rect x="505.36" y="473.72" width="3.2" height="3.2" fill="#008000"/>
<use href="#tri" x="376.6" y="399.61" fill="#ffff00"/>
<use href="#tri" x="394.36" y="379.92" fill="#ffff00"/>
<use href="#tri" x="404.75" y="380.13" fill="#ffff00"/>
<use href="#tri" x="412.12" y="378.97" fill="#ffff00"/>
<use href="#tri" x="417.84" y="378.5" fill="#ffff00"/>
<use href="#tri" x="422.51" y="378.7" fill="#ffff00"/>
<use href="#tri" x="426.46" y="378.99" fill="#ffff00"/>
<use href="#tri" x="429.88" y="378.65" fill="#ffff00"/>
<use href="#tri" x="432.9" y="378.97" fill="#ffff00"/>
<use href="#tri" x="435.6" y="378.75" fill="#ffff00"/>
<use href="#tri" x="438.04" y="381.43" fill="#ffff00"/>
<use href="#tri" x="440.27" y="381.89" fill="#ffff00"/>
<use href="#tri" x="442.32" y="379.95" fill="#ffff00"/>
<use href="#tri" x="444.22" y="380.64" fill="#ffff00"/>
<use href="#tri" x="445.99" y="382.18" fill="#ffff00"/>
<use href="#tri" x="447.64" y="383.55" fill="#ffff00"/>
<use href="#tri" x="449.2" y="383.07" fill="#ffff00"/>
<use href="#tri" x="450.66" y="383.28" fill="#ffff00"/>
<use href="#tri" x="452.05" y="383.41" fill="#ffff00"/>
<use href="#tri" x="453.36" y="383.9" fill="#ffff00"/>
<use href="#tri" x="454.61" y="384.71" fill="#ffff00"/>
<use href="#tri" x="455.8" y="385.32" fill="#ffff00"/>
<use href="#tri" x="456.94" y="386.23" fill="#ffff00"/>
<use href="#tri" x="458.03" y="384.91" fill="#ffff00"/>
<use href="#tri" x="459.08" y="387.82" fill="#ffff00"/>
<use href="#tri" x="460.08" y="387.29" fill="#ffff00"/>
<use href="#tri" x="461.05" y="388.83" fill="#ffff00"/>
<use href="#tri" x="461.98" y="389.12" fill="#ffff00"/>
<use href="#tri" x="462.88" y="389.85" fill="#ffff00"/>
<use href="#tri" x="463.75" y="391.15" fill="#ffff00"/>
<use href="#tri" x="464.59" y="390.96" fill="#ffff00"/>
<use href="#tri" x="465.4" y="393.21" fill="#ffff00"/>
<use href="#tri" x="466.19" y="394.02" fill="#ffff00"/>
<use href="#tri" x="466.96" y="393.78" fill="#ffff00"/>
<use href="#tri" x="467.7" y="394.28" fill="#ffff00"/>
<use href="#tri" x="468.42" y="396.96" fill="#ffff00"/>
<use href="#tri" x="469.12" y="396.47" fill="#ffff00"/>
<use href="#tri" x="469.81" y="397.38" fill="#ffff00"/>
<use href="#tri" x="470.47" y="397.07" fill="#ffff00"/>
<use href="#tri" x="471.12" y="399.06" fill="#ffff00"/>
<use href="#tri" x="471.75" y="398.61" fill="#ffff00"/>
<use href="#tri" x="472.37" y="400.57" fill="#ffff00"/>
<use href="#tri" x="472.97" y="401.76" fill="#ffff00"/>
<use href="#tri" x="473.56" y="401.98" fill="#ffff00"/>
<use href="#tri" x="474.14" y="404.14" fill="#ffff00"/>
<use href="#tri" x="475.25" y="405.84" fill="#ffff00"/>
<use href="#tri" x="476.32" y="406.85" fill="#ffff00"/>
<use href="#tri" x="477.35" y="409.86" fill="#ffff00"/>
<use href="#tri" x="478.33" y="415.42" fill="#ffff00"/>
<use href="#tri" x="479.28" y="416.49" fill="#ffff00"/>
<use href="#tri" x="480.64" y="423.21" fill="#ffff00"/>
<use href="#tri" x="481.08" y="422.82" fill="#ffff00"/>
<use href="#tri" x="481.93" y="426.49" fill="#ffff00"/>
<use href="#tri" x="482.35" y="427.99" fill="#ffff00"/>
<use href="#tri" x="482.76" y="427.37" fill="#ffff00"/>
<use href="#tri" x="483.16" y="429.12" fill="#ffff00"/>
<use href="#tri" x="484.34" y="435.9" fill="#ffff00"/>
<use href="#tri" x="485.09" y="434.91" fill="#ffff00"/>
<use href="#tri" x="485.46" y="432.68" fill="#ffff00"/>
<use href="#tri" x="485.82" y="442.65" fill="#ffff00"/>
<use href="#tri" x="486.18" y="440.96" fill="#ffff00"/>
<use href="#tri" x="486.54" y="437.54" fill="#ffff00"/>
<use href="#tri" x="486.88" y="446.44" fill="#ffff00"/>
<use href="#tri" x="487.9" y="449.76" fill="#ffff00"/>
<use href="#tri" x="488.23" y="442.79" fill="#ffff00"/>
<use href="#tri" x="489.2" y="446.74" fill="#ffff00"/>
<use href="#tri" x="490.13" y="453.23" fill="#ffff00"/>
<use href="#tri" x="490.44" y="452.35" fill="#ffff00"/>
<use href="#tri" x="490.74" y="458.86" fill="#ffff00"/>
<use href="#tri" x="491.32" y="455.99" fill="#ffff00"/>
<use href="#tri" x="491.61" y="450.08" fill="#ffff00"/>
<use href="#tri" x="491.9" y="455.23" fill="#ffff00"/>
<use href="#tri" x="492.18" y="458.02" fill="#ffff00"/>
<use href="#tri" x="492.74" y="457.67" fill="#ffff00"/>
<use href="#tri" x="493.29" y="457.16" fill="#ffff00"/>
<use href="#tri" x="493.55" y="456.9" fill="#ffff00"/>
<use href="#tri" x="494.34" y="458.5" fill="#ffff00"/>
<use href="#tri" x="494.6" y="454.29" fill="#ffff00"/>
<use href="#tri" x="494.85" y="462.06" fill="#ffff00"/>
<use href="#tri" x="495.36" y="451.26" fill="#ffff00"/>
<use href="#tri" x="495.6" y="460.18" fill="#ffff00"/>
<use href="#tri" x="495.85" y="468.54" fill="#ffff00"/>
<use href="#tri" x="496.57" y="463.82" fill="#ffff00"/>
<use href="#tri" x="496.81" y="456.73" fill="#ffff00"/>
<use href="#tri" x="497.04" y="454.25" fill="#ffff00"/>
<use href="#tri" x="497.27" y="470.25" fill="#ffff00"/>
<use href="#tri" x="497.5" y="468.33" fill="#ffff00"/>
<use href="#tri" x="497.73" y="469.79" fill="#ffff00"/>
<use href="#tri" x="498.18" y="467.08" fill="#ffff00"/>
<use href="#tri" x="498.4" y="468.89" fill="#ffff00"/>
<use href="#tri" x="498.84" y="468.1" fill="#ffff00"/>
<use href="#tri" x="499.06" y="459.31" fill="#ffff00"/>
<use href="#tri" x="499.48" y="465.95" fill="#ffff00"/>
<use href="#tri" x="499.7" y="465.5" fill="#ffff00"/>
<use href="#tri" x="500.11" y="476.97" fill="#ffff00"/>
<use href="#tri" x="500.72" y="459" fill="#ffff00"/>
<use href="#tri" x="501.12" y="470.64" fill="#ffff00"/>
<use href="#tri" x="501.52" y="471.97" fill="#ffff00"/>
<use href="#tri" x="501.91" y="468.87" fill="#ffff00"/>
<use href="#tri" x="502.1" y="454.41" fill="#ffff00"/>
<use href="#tri" x="502.85" y="460.35" fill="#ffff00"/>
<use href="#tri" x="503.04" y="474.75" fill="#ffff00"/>
<use href="#tri" x="503.4" y="473.55" fill="#ffff00"/>
<use href="#tri" x="503.59" y="476.46" fill="#ffff00"/>
<use href="#tri" x="504.3" y="453.86" fill="#ffff00"/>
<use href="#tri" x="504.65" y="460.31" fill="#ffff00"/>
<use href="#tri" x="504.99" y="466.33" fill="#ffff00"/>
<use href="#tri" x="505.5" y="468.46" fill="#ffff00"/>
<use href="#tri" x="506.16" y="466.4" fill="#ffff00"/>
<use href="#tri" x="506.32" y="463.8" fill="#ffff00"/>
<use href="#tri" x="506.48" y="469.92" fill="#ffff00"/>
<use href="#tri" x="506.96" y="477.18" fill="#ffff00"/>
<use href="#tri" x="488.88" y="485.83" fill="#ffff00"/>
<polyline points="376.6,373.98 394.36,374.68 404.75,375.38 412.12,376.08 417.84,376.78 422.51,377.48 426.46,378.18 429.88,378.88 432.9,379.58 435.6,380.28 438.04,380.98 440.27,381.68 442.32,382.38 444.22,383.08 445.99,383.78 447.64,384.48 449.2,385.18 450.66,385.88 452.05,386.58 453.36,387.28 454.61,387.98 455.8,388.68 456.94,389.38 458.03,390.08 459.08,390.78 460.08,391.48 461.05,392.18 461.98,392.88 462.88,393.58 463.75,394.28 464.59,394.98 465.4,395.68 466.19,396.38 466.96,397.09 467.7,397.79 468.42,398.49 469.12,399.19 469.81,399.89 470.47,400.59 471.12,401.29 471.75,401.99 472.37,402.69 472.97,403.39 473.56,404.09 474.14,404.79 474.7,405.49 475.25,406.19 475.79,406.89 476.32,407.59 476.84,408.29 477.35,408.99 477.84,409.69 478.33,410.39 478.81,411.09 479.28,411.79 479.74,412.49 480.2,413.19 480.64,413.89 481.08,414.59 481.51,415.29 481.93,415.99 482.35,416.69 482.76,417.39 483.16,418.09 483.56,418.79 483.95,419.49 484.34,420.19 484.72,420.89 485.09,421.59 485.46,422.29 485.82,422.99 486.18,423.69 486.54,424.4 486.88,425.1 487.23,425.8 487.57,426.5 487.9,427.2 488.23,427.9 488.56,428.6 488.88,429.3 489.2,430 489.52,430.7 489.83,431.4 490.13,432.1 490.44,432.8 490.74,433.5 491.03,434.2 491.32,434.9 491.61,435.6 491.9,436.3 492.18,437 492.46,437.7 492.74,438.4 493.01,439.1 493.29,439.8 493.55,440.5 493.82,441.2 494.08,441.9 494.34,442.6 494.6,443.3 494.85,444 495.11,444.7 495.36,445.4 495.6,446.1 495.85,446.8 496.09,447.5 496.33,448.2 496.57,448.9 496.81,449.6 497.04,450.3 497.27,451 497.5,451.71 497.73,452.41 497.96,453.11 498.18,453.81 498.4,454.51 498.62,455.21 498.84,455.91 499.06,456.61 499.27,457.31 499.48,458.01 499.7,458.71 499.9,459.41 500.11,460.11 500.32,460.81 500.52,461.51 500.72,462.21 500.93,462.91 501.12,463.61 501.32,464.31 501.52,465.01 501.71,465.71 501.91,466.41 502.1,467.11 502.29,467.81 502.48,468.51 502.67,469.21 502.85,469.91 503.04,470.61 503.22,471.31 503.4,472.01 503.59,472.71 503.76,473.41 503.94,474.11 504.12,474.81 504.3,475.51 504.47,476.21 504.65,476.91 504.82,477.61 504.99,478.31 505.16,479.02 505.33,479.72 505.5,480.42 505.66,481.12 505.83,481.82 505.99,482.52 506.16,483.22 506.32,483.92 506.48,484.62 506.64,485.32 506.8,486.02 506.96,486.72" fill="none" stroke="#ff1414" stroke-width="1.0" stroke-linejoin="round"/>
</g>
<rect x="372.55" y="468.4" width="58.55" height="24.6" fill="#fff" fill-opacity="0.85" stroke="#d4d4d4" stroke-width="0.6"/>
<line x1="374" y1="471.7" x2="382.6" y2="471.7" stroke="#ff8a8a" stroke-width="0.9"/>
<circle cx="378.2" cy="477.8" r="1.45" fill="#0000ff"/>
<circle cx="378.2" cy="483.7" r="1.45" fill="#008000"/>
<path d="M378.2,488.05 L379.65,490.85 L376.75,490.85 Z" fill="#ffff00"/>
<path d="M370.8,356.5H512.4V495.3H370.8Z" fill="none" stroke="#8e8e8e" stroke-width="1"/>
<path d="M376.6,495.3v2.2M394.36,495.3v1.3M404.75,495.3v1.3M412.12,495.3v1.3M417.84,495.3v1.3M422.51,495.3v1.3M426.46,495.3v1.3M429.88,495.3v1.3M432.9,495.3v1.3M435.6,495.3v2.2M453.36,495.3v1.3M463.75,495.3v1.3M471.12,495.3v1.3M476.84,495.3v1.3M481.51,495.3v1.3M485.46,495.3v1.3M488.88,495.3v1.3M491.9,495.3v1.3M494.6,495.3v2.2M512.36,495.3v1.3M370.8,493.14h-1.3M370.8,489.66h-1.3M370.8,486.97h-1.3M370.8,484.77h-1.3M370.8,482.91h-1.3M370.8,481.29h-1.3M370.8,479.87h-1.3M370.8,478.6h-2.2M370.8,470.23h-1.3M370.8,465.34h-1.3M370.8,461.86h-1.3M370.8,459.17h-1.3M370.8,456.97h-1.3M370.8,455.11h-1.3M370.8,453.49h-1.3M370.8,452.07h-1.3M370.8,450.8h-2.2M370.8,442.43h-1.3M370.8,437.54h-1.3M370.8,434.06h-1.3M370.8,431.37h-1.3M370.8,429.17h-1.3M370.8,427.31h-1.3M370.8,425.69h-1.3M370.8,424.27h-1.3M370.8,423h-2.2M370.8,414.63h-1.3M370.8,409.74h-1.3M370.8,406.26h-1.3M370.8,403.57h-1.3M370.8,401.37h-1.3M370.8,399.51h-1.3M370.8,397.89h-1.3M370.8,396.47h-1.3M370.8,395.2h-2.2M370.8,386.83h-1.3M370.8,381.94h-1.3M370.8,378.46h-1.3M370.8,375.77h-1.3M370.8,373.57h-1.3M370.8,371.71h-1.3M370.8,370.09h-1.3M370.8,368.67h-1.3M370.8,367.4h-2.2M370.8,359.03h-1.3" stroke="#707070" stroke-width="0.55" fill="none"/>
<g filter="url(#gs)">
<text x="39" y="125" font-size="4.3" fill="#262626" stroke="#262626" stroke-width="0.14" textLength="19" lengthAdjust="spacingAndGlyphs"><tspan font-style="italic">λ</tspan> = 0.106</text>
<text x="39" y="131.1" font-size="4.3" fill="#262626" stroke="#262626" stroke-width="0.14" textLength="43.7" lengthAdjust="spacingAndGlyphs">Empirical observation</text>
<text x="39" y="137" font-size="4.3" fill="#262626" stroke="#262626" stroke-width="0.14" textLength="35.1" lengthAdjust="spacingAndGlyphs">Prediction (10-m)</text>
<text x="39" y="142.85" font-size="4.3" fill="#262626" stroke="#262626" stroke-width="0.14" textLength="35.1" lengthAdjust="spacingAndGlyphs">Prediction (30-m)</text>
<text x="26" y="153.8" font-size="5.4" fill="#1e1e1e" stroke="#1e1e1e" stroke-width="0.22">10<tspan font-size="3.8" dy="-2.0">0</tspan></text>
<text x="84.85" y="153.8" font-size="5.4" fill="#1e1e1e" stroke="#1e1e1e" stroke-width="0.22">10<tspan font-size="3.8" dy="-2.0">1</tspan></text>
<text x="143.7" y="153.8" font-size="5.4" fill="#1e1e1e" stroke="#1e1e1e" stroke-width="0.22">10<tspan font-size="3.8" dy="-2.0">2</tspan></text>
<text x="20.9" y="21.15" font-size="5.4" fill="#1e1e1e" stroke="#1e1e1e" stroke-width="0.22" text-anchor="end">10<tspan font-size="3.8" dy="-2.0">−1</tspan></text>
<text x="20.9" y="48.95" font-size="5.4" fill="#1e1e1e" stroke="#1e1e1e" stroke-width="0.22" text-anchor="end">10<tspan font-size="3.8" dy="-2.0">−2</tspan></text>
<text x="20.9" y="76.75" font-size="5.4" fill="#1e1e1e" stroke="#1e1e1e" stroke-width="0.22" text-anchor="end">10<tspan font-size="3.8" dy="-2.0">−3</tspan></text>
<text x="20.9" y="104.55" font-size="5.4" fill="#1e1e1e" stroke="#1e1e1e" stroke-width="0.22" text-anchor="end">10<tspan font-size="3.8" dy="-2.0">−4</tspan></text>
<text x="20.9" y="132.35" font-size="5.4" fill="#1e1e1e" stroke="#1e1e1e" stroke-width="0.22" text-anchor="end">10<tspan font-size="3.8" dy="-2.0">−5</tspan></text>
<text x="94.98" y="5.5" font-size="8" fill="#111" stroke="#111" stroke-width="0.26" text-anchor="middle">M1 New York</text>
<text x="94.98" y="161.4" font-size="7.6" fill="#111" stroke="#111" stroke-width="0.24" text-anchor="middle" textLength="21.3" lengthAdjust="spacingAndGlyphs"><tspan font-style="italic">d</tspan>(<tspan font-style="italic">km</tspan>)</text>
<text transform="translate(6.2,77.55) rotate(-90)" font-size="7.6" fill="#111" stroke="#111" stroke-width="0.24" text-anchor="middle" textLength="14.4" lengthAdjust="spacingAndGlyphs"><tspan font-style="italic">P</tspan>(<tspan font-style="italic">d</tspan>)</text>
<text x="6.1" y="9.8" font-size="14" font-weight="bold" fill="#000" stroke="#000" stroke-width="0.45" textLength="15.8" lengthAdjust="spacingAndGlyphs">(a)</text>
<text x="211.9" y="125" font-size="4.3" fill="#262626" stroke="#262626" stroke-width="0.14" textLength="19" lengthAdjust="spacingAndGlyphs"><tspan font-style="italic">λ</tspan> = 0.088</text>
<text x="211.9" y="131.1" font-size="4.3" fill="#262626" stroke="#262626" stroke-width="0.14" textLength="43.7" lengthAdjust="spacingAndGlyphs">Empirical observation</text>
<text x="211.9" y="137" font-size="4.3" fill="#262626" stroke="#262626" stroke-width="0.14" textLength="35.1" lengthAdjust="spacingAndGlyphs">Prediction (10-m)</text>
<text x="211.9" y="142.85" font-size="4.3" fill="#262626" stroke="#262626" stroke-width="0.14" textLength="35.1" lengthAdjust="spacingAndGlyphs">Prediction (30-m)</text>
<text x="199.2" y="153.8" font-size="5.4" fill="#1e1e1e" stroke="#1e1e1e" stroke-width="0.22">10<tspan font-size="3.8" dy="-2.0">0</tspan></text>
<text x="258.1" y="153.8" font-size="5.4" fill="#1e1e1e" stroke="#1e1e1e" stroke-width="0.22">10<tspan font-size="3.8" dy="-2.0">1</tspan></text>
<text x="317" y="153.8" font-size="5.4" fill="#1e1e1e" stroke="#1e1e1e" stroke-width="0.22">10<tspan font-size="3.8" dy="-2.0">2</tspan></text>
<text x="193.8" y="21.15" font-size="5.4" fill="#1e1e1e" stroke="#1e1e1e" stroke-width="0.22" text-anchor="end">10<tspan font-size="3.8" dy="-2.0">−1</tspan></text>
<text x="193.8" y="48.95" font-size="5.4" fill="#1e1e1e" stroke="#1e1e1e" stroke-width="0.22" text-anchor="end">10<tspan font-size="3.8" dy="-2.0">−2</tspan></text>
<text x="193.8" y="76.75" font-size="5.4" fill="#1e1e1e" stroke="#1e1e1e" stroke-width="0.22" text-anchor="end">10<tspan font-size="3.8" dy="-2.0">−3</tspan></text>
<text x="193.8" y="104.55" font-size="5.4" fill="#1e1e1e" stroke="#1e1e1e" stroke-width="0.22" text-anchor="end">10<tspan font-size="3.8" dy="-2.0">−4</tspan></text>
<text x="193.8" y="132.35" font-size="5.4" fill="#1e1e1e" stroke="#1e1e1e" stroke-width="0.22" text-anchor="end">10<tspan font-size="3.8" dy="-2.0">−5</tspan></text>
<text x="268" y="5.5" font-size="8" fill="#111" stroke="#111" stroke-width="0.26" text-anchor="middle">M2 Los Angeles</text>
<text x="268" y="161.4" font-size="7.6" fill="#111" stroke="#111" stroke-width="0.24" text-anchor="middle" textLength="21.3" lengthAdjust="spacingAndGlyphs"><tspan font-style="italic">d</tspan>(<tspan font-style="italic">km</tspan>)</text>
<text transform="translate(179.1,77.55) rotate(-90)" font-size="7.6" fill="#111" stroke="#111" stroke-width="0.24" text-anchor="middle" textLength="14.4" lengthAdjust="spacingAndGlyphs"><tspan font-style="italic">P</tspan>(<tspan font-style="italic">d</tspan>)</text>
<text x="179.6" y="9.8" font-size="14" font-weight="bold" fill="#000" stroke="#000" stroke-width="0.45" textLength="16.8" lengthAdjust="spacingAndGlyphs">(b)</text>
<text x="383.1" y="125" font-size="4.3" fill="#262626" stroke="#262626" stroke-width="0.14" textLength="19" lengthAdjust="spacingAndGlyphs"><tspan font-style="italic">λ</tspan> = 0.072</text>
<text x="383.1" y="131.1" font-size="4.3" fill="#262626" stroke="#262626" stroke-width="0.14" textLength="43.7" lengthAdjust="spacingAndGlyphs">Empirical observation</text>
<text x="383.1" y="137" font-size="4.3" fill="#262626" stroke="#262626" stroke-width="0.14" textLength="35.1" lengthAdjust="spacingAndGlyphs">Prediction (10-m)</text>
<text x="383.1" y="142.85" font-size="4.3" fill="#262626" stroke="#262626" stroke-width="0.14" textLength="35.1" lengthAdjust="spacingAndGlyphs">Prediction (30-m)</text>
<text x="370" y="153.8" font-size="5.4" fill="#1e1e1e" stroke="#1e1e1e" stroke-width="0.22">10<tspan font-size="3.8" dy="-2.0">0</tspan></text>
<text x="429.1" y="153.8" font-size="5.4" fill="#1e1e1e" stroke="#1e1e1e" stroke-width="0.22">10<tspan font-size="3.8" dy="-2.0">1</tspan></text>
<text x="488.2" y="153.8" font-size="5.4" fill="#1e1e1e" stroke="#1e1e1e" stroke-width="0.22">10<tspan font-size="3.8" dy="-2.0">2</tspan></text>
<text x="365" y="21.15" font-size="5.4" fill="#1e1e1e" stroke="#1e1e1e" stroke-width="0.22" text-anchor="end">10<tspan font-size="3.8" dy="-2.0">−1</tspan></text>
<text x="365" y="48.95" font-size="5.4" fill="#1e1e1e" stroke="#1e1e1e" stroke-width="0.22" text-anchor="end">10<tspan font-size="3.8" dy="-2.0">−2</tspan></text>
<text x="365" y="76.75" font-size="5.4" fill="#1e1e1e" stroke="#1e1e1e" stroke-width="0.22" text-anchor="end">10<tspan font-size="3.8" dy="-2.0">−3</tspan></text>
<text x="365" y="104.55" font-size="5.4" fill="#1e1e1e" stroke="#1e1e1e" stroke-width="0.22" text-anchor="end">10<tspan font-size="3.8" dy="-2.0">−4</tspan></text>
<text x="365" y="132.35" font-size="5.4" fill="#1e1e1e" stroke="#1e1e1e" stroke-width="0.22" text-anchor="end">10<tspan font-size="3.8" dy="-2.0">−5</tspan></text>
<text x="439" y="5.5" font-size="8" fill="#111" stroke="#111" stroke-width="0.26" text-anchor="middle">M3 Chicago</text>
<text x="439" y="161.4" font-size="7.6" fill="#111" stroke="#111" stroke-width="0.24" text-anchor="middle" textLength="21.3" lengthAdjust="spacingAndGlyphs"><tspan font-style="italic">d</tspan>(<tspan font-style="italic">km</tspan>)</text>
<text transform="translate(350.3,77.55) rotate(-90)" font-size="7.6" fill="#111" stroke="#111" stroke-width="0.24" text-anchor="middle" textLength="14.4" lengthAdjust="spacingAndGlyphs"><tspan font-style="italic">P</tspan>(<tspan font-style="italic">d</tspan>)</text>
<text x="349.6" y="9.8" font-size="14" font-weight="bold" fill="#000" stroke="#000" stroke-width="0.45" textLength="16.1" lengthAdjust="spacingAndGlyphs">(c)</text>
<text x="557.6" y="125" font-size="4.3" fill="#262626" stroke="#262626" stroke-width="0.14" textLength="19" lengthAdjust="spacingAndGlyphs"><tspan font-style="italic">λ</tspan> = 0.062</text>
<text x="557.6" y="131.1" font-size="4.3" fill="#262626" stroke="#262626" stroke-width="0.14" textLength="43.7" lengthAdjust="spacingAndGlyphs">Empirical observation</text>
<text x="557.6" y="137" font-size="4.3" fill="#262626" stroke="#262626" stroke-width="0.14" textLength="35.1" lengthAdjust="spacingAndGlyphs">Prediction (10-m)</text>
<text x="557.6" y="142.85" font-size="4.3" fill="#262626" stroke="#262626" stroke-width="0.14" textLength="35.1" lengthAdjust="spacingAndGlyphs">Prediction (30-m)</text>
<text x="545.3" y="153.8" font-size="5.4" fill="#1e1e1e" stroke="#1e1e1e" stroke-width="0.22">10<tspan font-size="3.8" dy="-2.0">0</tspan></text>
<text x="604.25" y="153.8" font-size="5.4" fill="#1e1e1e" stroke="#1e1e1e" stroke-width="0.22">10<tspan font-size="3.8" dy="-2.0">1</tspan></text>
<text x="663.2" y="153.8" font-size="5.4" fill="#1e1e1e" stroke="#1e1e1e" stroke-width="0.22">10<tspan font-size="3.8" dy="-2.0">2</tspan></text>
<text x="539.5" y="21.15" font-size="5.4" fill="#1e1e1e" stroke="#1e1e1e" stroke-width="0.22" text-anchor="end">10<tspan font-size="3.8" dy="-2.0">−1</tspan></text>
<text x="539.5" y="48.95" font-size="5.4" fill="#1e1e1e" stroke="#1e1e1e" stroke-width="0.22" text-anchor="end">10<tspan font-size="3.8" dy="-2.0">−2</tspan></text>
<text x="539.5" y="76.75" font-size="5.4" fill="#1e1e1e" stroke="#1e1e1e" stroke-width="0.22" text-anchor="end">10<tspan font-size="3.8" dy="-2.0">−3</tspan></text>
<text x="539.5" y="104.55" font-size="5.4" fill="#1e1e1e" stroke="#1e1e1e" stroke-width="0.22" text-anchor="end">10<tspan font-size="3.8" dy="-2.0">−4</tspan></text>
<text x="539.5" y="132.35" font-size="5.4" fill="#1e1e1e" stroke="#1e1e1e" stroke-width="0.22" text-anchor="end">10<tspan font-size="3.8" dy="-2.0">−5</tspan></text>
<text x="613.7" y="5.5" font-size="8" fill="#111" stroke="#111" stroke-width="0.26" text-anchor="middle">M4 Dallas</text>
<text x="613.7" y="161.4" font-size="7.6" fill="#111" stroke="#111" stroke-width="0.24" text-anchor="middle" textLength="21.3" lengthAdjust="spacingAndGlyphs"><tspan font-style="italic">d</tspan>(<tspan font-style="italic">km</tspan>)</text>
<text transform="translate(524.8,77.55) rotate(-90)" font-size="7.6" fill="#111" stroke="#111" stroke-width="0.24" text-anchor="middle" textLength="14.4" lengthAdjust="spacingAndGlyphs"><tspan font-style="italic">P</tspan>(<tspan font-style="italic">d</tspan>)</text>
<text x="524" y="9.8" font-size="14" font-weight="bold" fill="#000" stroke="#000" stroke-width="0.45" textLength="16.8" lengthAdjust="spacingAndGlyphs">(d)</text>
<text x="38" y="302.9" font-size="4.3" fill="#262626" stroke="#262626" stroke-width="0.14" textLength="19" lengthAdjust="spacingAndGlyphs"><tspan font-style="italic">λ</tspan> = 0.061</text>
<text x="38" y="309" font-size="4.3" fill="#262626" stroke="#262626" stroke-width="0.14" textLength="43.7" lengthAdjust="spacingAndGlyphs">Empirical observation</text>
<text x="38" y="314.9" font-size="4.3" fill="#262626" stroke="#262626" stroke-width="0.14" textLength="35.1" lengthAdjust="spacingAndGlyphs">Prediction (10-m)</text>
<text x="38" y="320.75" font-size="4.3" fill="#262626" stroke="#262626" stroke-width="0.14" textLength="35.1" lengthAdjust="spacingAndGlyphs">Prediction (30-m)</text>
<text x="24.9" y="331.7" font-size="5.4" fill="#1e1e1e" stroke="#1e1e1e" stroke-width="0.22">10<tspan font-size="3.8" dy="-2.0">0</tspan></text>
<text x="83.65" y="331.7" font-size="5.4" fill="#1e1e1e" stroke="#1e1e1e" stroke-width="0.22">10<tspan font-size="3.8" dy="-2.0">1</tspan></text>
<text x="142.4" y="331.7" font-size="5.4" fill="#1e1e1e" stroke="#1e1e1e" stroke-width="0.22">10<tspan font-size="3.8" dy="-2.0">2</tspan></text>
<text x="19.9" y="199.2" font-size="5.4" fill="#1e1e1e" stroke="#1e1e1e" stroke-width="0.22" text-anchor="end">10<tspan font-size="3.8" dy="-2.0">−1</tspan></text>
<text x="19.9" y="227" font-size="5.4" fill="#1e1e1e" stroke="#1e1e1e" stroke-width="0.22" text-anchor="end">10<tspan font-size="3.8" dy="-2.0">−2</tspan></text>
<text x="19.9" y="254.8" font-size="5.4" fill="#1e1e1e" stroke="#1e1e1e" stroke-width="0.22" text-anchor="end">10<tspan font-size="3.8" dy="-2.0">−3</tspan></text>
<text x="19.9" y="282.6" font-size="5.4" fill="#1e1e1e" stroke="#1e1e1e" stroke-width="0.22" text-anchor="end">10<tspan font-size="3.8" dy="-2.0">−4</tspan></text>
<text x="19.9" y="310.4" font-size="5.4" fill="#1e1e1e" stroke="#1e1e1e" stroke-width="0.22" text-anchor="end">10<tspan font-size="3.8" dy="-2.0">−5</tspan></text>
<text x="93.95" y="183.5" font-size="8" fill="#111" stroke="#111" stroke-width="0.26" text-anchor="middle">M5 Houston</text>
<text x="93.95" y="339.3" font-size="7.6" fill="#111" stroke="#111" stroke-width="0.24" text-anchor="middle" textLength="21.3" lengthAdjust="spacingAndGlyphs"><tspan font-style="italic">d</tspan>(<tspan font-style="italic">km</tspan>)</text>
<text transform="translate(5.2,255.5) rotate(-90)" font-size="7.6" fill="#111" stroke="#111" stroke-width="0.24" text-anchor="middle" textLength="14.4" lengthAdjust="spacingAndGlyphs"><tspan font-style="italic">P</tspan>(<tspan font-style="italic">d</tspan>)</text>
<text x="4.8" y="187" font-size="14" font-weight="bold" fill="#000" stroke="#000" stroke-width="0.45" textLength="15.6" lengthAdjust="spacingAndGlyphs">(e)</text>
<text x="210.8" y="302.9" font-size="4.3" fill="#262626" stroke="#262626" stroke-width="0.14" textLength="19" lengthAdjust="spacingAndGlyphs"><tspan font-style="italic">λ</tspan> = 0.075</text>
<text x="210.8" y="309" font-size="4.3" fill="#262626" stroke="#262626" stroke-width="0.14" textLength="43.7" lengthAdjust="spacingAndGlyphs">Empirical observation</text>
<text x="210.8" y="314.9" font-size="4.3" fill="#262626" stroke="#262626" stroke-width="0.14" textLength="35.1" lengthAdjust="spacingAndGlyphs">Prediction (10-m)</text>
<text x="210.8" y="320.75" font-size="4.3" fill="#262626" stroke="#262626" stroke-width="0.14" textLength="35.1" lengthAdjust="spacingAndGlyphs">Prediction (30-m)</text>
<text x="197.2" y="331.7" font-size="5.4" fill="#1e1e1e" stroke="#1e1e1e" stroke-width="0.22">10<tspan font-size="3.8" dy="-2.0">0</tspan></text>
<text x="256.2" y="331.7" font-size="5.4" fill="#1e1e1e" stroke="#1e1e1e" stroke-width="0.22">10<tspan font-size="3.8" dy="-2.0">1</tspan></text>
<text x="315.2" y="331.7" font-size="5.4" fill="#1e1e1e" stroke="#1e1e1e" stroke-width="0.22">10<tspan font-size="3.8" dy="-2.0">2</tspan></text>
<text x="192.7" y="199.2" font-size="5.4" fill="#1e1e1e" stroke="#1e1e1e" stroke-width="0.22" text-anchor="end">10<tspan font-size="3.8" dy="-2.0">−1</tspan></text>
<text x="192.7" y="227" font-size="5.4" fill="#1e1e1e" stroke="#1e1e1e" stroke-width="0.22" text-anchor="end">10<tspan font-size="3.8" dy="-2.0">−2</tspan></text>
<text x="192.7" y="254.8" font-size="5.4" fill="#1e1e1e" stroke="#1e1e1e" stroke-width="0.22" text-anchor="end">10<tspan font-size="3.8" dy="-2.0">−3</tspan></text>
<text x="192.7" y="282.6" font-size="5.4" fill="#1e1e1e" stroke="#1e1e1e" stroke-width="0.22" text-anchor="end">10<tspan font-size="3.8" dy="-2.0">−4</tspan></text>
<text x="192.7" y="310.4" font-size="5.4" fill="#1e1e1e" stroke="#1e1e1e" stroke-width="0.22" text-anchor="end">10<tspan font-size="3.8" dy="-2.0">−5</tspan></text>
<text x="266.9" y="183.5" font-size="8" fill="#111" stroke="#111" stroke-width="0.26" text-anchor="middle">M6 D.C.</text>
<text x="266.9" y="339.3" font-size="7.6" fill="#111" stroke="#111" stroke-width="0.24" text-anchor="middle" textLength="21.3" lengthAdjust="spacingAndGlyphs"><tspan font-style="italic">d</tspan>(<tspan font-style="italic">km</tspan>)</text>
<text transform="translate(178,255.5) rotate(-90)" font-size="7.6" fill="#111" stroke="#111" stroke-width="0.24" text-anchor="middle" textLength="14.4" lengthAdjust="spacingAndGlyphs"><tspan font-style="italic">P</tspan>(<tspan font-style="italic">d</tspan>)</text>
<text x="180.9" y="187" font-size="14" font-weight="bold" fill="#000" stroke="#000" stroke-width="0.45" textLength="12.4" lengthAdjust="spacingAndGlyphs">(f)</text>
<text x="382" y="302.9" font-size="4.3" fill="#262626" stroke="#262626" stroke-width="0.14" textLength="19" lengthAdjust="spacingAndGlyphs"><tspan font-style="italic">λ</tspan> = 0.099</text>
<text x="382" y="309" font-size="4.3" fill="#262626" stroke="#262626" stroke-width="0.14" textLength="43.7" lengthAdjust="spacingAndGlyphs">Empirical observation</text>
<text x="382" y="314.9" font-size="4.3" fill="#262626" stroke="#262626" stroke-width="0.14" textLength="35.1" lengthAdjust="spacingAndGlyphs">Prediction (10-m)</text>
<text x="382" y="320.75" font-size="4.3" fill="#262626" stroke="#262626" stroke-width="0.14" textLength="35.1" lengthAdjust="spacingAndGlyphs">Prediction (30-m)</text>
<text x="369.1" y="331.7" font-size="5.4" fill="#1e1e1e" stroke="#1e1e1e" stroke-width="0.22">10<tspan font-size="3.8" dy="-2.0">0</tspan></text>
<text x="428.15" y="331.7" font-size="5.4" fill="#1e1e1e" stroke="#1e1e1e" stroke-width="0.22">10<tspan font-size="3.8" dy="-2.0">1</tspan></text>
<text x="487.2" y="331.7" font-size="5.4" fill="#1e1e1e" stroke="#1e1e1e" stroke-width="0.22">10<tspan font-size="3.8" dy="-2.0">2</tspan></text>
<text x="363.9" y="199.2" font-size="5.4" fill="#1e1e1e" stroke="#1e1e1e" stroke-width="0.22" text-anchor="end">10<tspan font-size="3.8" dy="-2.0">−1</tspan></text>
<text x="363.9" y="227" font-size="5.4" fill="#1e1e1e" stroke="#1e1e1e" stroke-width="0.22" text-anchor="end">10<tspan font-size="3.8" dy="-2.0">−2</tspan></text>
<text x="363.9" y="254.8" font-size="5.4" fill="#1e1e1e" stroke="#1e1e1e" stroke-width="0.22" text-anchor="end">10<tspan font-size="3.8" dy="-2.0">−3</tspan></text>
<text x="363.9" y="282.6" font-size="5.4" fill="#1e1e1e" stroke="#1e1e1e" stroke-width="0.22" text-anchor="end">10<tspan font-size="3.8" dy="-2.0">−4</tspan></text>
<text x="363.9" y="310.4" font-size="5.4" fill="#1e1e1e" stroke="#1e1e1e" stroke-width="0.22" text-anchor="end">10<tspan font-size="3.8" dy="-2.0">−5</tspan></text>
<text x="438.05" y="183.5" font-size="8" fill="#111" stroke="#111" stroke-width="0.26" text-anchor="middle">M7 Philadelphia</text>
<text x="438.05" y="339.3" font-size="7.6" fill="#111" stroke="#111" stroke-width="0.24" text-anchor="middle" textLength="21.3" lengthAdjust="spacingAndGlyphs"><tspan font-style="italic">d</tspan>(<tspan font-style="italic">km</tspan>)</text>
<text transform="translate(349.2,255.5) rotate(-90)" font-size="7.6" fill="#111" stroke="#111" stroke-width="0.24" text-anchor="middle" textLength="14.4" lengthAdjust="spacingAndGlyphs"><tspan font-style="italic">P</tspan>(<tspan font-style="italic">d</tspan>)</text>
<text x="348.2" y="187" font-size="14" font-weight="bold" fill="#000" stroke="#000" stroke-width="0.45" textLength="16.5" lengthAdjust="spacingAndGlyphs">(g)</text>
<text x="557.9" y="302.9" font-size="4.3" fill="#262626" stroke="#262626" stroke-width="0.14" textLength="19" lengthAdjust="spacingAndGlyphs"><tspan font-style="italic">λ</tspan> = 0.083</text>
<text x="557.9" y="309" font-size="4.3" fill="#262626" stroke="#262626" stroke-width="0.14" textLength="43.7" lengthAdjust="spacingAndGlyphs">Empirical observation</text>
<text x="557.9" y="314.9" font-size="4.3" fill="#262626" stroke="#262626" stroke-width="0.14" textLength="35.1" lengthAdjust="spacingAndGlyphs">Prediction (10-m)</text>
<text x="557.9" y="320.75" font-size="4.3" fill="#262626" stroke="#262626" stroke-width="0.14" textLength="35.1" lengthAdjust="spacingAndGlyphs">Prediction (30-m)</text>
<text x="545.25" y="331.7" font-size="5.4" fill="#1e1e1e" stroke="#1e1e1e" stroke-width="0.22">10<tspan font-size="3.8" dy="-2.0">0</tspan></text>
<text x="604.25" y="331.7" font-size="5.4" fill="#1e1e1e" stroke="#1e1e1e" stroke-width="0.22">10<tspan font-size="3.8" dy="-2.0">1</tspan></text>
<text x="663.25" y="331.7" font-size="5.4" fill="#1e1e1e" stroke="#1e1e1e" stroke-width="0.22">10<tspan font-size="3.8" dy="-2.0">2</tspan></text>
<text x="539.8" y="199.2" font-size="5.4" fill="#1e1e1e" stroke="#1e1e1e" stroke-width="0.22" text-anchor="end">10<tspan font-size="3.8" dy="-2.0">−1</tspan></text>
<text x="539.8" y="227" font-size="5.4" fill="#1e1e1e" stroke="#1e1e1e" stroke-width="0.22" text-anchor="end">10<tspan font-size="3.8" dy="-2.0">−2</tspan></text>
<text x="539.8" y="254.8" font-size="5.4" fill="#1e1e1e" stroke="#1e1e1e" stroke-width="0.22" text-anchor="end">10<tspan font-size="3.8" dy="-2.0">−3</tspan></text>
<text x="539.8" y="282.6" font-size="5.4" fill="#1e1e1e" stroke="#1e1e1e" stroke-width="0.22" text-anchor="end">10<tspan font-size="3.8" dy="-2.0">−4</tspan></text>
<text x="539.8" y="310.4" font-size="5.4" fill="#1e1e1e" stroke="#1e1e1e" stroke-width="0.22" text-anchor="end">10<tspan font-size="3.8" dy="-2.0">−5</tspan></text>
<text x="613.85" y="183.5" font-size="8" fill="#111" stroke="#111" stroke-width="0.26" text-anchor="middle">M8 Miami</text>
<text x="613.85" y="339.3" font-size="7.6" fill="#111" stroke="#111" stroke-width="0.24" text-anchor="middle" textLength="21.3" lengthAdjust="spacingAndGlyphs"><tspan font-style="italic">d</tspan>(<tspan font-style="italic">km</tspan>)</text>
<text transform="translate(525.1,255.5) rotate(-90)" font-size="7.6" fill="#111" stroke="#111" stroke-width="0.24" text-anchor="middle" textLength="14.4" lengthAdjust="spacingAndGlyphs"><tspan font-style="italic">P</tspan>(<tspan font-style="italic">d</tspan>)</text>
<text x="522.3" y="187" font-size="14" font-weight="bold" fill="#000" stroke="#000" stroke-width="0.45" textLength="17" lengthAdjust="spacingAndGlyphs">(h)</text>
<text x="210.2" y="473.2" font-size="4.3" fill="#262626" stroke="#262626" stroke-width="0.14" textLength="19" lengthAdjust="spacingAndGlyphs"><tspan font-style="italic">λ</tspan> = 0.062</text>
<text x="210.2" y="479.3" font-size="4.3" fill="#262626" stroke="#262626" stroke-width="0.14" textLength="43.7" lengthAdjust="spacingAndGlyphs">Empirical observation</text>
<text x="210.2" y="485.2" font-size="4.3" fill="#262626" stroke="#262626" stroke-width="0.14" textLength="35.1" lengthAdjust="spacingAndGlyphs">Prediction (10 m)</text>
<text x="210.2" y="491.05" font-size="4.3" fill="#262626" stroke="#262626" stroke-width="0.14" textLength="35.1" lengthAdjust="spacingAndGlyphs">Prediction (30 m)</text>
<text x="197.2" y="502" font-size="5.4" fill="#1e1e1e" stroke="#1e1e1e" stroke-width="0.22">10<tspan font-size="3.8" dy="-2.0">0</tspan></text>
<text x="256.3" y="502" font-size="5.4" fill="#1e1e1e" stroke="#1e1e1e" stroke-width="0.22">10<tspan font-size="3.8" dy="-2.0">1</tspan></text>
<text x="315.4" y="502" font-size="5.4" fill="#1e1e1e" stroke="#1e1e1e" stroke-width="0.22">10<tspan font-size="3.8" dy="-2.0">2</tspan></text>
<text x="192.1" y="369.3" font-size="5.4" fill="#1e1e1e" stroke="#1e1e1e" stroke-width="0.22" text-anchor="end">10<tspan font-size="3.8" dy="-2.0">−1</tspan></text>
<text x="192.1" y="397.1" font-size="5.4" fill="#1e1e1e" stroke="#1e1e1e" stroke-width="0.22" text-anchor="end">10<tspan font-size="3.8" dy="-2.0">−2</tspan></text>
<text x="192.1" y="424.9" font-size="5.4" fill="#1e1e1e" stroke="#1e1e1e" stroke-width="0.22" text-anchor="end">10<tspan font-size="3.8" dy="-2.0">−3</tspan></text>
<text x="192.1" y="452.7" font-size="5.4" fill="#1e1e1e" stroke="#1e1e1e" stroke-width="0.22" text-anchor="end">10<tspan font-size="3.8" dy="-2.0">−4</tspan></text>
<text x="192.1" y="480.5" font-size="5.4" fill="#1e1e1e" stroke="#1e1e1e" stroke-width="0.22" text-anchor="end">10<tspan font-size="3.8" dy="-2.0">−5</tspan></text>
<text x="266.15" y="354" font-size="8" fill="#111" stroke="#111" stroke-width="0.26" text-anchor="middle">M9 Atlanta</text>
<text x="266.15" y="509.6" font-size="7.6" fill="#111" stroke="#111" stroke-width="0.24" text-anchor="middle" textLength="21.3" lengthAdjust="spacingAndGlyphs"><tspan font-style="italic">d</tspan>(<tspan font-style="italic">km</tspan>)</text>
<text transform="translate(177.4,425.9) rotate(-90)" font-size="7.6" fill="#111" stroke="#111" stroke-width="0.24" text-anchor="middle" textLength="14.4" lengthAdjust="spacingAndGlyphs"><tspan font-style="italic">P</tspan>(<tspan font-style="italic">d</tspan>)</text>
<text x="180.6" y="358.3" font-size="14" font-weight="bold" fill="#000" stroke="#000" stroke-width="0.45" textLength="11.5" lengthAdjust="spacingAndGlyphs">(i)</text>
<text x="385.4" y="473.2" font-size="4.3" fill="#262626" stroke="#262626" stroke-width="0.14" textLength="19" lengthAdjust="spacingAndGlyphs"><tspan font-style="italic">λ</tspan> = 0.058</text>
<text x="385.4" y="479.3" font-size="4.3" fill="#262626" stroke="#262626" stroke-width="0.14" textLength="43.7" lengthAdjust="spacingAndGlyphs">Empirical observation</text>
<text x="385.4" y="485.2" font-size="4.3" fill="#262626" stroke="#262626" stroke-width="0.14" textLength="35.1" lengthAdjust="spacingAndGlyphs">Prediction (10 m)</text>
<text x="385.4" y="491.05" font-size="4.3" fill="#262626" stroke="#262626" stroke-width="0.14" textLength="35.1" lengthAdjust="spacingAndGlyphs">Prediction (30 m)</text>
<text x="372.4" y="502" font-size="5.4" fill="#1e1e1e" stroke="#1e1e1e" stroke-width="0.22">10<tspan font-size="3.8" dy="-2.0">0</tspan></text>
<text x="431.4" y="502" font-size="5.4" fill="#1e1e1e" stroke="#1e1e1e" stroke-width="0.22">10<tspan font-size="3.8" dy="-2.0">1</tspan></text>
<text x="490.4" y="502" font-size="5.4" fill="#1e1e1e" stroke="#1e1e1e" stroke-width="0.22">10<tspan font-size="3.8" dy="-2.0">2</tspan></text>
<text x="367.3" y="369.3" font-size="5.4" fill="#1e1e1e" stroke="#1e1e1e" stroke-width="0.22" text-anchor="end">10<tspan font-size="3.8" dy="-2.0">−1</tspan></text>
<text x="367.3" y="397.1" font-size="5.4" fill="#1e1e1e" stroke="#1e1e1e" stroke-width="0.22" text-anchor="end">10<tspan font-size="3.8" dy="-2.0">−2</tspan></text>
<text x="367.3" y="424.9" font-size="5.4" fill="#1e1e1e" stroke="#1e1e1e" stroke-width="0.22" text-anchor="end">10<tspan font-size="3.8" dy="-2.0">−3</tspan></text>
<text x="367.3" y="452.7" font-size="5.4" fill="#1e1e1e" stroke="#1e1e1e" stroke-width="0.22" text-anchor="end">10<tspan font-size="3.8" dy="-2.0">−4</tspan></text>
<text x="367.3" y="480.5" font-size="5.4" fill="#1e1e1e" stroke="#1e1e1e" stroke-width="0.22" text-anchor="end">10<tspan font-size="3.8" dy="-2.0">−5</tspan></text>
<text x="441.6" y="354" font-size="8" fill="#111" stroke="#111" stroke-width="0.26" text-anchor="middle">M10 Phoenix</text>
<text x="441.6" y="509.6" font-size="7.6" fill="#111" stroke="#111" stroke-width="0.24" text-anchor="middle" textLength="21.3" lengthAdjust="spacingAndGlyphs"><tspan font-style="italic">d</tspan>(<tspan font-style="italic">km</tspan>)</text>
<text transform="translate(352.6,425.9) rotate(-90)" font-size="7.6" fill="#111" stroke="#111" stroke-width="0.24" text-anchor="middle" textLength="14.4" lengthAdjust="spacingAndGlyphs"><tspan font-style="italic">P</tspan>(<tspan font-style="italic">d</tspan>)</text>
<text x="354.3" y="358.3" font-size="14" font-weight="bold" fill="#000" stroke="#000" stroke-width="0.45" textLength="12.1" lengthAdjust="spacingAndGlyphs">(j)</text>
</g>
</svg></body></html>
